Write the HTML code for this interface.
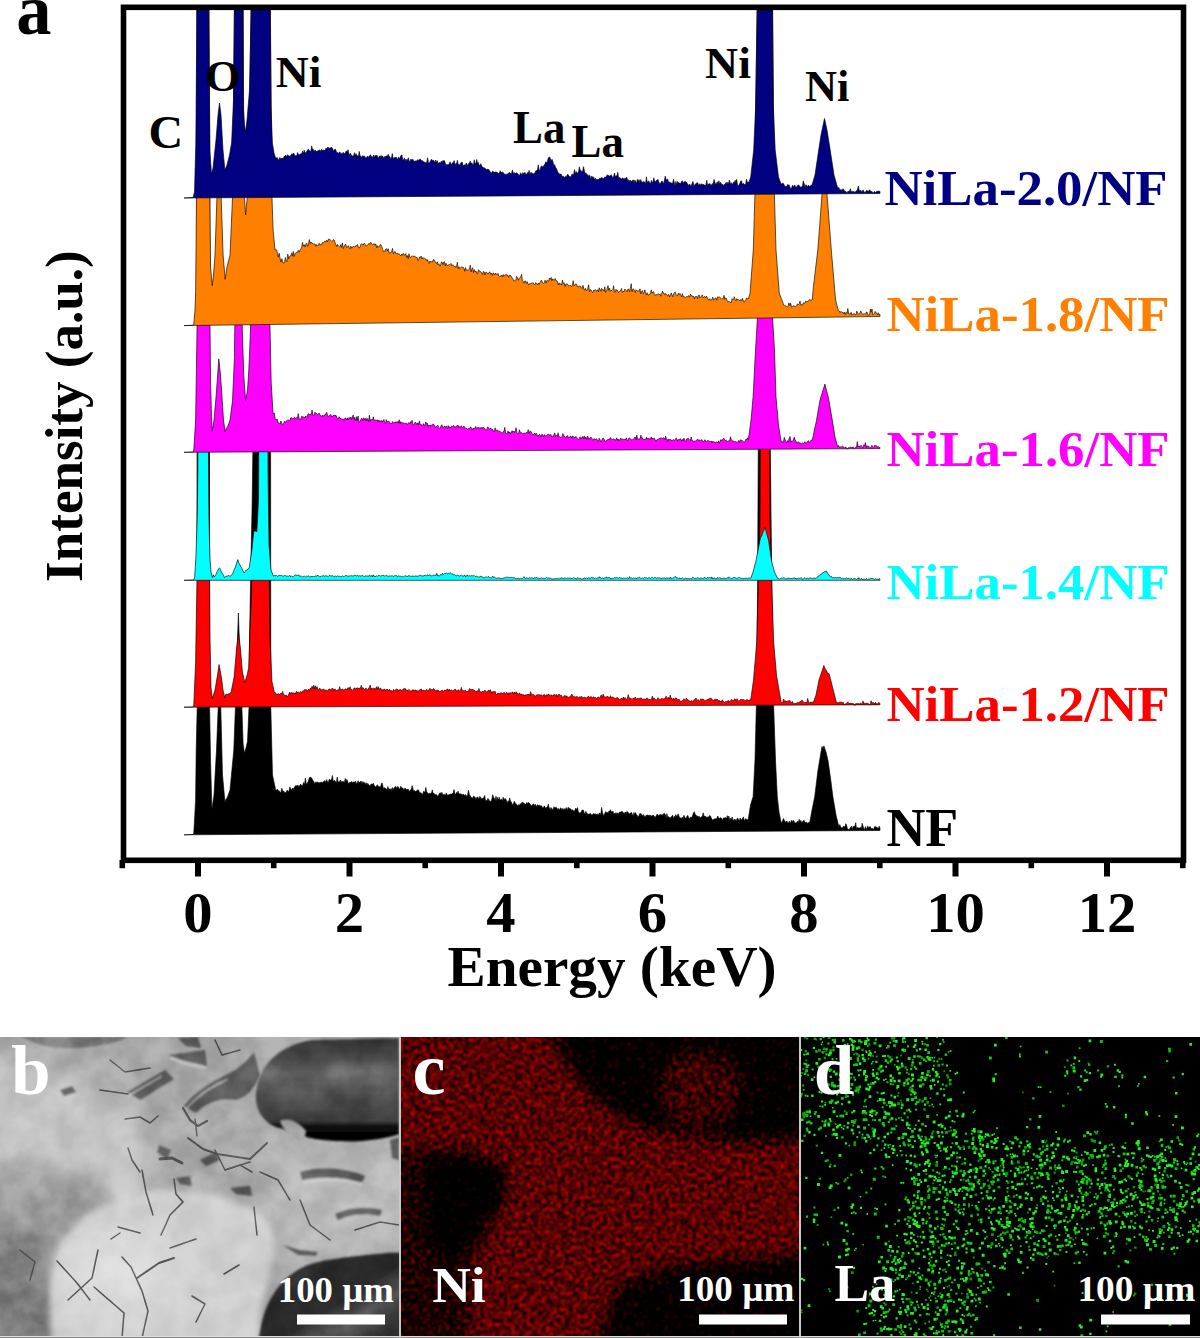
<!DOCTYPE html>
<html><head><meta charset="utf-8"><style>
html,body{margin:0;padding:0;background:#fff;}
svg{display:block;}
</style></head><body>
<svg width="1200" height="1338" viewBox="0 0 1200 1338">

<defs><clipPath id="plot"><rect x="126" y="10" width="1055" height="848"/></clipPath></defs>
<g clip-path="url(#plot)">
<path d="M184.0 834.8L193.0 834.5L193.8 833.0L195.6 800.0L196.2 750.0L197.2 707.5L197.3 440.0L209.4 440.0L209.6 707.5L210.6 762.5L211.9 809.4L214.0 795.0L216.5 750.0L218.2 707.5L219.4 690.0L220.8 707.5L222.5 775.0L225.0 802.5L225.8 799.4L226.7 798.3L227.5 797.0L230.0 790.0L233.8 750.0L235.4 707.5L236.8 660.0L238.4 613.0L240.0 660.0L241.9 707.5L243.1 743.8L244.4 753.0L246.0 748.0L247.5 741.2L249.0 707.5L249.5 640.0L250.6 580.0L252.2 500.0L253.0 440.0L270.6 440.0L270.8 707.5L272.5 775.0L275.6 789.4L276.5 790.3L277.4 789.0L278.2 791.0L279.1 790.7L280.0 792.5L280.9 792.3L281.8 788.2L282.7 791.6L283.6 791.1L284.5 792.2L285.4 792.8L286.2 791.9L287.1 790.2L288.0 791.0L288.9 791.7L289.8 786.9L290.7 788.7L291.6 789.8L292.5 788.0L293.4 788.9L294.2 787.7L295.1 786.2L295.9 785.5L296.8 786.1L297.6 785.1L298.5 786.1L299.3 786.6L300.2 784.6L301.0 784.4L301.9 786.2L302.8 785.1L303.6 782.4L304.5 784.9L305.4 778.0L306.3 784.2L307.1 783.5L308.0 782.0L308.8 779.5L309.6 777.4L310.4 777.3L311.2 777.5L312.2 779.1L313.1 780.7L314.0 782.0L314.9 784.0L315.7 781.8L316.6 782.9L317.4 781.8L318.3 782.8L319.1 783.3L320.0 782.0L320.8 782.5L321.7 782.2L322.5 782.4L323.3 782.0L324.2 781.0L325.0 780.6L325.8 782.9L326.7 779.6L327.5 782.1L328.3 782.7L329.2 779.2L330.0 780.0L330.8 780.0L331.6 779.4L332.4 775.5L333.2 781.9L334.0 780.4L334.8 780.5L335.6 782.0L336.4 783.0L337.2 777.1L338.0 781.7L338.8 782.1L339.6 781.7L340.4 780.0L341.2 783.2L342.0 780.9L342.8 782.1L343.6 781.6L344.4 782.5L345.2 778.6L346.0 780.9L346.8 779.5L347.6 781.1L348.4 783.9L349.2 782.8L350.0 782.5L350.8 782.5L351.6 781.4L352.4 782.9L353.2 781.9L354.0 781.9L354.8 782.1L355.6 781.3L356.5 784.3L357.3 782.5L358.1 780.7L358.9 783.3L359.7 782.0L360.5 781.6L361.3 781.3L362.1 783.9L362.9 781.5L363.7 783.1L364.5 782.4L365.3 784.7L366.1 782.7L366.9 785.1L367.7 783.3L368.5 784.4L369.4 785.3L370.2 786.1L371.0 784.1L371.8 784.2L372.6 784.1L373.4 783.3L374.2 785.8L375.0 786.2L375.8 787.3L376.6 785.7L377.4 784.7L378.2 786.2L379.0 787.0L379.8 786.4L380.6 787.1L381.5 783.2L382.3 783.3L383.1 787.2L383.9 789.1L384.7 787.5L385.5 788.2L386.3 789.3L387.1 789.6L387.9 786.6L388.7 789.4L389.5 789.1L390.3 789.4L391.1 788.4L391.9 790.8L392.7 787.6L393.5 790.1L394.4 787.5L395.2 786.7L396.0 786.6L396.8 788.7L397.6 786.5L398.4 786.9L399.2 789.1L400.0 788.8L400.8 786.2L401.6 788.0L402.4 788.0L403.2 788.5L404.0 790.1L404.8 788.2L405.6 788.5L406.5 789.4L407.3 789.4L408.1 789.0L408.9 790.8L409.7 791.5L410.5 789.8L411.3 790.3L412.1 785.6L412.9 788.6L413.7 791.5L414.5 790.5L415.3 791.4L416.1 791.0L416.9 790.9L417.7 789.7L418.5 790.0L419.4 792.6L420.2 793.1L421.0 792.6L421.8 794.3L422.6 794.8L423.4 791.4L424.2 791.6L425.0 792.5L425.8 787.5L426.6 791.8L427.4 792.7L428.2 794.0L429.0 793.2L429.8 793.6L430.6 793.4L431.5 793.0L432.3 789.9L433.1 793.6L433.9 793.1L434.7 794.7L435.5 794.6L436.3 794.7L437.1 795.3L437.9 796.5L438.7 794.9L439.5 793.3L440.3 792.7L441.1 794.0L441.9 792.3L442.7 794.8L443.5 794.8L444.4 794.0L445.2 795.9L446.0 793.4L446.8 793.6L447.6 795.4L448.4 794.9L449.2 794.4L450.0 794.5L450.8 794.0L451.6 794.1L452.4 793.6L453.2 793.3L454.0 789.6L454.8 793.6L455.6 794.4L456.5 792.4L457.3 793.6L458.1 791.1L458.9 794.1L459.7 793.9L460.5 793.7L461.3 793.9L462.1 795.5L462.9 794.1L463.7 794.6L464.5 795.5L465.3 794.4L466.1 795.7L466.9 796.4L467.7 794.5L468.5 790.2L469.4 794.9L470.2 796.0L471.0 796.7L471.8 797.9L472.6 798.2L473.4 796.3L474.2 796.7L475.0 797.0L475.8 799.8L476.6 797.6L477.4 797.1L478.2 797.4L479.0 799.3L479.8 796.5L480.6 797.3L481.5 799.0L482.3 798.5L483.1 797.9L483.9 797.8L484.7 795.5L485.5 801.1L486.3 800.2L487.1 800.8L487.9 798.4L488.7 799.3L489.5 801.3L490.3 801.3L491.1 801.4L491.9 798.9L492.7 794.7L493.5 797.3L494.4 798.2L495.2 800.7L496.0 796.3L496.8 801.3L497.6 797.4L498.4 800.4L499.2 797.2L500.0 800.0L500.8 800.0L501.6 798.9L502.4 801.5L503.2 797.2L504.0 799.4L504.8 798.9L505.6 798.7L506.5 800.7L507.3 803.2L508.1 800.8L508.9 801.8L509.7 797.9L510.5 801.7L511.3 801.8L512.1 804.5L512.9 804.4L513.7 802.8L514.5 801.2L515.3 803.9L516.1 803.6L516.9 804.8L517.7 806.2L518.5 804.5L519.4 805.9L520.2 803.6L521.0 804.8L521.8 802.4L522.6 802.5L523.4 802.8L524.2 803.2L525.0 804.5L525.8 804.4L526.6 802.6L527.4 804.3L528.2 802.1L529.0 803.5L529.8 803.5L530.6 805.1L531.5 806.1L532.3 805.1L533.1 804.1L533.9 803.9L534.7 806.5L535.5 804.3L536.3 806.4L537.1 805.4L537.9 804.7L538.7 805.8L539.5 805.0L540.3 805.9L541.1 805.7L541.9 806.3L542.7 807.9L543.5 807.4L544.4 805.8L545.2 807.5L546.0 808.6L546.8 807.0L547.6 806.5L548.4 804.1L549.2 809.6L550.0 807.5L550.8 810.6L551.6 807.7L552.4 809.7L553.2 809.4L554.0 806.7L554.8 807.9L555.6 807.4L556.5 807.6L557.3 809.6L558.1 808.3L558.9 809.5L559.7 809.7L560.5 807.7L561.3 808.5L562.1 810.1L562.9 808.4L563.7 809.7L564.5 809.0L565.3 808.4L566.1 809.5L566.9 807.5L567.7 810.7L568.5 807.3L569.4 808.6L570.2 808.7L571.0 809.2L571.8 810.6L572.6 809.7L573.4 810.7L574.2 811.4L575.0 810.0L575.8 808.1L576.7 810.0L577.5 807.6L578.3 811.6L579.2 812.9L580.0 812.9L580.8 812.8L581.7 810.5L582.5 810.1L583.3 810.0L584.2 812.9L585.0 814.3L585.8 811.4L586.7 813.2L587.5 813.8L588.3 814.2L589.2 814.3L590.0 813.6L590.8 813.7L591.7 815.3L592.5 814.7L593.3 813.6L594.2 814.1L595.0 813.9L595.8 814.2L596.7 814.6L597.5 814.2L598.3 814.8L599.2 813.2L600.0 813.2L600.8 814.7L601.6 807.4L602.4 812.0L603.2 815.4L604.1 814.7L604.9 813.2L605.7 811.6L606.5 812.8L607.3 812.3L608.1 813.4L608.9 811.1L609.7 811.2L610.5 809.7L611.4 812.1L612.2 811.8L613.0 811.1L613.8 813.7L614.6 813.5L615.4 813.2L616.2 812.7L617.0 814.4L617.8 812.8L618.6 814.2L619.5 812.1L620.3 812.3L621.1 811.8L621.9 811.4L622.7 811.8L623.5 813.3L624.3 813.7L625.1 812.1L625.9 812.9L626.8 811.7L627.6 811.8L628.4 812.7L629.2 814.1L630.0 813.6L630.8 812.7L631.6 812.6L632.4 815.0L633.2 815.6L634.0 812.5L634.8 814.4L635.6 812.6L636.4 814.8L637.2 815.3L638.0 816.7L638.8 816.3L639.6 813.7L640.4 813.6L641.2 813.7L642.0 814.9L642.8 816.2L643.6 814.6L644.4 816.6L645.2 816.9L646.0 815.3L646.8 815.3L647.6 814.9L648.4 815.9L649.2 814.8L650.0 816.0L650.8 815.2L651.6 816.6L652.4 815.4L653.2 815.1L654.0 816.0L654.8 817.3L655.6 816.9L656.5 815.2L657.3 814.0L658.1 815.1L658.9 816.3L659.7 814.5L660.5 814.4L661.3 815.2L662.1 814.3L662.9 815.7L663.7 813.6L664.5 813.5L665.3 814.5L666.1 818.1L666.9 813.7L667.7 817.8L668.5 816.5L669.4 817.3L670.2 818.6L671.0 816.8L671.8 816.7L672.6 815.0L673.4 819.0L674.2 816.2L675.0 817.4L675.8 814.6L676.6 816.3L677.4 816.2L678.2 813.8L679.0 816.2L679.8 817.7L680.6 818.0L681.5 818.4L682.3 817.1L683.1 818.5L683.9 815.3L684.7 816.8L685.5 819.3L686.3 817.4L687.1 816.1L687.9 815.5L688.7 817.9L689.5 818.4L690.3 817.5L691.1 816.9L691.9 817.7L692.7 815.3L693.5 813.0L694.4 811.7L695.2 814.8L696.0 814.9L696.8 816.4L697.6 816.1L698.4 816.7L699.2 816.2L700.0 818.4L700.8 817.1L701.6 816.8L702.4 816.5L703.2 812.8L704.0 816.3L704.8 816.3L705.6 816.3L706.4 817.2L707.2 817.4L708.0 816.6L708.8 817.3L709.6 815.5L710.4 815.9L711.2 817.8L712.1 819.5L712.9 820.1L713.7 819.5L714.5 818.8L715.3 818.7L716.1 818.9L716.9 818.5L717.7 816.0L718.5 817.7L719.3 818.9L720.1 817.5L720.9 818.1L721.7 818.5L722.5 820.4L723.3 817.9L724.1 818.2L724.9 817.7L725.7 817.7L726.5 818.7L727.3 815.7L728.1 818.6L728.9 816.0L729.7 820.7L730.5 818.1L731.3 820.5L732.1 817.0L732.9 819.7L733.8 820.4L734.6 819.0L735.4 819.8L736.2 821.0L737.0 818.6L737.8 818.1L738.6 820.2L739.4 820.5L740.2 818.0L741.0 819.4L741.8 820.0L742.6 818.3L743.4 816.9L744.2 820.7L745.0 819.6L745.8 818.6L746.6 819.4L747.5 819.7L748.3 819.0L750.5 805.0L753.1 796.7L755.0 760.0L756.3 707.5L757.5 600.0L758.3 440.0L770.2 440.0L772.0 600.0L773.7 707.5L775.5 760.0L777.3 796.7L779.0 812.0L781.0 822.0L781.8 822.9L782.7 820.3L783.5 818.5L784.3 820.3L785.1 821.4L786.0 822.6L786.8 821.0L787.6 822.4L788.4 823.0L789.3 821.2L790.1 823.5L790.9 821.7L791.7 820.3L792.6 821.4L793.4 820.4L794.2 821.6L795.0 823.2L795.9 822.7L796.7 822.4L797.5 821.3L798.3 822.8L799.2 819.2L800.0 822.0L800.8 820.4L801.7 822.8L802.5 821.7L803.3 820.7L804.2 820.4L805.0 823.1L805.8 822.3L806.7 822.2L807.5 823.4L808.3 822.4L809.2 823.1L810.0 821.0L812.0 810.0L814.7 796.7L818.0 770.0L821.0 752.0L822.0 746.5L822.9 748.5L823.9 745.9L826.0 752.0L828.0 760.4L830.5 778.0L832.9 796.7L836.0 815.0L838.9 826.9L839.8 824.6L840.6 826.8L841.5 828.0L842.3 827.7L843.2 826.5L844.0 826.3L844.9 827.3L845.7 823.7L846.6 825.1L847.4 829.0L848.3 829.1L849.1 830.4L850.0 828.0L850.8 827.4L851.6 826.0L852.4 829.7L853.2 826.4L854.1 826.2L854.9 826.5L855.7 822.7L856.5 828.9L857.3 827.5L858.1 827.7L858.9 828.2L859.7 827.9L860.5 827.2L861.4 828.8L862.2 823.3L863.0 826.2L863.8 828.7L864.6 829.6L865.4 826.6L866.2 829.2L867.0 828.2L867.8 825.9L868.6 828.2L869.5 826.9L870.3 826.6L871.1 829.1L871.9 828.3L872.7 828.6L873.5 830.1L874.3 827.3L875.1 826.2L875.9 827.3L876.8 827.3L877.6 827.8L878.4 828.7L879.2 826.2L880.0 828.1L880.0 830.5Z" fill="#000000" stroke="#000" stroke-width="0.8" stroke-opacity="0.8" stroke-linejoin="round"/>
<path d="M184.0 707.2L193.0 707.0L193.8 705.0L195.6 662.5L196.2 625.0L197.1 580.0L197.2 440.0L209.4 440.0L209.6 580.0L210.0 637.5L211.0 687.5L212.3 698.4L215.0 690.0L217.5 675.0L219.1 664.5L221.5 678.0L223.0 690.0L224.9 698.0L225.9 693.9L227.0 694.7L228.0 694.0L229.1 693.7L230.1 693.4L231.2 691.7L234.1 677.0L236.6 648.0L238.5 633.0L240.4 648.0L242.4 672.0L244.8 682.4L247.2 674.7L248.7 667.4L250.1 628.5L251.1 604.0L251.6 580.0L253.5 565.0L256.0 545.0L258.2 520.0L259.5 490.0L260.0 440.0L269.0 440.0L269.2 580.0L270.0 637.5L271.9 681.2L274.4 692.5L275.2 692.3L276.0 694.7L276.8 693.7L277.6 694.4L278.4 693.4L279.2 695.1L280.0 693.8L280.9 693.5L281.8 693.5L282.7 691.4L283.6 694.8L284.5 695.0L285.4 695.6L286.2 695.0L287.1 696.6L287.9 696.4L288.8 694.0L289.6 692.2L290.4 694.2L291.2 692.3L292.1 693.6L292.9 692.4L293.8 693.2L294.6 693.1L295.4 694.2L296.2 691.4L297.1 692.1L297.9 692.5L298.8 691.9L299.6 693.6L300.4 691.5L301.2 692.4L302.1 691.5L302.9 690.8L303.8 690.9L304.6 689.5L305.4 689.8L306.2 689.3L307.1 691.6L307.9 690.0L308.8 689.1L309.6 690.6L310.4 688.1L311.2 688.8L312.1 686.2L312.9 688.6L313.7 685.2L314.5 688.7L315.3 685.7L316.1 689.2L317.0 686.5L317.8 689.7L318.6 689.5L319.4 688.2L320.2 688.5L321.0 690.5L321.8 689.4L322.7 690.0L323.5 688.8L324.3 689.7L325.1 691.1L325.9 689.8L326.7 690.2L327.6 690.9L328.4 689.4L329.2 689.0L330.0 689.0L330.8 690.4L331.6 689.0L332.4 688.0L333.2 689.0L334.0 690.9L334.8 688.8L335.6 689.8L336.4 690.7L337.2 690.2L338.0 689.8L338.8 690.2L339.6 686.6L340.4 689.5L341.2 689.8L342.1 689.0L342.9 689.1L343.7 690.4L344.5 689.8L345.3 688.8L346.1 689.1L346.9 689.6L347.7 687.9L348.5 687.8L349.3 688.8L350.1 686.7L350.9 689.9L351.7 689.2L352.5 690.4L353.3 690.0L354.1 688.1L354.9 687.9L355.7 689.3L356.5 688.1L357.3 687.7L358.1 689.0L358.9 687.9L359.7 688.3L360.5 687.9L361.3 685.3L362.1 689.2L362.9 687.6L363.8 688.8L364.6 689.4L365.4 688.6L366.2 688.1L367.0 689.6L367.8 690.2L368.6 687.9L369.4 687.4L370.2 685.0L371.0 689.6L371.8 688.1L372.6 688.8L373.4 688.4L374.2 688.1L375.0 689.5L375.8 688.2L376.6 686.7L377.4 689.2L378.2 686.6L379.0 689.5L379.8 688.4L380.6 687.9L381.5 689.7L382.3 689.4L383.1 691.0L383.9 688.9L384.7 689.2L385.5 690.6L386.3 689.3L387.1 689.6L387.9 689.5L388.7 690.8L389.5 689.3L390.3 690.4L391.1 690.9L391.9 690.6L392.7 691.5L393.5 689.5L394.4 690.4L395.2 689.5L396.0 690.4L396.8 688.7L397.6 689.4L398.4 690.3L399.2 689.8L400.0 690.0L400.8 689.4L401.6 690.8L402.4 689.9L403.2 689.1L404.0 688.6L404.8 688.7L405.6 688.8L406.5 690.9L407.3 690.1L408.1 690.4L408.9 689.4L409.7 690.4L410.5 690.9L411.3 691.5L412.1 690.0L412.9 690.0L413.7 689.8L414.5 690.7L415.3 689.7L416.1 691.9L416.9 690.1L417.7 691.7L418.5 690.7L419.4 689.9L420.2 690.0L421.0 688.8L421.8 690.0L422.6 691.1L423.4 689.9L424.2 690.9L425.0 690.5L425.8 690.9L426.6 689.3L427.4 690.7L428.2 691.1L429.0 689.7L429.8 688.2L430.6 689.9L431.5 689.5L432.3 689.5L433.1 688.7L433.9 688.9L434.7 690.1L435.5 690.6L436.3 691.3L437.1 689.8L437.9 691.3L438.7 690.3L439.5 691.8L440.3 691.2L441.1 690.9L441.9 690.0L442.7 691.0L443.5 691.2L444.4 690.1L445.2 690.3L446.0 690.6L446.8 689.3L447.6 689.0L448.4 690.9L449.2 689.1L450.0 690.5L450.8 690.4L451.6 689.9L452.4 690.9L453.2 690.7L454.0 689.7L454.8 689.3L455.6 689.3L456.5 691.1L457.3 690.9L458.1 689.8L458.9 690.0L459.7 691.3L460.5 691.0L461.3 687.4L462.1 689.7L462.9 690.5L463.7 690.7L464.5 690.7L465.3 690.0L466.1 691.6L466.9 691.7L467.7 691.2L468.5 691.3L469.4 688.6L470.2 689.3L471.0 689.4L471.8 689.8L472.6 689.0L473.4 690.2L474.2 690.6L475.0 690.5L475.8 691.9L476.6 691.0L477.4 690.7L478.2 691.2L479.0 688.5L479.8 692.0L480.6 691.8L481.5 692.3L482.3 691.1L483.1 691.6L483.9 691.8L484.7 690.3L485.5 690.7L486.3 692.4L487.1 691.4L487.9 691.1L488.7 690.0L489.5 691.3L490.3 689.7L491.1 691.3L491.9 693.6L492.7 691.6L493.5 691.4L494.4 691.8L495.2 691.3L496.0 694.3L496.8 694.7L497.6 693.2L498.4 693.3L499.2 693.9L500.0 693.0L500.8 692.9L501.6 692.8L502.4 693.3L503.2 693.7L504.0 692.2L504.8 694.2L505.6 693.4L506.5 692.6L507.3 692.7L508.1 694.6L508.9 692.6L509.7 693.3L510.5 692.8L511.3 693.2L512.1 692.2L512.9 692.1L513.7 694.3L514.5 692.0L515.3 693.9L516.1 691.7L516.9 693.2L517.7 693.3L518.5 694.3L519.4 693.1L520.2 693.7L521.0 695.0L521.8 693.8L522.6 695.3L523.4 694.5L524.2 695.5L525.0 695.0L525.8 694.9L526.6 694.5L527.4 694.5L528.2 694.8L529.0 694.1L529.8 695.4L530.6 691.6L531.5 694.4L532.3 694.4L533.1 694.4L533.9 694.7L534.7 695.7L535.5 696.1L536.3 695.3L537.1 694.6L537.9 694.9L538.7 694.4L539.5 694.7L540.3 695.8L541.1 694.5L541.9 696.0L542.7 695.8L543.5 694.8L544.4 694.4L545.2 696.5L546.0 694.9L546.8 694.9L547.6 695.2L548.4 693.8L549.2 695.0L550.0 695.5L550.8 695.0L551.6 694.9L552.4 696.1L553.2 695.1L554.0 694.6L554.8 694.4L555.6 695.3L556.5 694.3L557.3 697.0L558.1 694.7L558.9 694.3L559.7 694.5L560.5 695.5L561.3 695.2L562.1 697.2L562.9 697.0L563.7 696.4L564.5 695.6L565.3 695.6L566.1 697.5L566.9 695.8L567.7 697.4L568.5 697.3L569.4 697.6L570.2 696.1L571.0 695.9L571.8 694.1L572.6 695.6L573.4 696.2L574.2 696.5L575.0 697.0L575.8 696.9L576.7 696.5L577.5 696.7L578.3 698.4L579.2 697.0L580.0 696.7L580.8 697.3L581.7 696.2L582.5 698.3L583.3 697.5L584.2 697.5L585.0 697.1L585.8 698.6L586.7 697.6L587.5 697.5L588.3 696.1L589.2 696.7L590.0 698.0L590.8 696.5L591.7 697.1L592.5 697.9L593.3 696.8L594.2 697.6L595.0 697.3L595.8 697.7L596.7 698.2L597.5 697.5L598.3 696.8L599.2 698.1L600.0 697.5L600.8 695.5L601.6 695.0L602.4 697.7L603.2 694.1L604.0 696.2L604.8 696.9L605.6 697.0L606.5 697.0L607.3 696.1L608.1 697.3L608.9 696.9L609.7 697.9L610.5 695.7L611.3 697.4L612.1 697.2L612.9 697.0L613.7 697.9L614.5 698.0L615.3 698.6L616.1 698.6L616.9 697.3L617.7 697.8L618.5 698.5L619.4 699.5L620.2 699.4L621.0 698.6L621.8 698.1L622.6 699.4L623.4 697.0L624.2 699.5L625.0 697.5L625.8 698.7L626.6 699.2L627.4 698.5L628.2 694.6L629.0 698.0L629.8 698.0L630.6 698.0L631.5 699.2L632.3 699.4L633.1 698.1L633.9 698.3L634.7 698.0L635.5 697.1L636.3 699.6L637.1 698.4L637.9 698.3L638.7 698.7L639.5 698.3L640.3 698.1L641.1 698.1L641.9 698.4L642.7 700.1L643.5 698.9L644.4 699.3L645.2 699.1L646.0 699.2L646.8 697.9L647.6 698.2L648.4 699.7L649.2 699.6L650.0 699.3L650.8 700.0L651.6 698.8L652.4 696.0L653.2 699.9L654.0 697.8L654.8 698.9L655.6 699.6L656.5 700.4L657.3 698.8L658.1 697.7L658.9 699.4L659.7 699.2L660.5 699.8L661.3 698.5L662.1 698.2L662.9 699.1L663.7 698.9L664.5 698.6L665.3 697.8L666.1 696.2L666.9 697.7L667.7 698.0L668.5 697.5L669.4 699.0L670.2 695.1L671.0 698.4L671.8 698.0L672.6 700.2L673.4 698.3L674.2 699.8L675.0 698.3L675.8 698.0L676.6 698.1L677.4 700.1L678.2 699.7L679.0 699.0L679.8 700.8L680.6 701.3L681.5 701.2L682.3 700.5L683.1 700.7L683.9 698.7L684.7 700.2L685.5 700.4L686.3 698.0L687.1 699.4L687.9 699.8L688.7 700.2L689.5 701.1L690.3 701.6L691.1 700.5L691.9 701.0L692.7 701.1L693.5 701.0L694.4 699.3L695.2 699.0L696.0 698.1L696.8 699.4L697.6 700.7L698.4 699.7L699.2 701.3L700.0 700.5L700.8 698.7L701.6 699.3L702.4 699.1L703.2 699.3L704.0 699.9L704.8 700.5L705.6 700.4L706.4 699.9L707.2 700.0L708.0 699.0L708.8 699.0L709.6 698.5L710.4 698.2L711.2 698.2L712.1 699.9L712.9 699.9L713.7 700.4L714.5 699.6L715.3 698.9L716.1 700.2L716.9 699.0L717.7 699.6L718.5 701.2L719.3 700.2L720.1 702.1L720.9 700.9L721.7 701.3L722.5 699.8L723.3 701.3L724.1 702.3L724.9 702.0L725.7 701.5L726.5 701.5L727.3 702.2L728.1 700.2L728.9 701.1L729.7 701.4L730.5 701.2L731.3 699.6L732.1 699.7L732.9 700.8L733.8 700.4L734.6 698.8L735.4 699.3L736.2 700.4L737.0 698.7L737.8 700.2L738.6 701.2L739.4 700.7L740.2 699.9L741.0 699.1L741.8 699.7L742.6 699.5L743.4 699.7L744.2 699.7L745.0 700.5L745.8 700.9L746.6 699.4L747.4 699.8L748.3 700.4L749.1 700.6L749.9 699.4L750.7 700.0L753.5 680.0L756.7 642.5L758.2 590.0L760.0 520.0L760.3 440.0L769.7 440.0L770.0 520.0L771.9 590.0L773.7 642.5L776.5 675.0L781.0 701.7L781.8 702.5L782.7 702.9L783.5 699.0L784.3 700.7L785.1 701.3L786.0 700.8L786.8 701.8L787.6 701.1L788.4 700.9L789.3 700.6L790.1 700.7L790.9 702.7L791.7 702.1L792.6 701.5L793.4 703.7L794.2 703.8L795.0 703.3L795.9 703.5L796.7 702.9L797.5 702.5L798.3 702.9L799.2 701.9L800.0 702.4L800.8 701.0L801.7 700.2L802.5 700.4L803.4 702.2L804.2 702.5L805.1 702.7L805.9 702.3L806.8 703.1L807.6 698.4L808.4 701.1L809.3 702.9L810.1 703.1L811.0 701.7L811.8 703.3L812.7 701.9L813.5 702.0L816.0 695.0L819.0 680.0L823.9 665.5L825.0 668.4L826.0 670.0L826.8 670.8L827.6 674.0L828.4 673.2L829.2 674.0L832.0 685.0L836.5 703.0L837.3 702.5L838.2 702.8L839.0 702.6L839.9 701.7L840.7 702.4L841.6 702.1L842.4 702.7L843.2 702.1L844.1 704.7L844.9 704.3L845.8 703.7L846.6 703.3L847.5 702.3L848.3 702.5L849.2 703.5L850.0 703.2L850.8 703.3L851.6 703.3L852.4 703.2L853.2 703.8L854.1 703.8L854.9 705.5L855.7 703.6L856.5 703.7L857.3 703.6L858.1 703.5L858.9 703.7L859.7 704.1L860.5 702.9L861.4 703.7L862.2 703.9L863.0 700.9L863.8 703.6L864.6 703.3L865.4 703.4L866.2 703.0L867.0 703.6L867.8 703.1L868.6 703.9L869.5 705.1L870.3 704.8L871.1 700.7L871.9 703.4L872.7 702.5L873.5 702.6L874.3 704.3L875.1 702.7L875.9 702.6L876.8 704.3L877.6 704.0L878.4 702.7L879.2 702.8L880.0 703.4L880.0 704.8Z" fill="#ff0000" stroke="#000" stroke-width="0.8" stroke-opacity="0.8" stroke-linejoin="round"/>
<path d="M184.0 580.3L193.5 580.0L194.6 578.0L195.9 557.0L197.2 519.0L197.8 470.0L198.0 318.0L208.2 318.0L208.5 470.0L209.0 519.0L209.9 557.0L211.0 572.0L212.4 577.4L213.3 574.8L214.1 576.9L215.0 576.0L215.8 574.8L216.7 572.2L217.5 571.0L218.6 568.7L219.6 567.9L221.5 572.0L222.5 573.7L223.5 575.3L224.5 577.4L225.4 576.7L226.2 576.5L227.1 575.9L228.0 576.0L228.8 575.3L229.6 576.3L230.4 575.9L231.2 575.3L232.0 574.9L233.0 572.8L234.0 570.0L235.0 568.0L237.8 559.6L238.9 563.0L240.0 565.0L240.8 567.0L241.7 567.9L242.5 570.0L243.4 571.6L244.2 573.0L245.1 571.5L246.1 570.0L247.0 570.0L248.1 568.8L249.2 567.9L251.8 550.7L253.7 531.7L254.8 531.1L255.8 531.2L256.9 531.7L258.5 500.0L259.4 318.0L267.7 318.0L268.0 470.0L269.0 544.4L270.9 569.8L273.4 576.1L274.2 575.5L275.0 575.8L275.9 575.5L276.7 575.5L277.5 576.3L278.4 576.0L279.2 575.1L280.0 575.8L280.8 575.2L281.6 575.5L282.4 575.9L283.2 576.0L284.0 576.0L284.8 575.3L285.6 575.6L286.4 576.2L287.2 576.0L288.0 576.2L288.8 576.2L289.6 575.4L290.4 576.6L291.2 575.7L292.0 576.6L292.8 576.7L293.6 576.5L294.4 575.8L295.2 574.8L296.0 575.5L296.8 575.3L297.6 575.7L298.4 574.7L299.2 575.9L300.0 576.0L300.8 576.1L301.6 576.4L302.4 576.9L303.2 576.6L304.0 576.2L304.8 576.2L305.6 576.9L306.5 576.1L307.3 576.4L308.1 575.7L308.9 576.4L309.7 576.8L310.5 577.0L311.3 576.1L312.1 576.9L312.9 576.0L313.7 576.5L314.5 576.6L315.3 576.0L316.1 576.1L316.9 576.1L317.7 575.0L318.5 576.1L319.4 576.7L320.2 576.4L321.0 576.6L321.8 575.7L322.6 576.1L323.4 575.6L324.2 576.2L325.0 575.7L325.8 575.9L326.6 575.9L327.4 576.2L328.2 576.5L329.0 575.5L329.8 575.2L330.6 576.2L331.5 575.8L332.3 575.8L333.1 575.8L333.9 576.7L334.7 576.7L335.5 575.7L336.3 576.7L337.1 576.2L337.9 575.8L338.7 576.3L339.5 576.0L340.3 576.8L341.1 576.7L341.9 576.4L342.7 575.8L343.5 576.5L344.4 576.4L345.2 575.7L346.0 575.2L346.8 575.9L347.6 576.0L348.4 576.1L349.2 576.0L350.0 576.0L350.8 575.7L351.6 575.7L352.4 576.0L353.2 575.8L354.0 575.7L354.8 575.2L355.6 575.5L356.5 575.8L357.3 575.4L358.1 575.7L358.9 576.3L359.7 575.4L360.5 576.0L361.3 575.8L362.1 575.9L362.9 575.4L363.7 576.4L364.5 576.4L365.3 575.8L366.1 576.1L366.9 576.0L367.7 576.0L368.5 576.4L369.4 575.0L370.2 575.6L371.0 576.6L371.8 575.2L372.6 576.8L373.4 574.8L374.2 576.6L375.0 576.5L375.8 576.5L376.6 575.6L377.4 576.4L378.2 575.6L379.0 575.4L379.8 575.7L380.6 575.9L381.5 575.7L382.3 575.5L383.1 575.5L383.9 575.3L384.7 576.2L385.5 575.7L386.3 575.4L387.1 576.1L387.9 575.9L388.7 576.3L389.5 575.9L390.3 576.2L391.1 575.6L391.9 576.1L392.7 575.8L393.5 576.3L394.4 575.8L395.2 575.6L396.0 575.6L396.8 575.8L397.6 576.5L398.4 575.8L399.2 576.2L400.0 576.0L400.8 576.4L401.6 576.7L402.4 576.7L403.2 576.8L404.0 576.6L404.8 575.6L405.6 575.9L406.4 576.3L407.2 576.2L408.0 576.7L408.8 575.3L409.6 576.1L410.4 576.2L411.2 576.4L412.0 576.1L412.8 576.1L413.6 576.1L414.4 576.4L415.2 575.9L416.0 576.1L416.8 576.1L417.6 576.2L418.4 576.1L419.2 575.5L420.0 575.0L420.8 575.6L421.6 575.8L422.4 575.9L423.2 575.8L424.0 576.1L424.8 575.1L425.6 575.3L426.4 575.9L427.2 575.1L428.0 574.9L428.8 575.8L429.6 574.7L430.4 575.0L431.2 576.0L432.0 575.7L432.8 575.6L433.6 575.0L434.4 575.2L435.2 575.1L436.0 575.5L436.8 573.2L437.6 575.9L438.4 575.5L439.2 576.0L440.0 575.5L440.8 574.2L441.7 575.2L442.5 573.4L443.3 574.4L444.2 573.7L445.0 573.0L445.8 573.5L446.7 573.1L447.5 573.8L448.3 573.2L449.2 573.5L450.0 572.5L450.8 573.2L451.7 574.2L452.5 573.8L453.3 574.9L454.2 574.5L455.0 575.0L455.8 575.8L456.6 575.8L457.4 574.9L458.2 575.3L459.0 575.8L459.8 576.1L460.6 575.4L461.4 575.2L462.2 575.8L463.0 576.0L463.8 576.2L464.6 574.9L465.4 576.6L466.2 576.6L467.1 574.9L467.9 576.0L468.7 576.0L469.5 575.7L470.3 576.1L471.1 575.5L471.9 575.8L472.7 575.8L473.5 575.7L474.3 575.6L475.1 576.5L475.9 576.4L476.7 576.2L477.5 576.6L478.3 577.0L479.1 576.9L479.9 577.2L480.7 575.9L481.5 576.8L482.3 576.7L483.1 577.8L483.9 577.7L484.7 577.7L485.5 577.0L486.3 576.9L487.1 577.5L487.9 576.6L488.8 576.6L489.6 577.8L490.4 577.3L491.2 578.0L492.0 577.6L492.8 576.1L493.6 577.6L494.4 576.9L495.2 577.9L496.0 578.4L496.8 578.2L497.6 578.1L498.4 578.0L499.2 578.0L500.0 578.0L500.8 578.8L501.6 578.5L502.4 578.5L503.2 578.3L504.0 577.5L504.8 577.9L505.6 577.4L506.4 577.2L507.2 576.9L508.0 577.7L508.8 577.0L509.6 577.8L510.4 577.3L511.2 577.3L512.0 577.6L512.8 577.6L513.6 577.8L514.4 577.7L515.2 578.3L516.0 578.8L516.8 578.5L517.6 578.6L518.4 578.1L519.2 579.1L520.0 578.7L520.8 577.9L521.6 578.8L522.4 578.5L523.2 577.7L524.0 576.6L524.8 578.3L525.6 578.5L526.4 577.8L527.2 578.0L528.0 578.2L528.8 578.5L529.6 577.4L530.4 578.0L531.2 577.9L532.0 577.8L532.8 578.0L533.6 578.6L534.4 577.5L535.2 578.4L536.0 577.2L536.8 577.7L537.6 578.0L538.4 578.3L539.2 578.5L540.0 578.4L540.8 578.2L541.6 577.9L542.4 578.5L543.2 578.3L544.0 577.9L544.8 578.5L545.6 578.3L546.4 577.5L547.2 577.9L548.0 578.1L548.8 577.9L549.6 578.1L550.4 578.2L551.2 578.7L552.0 578.7L552.8 579.1L553.6 578.8L554.4 578.8L555.2 578.6L556.0 579.0L556.8 578.2L557.6 578.7L558.4 578.2L559.2 578.8L560.0 579.0L560.8 577.8L561.6 578.0L562.4 577.8L563.2 578.8L564.0 578.1L564.8 577.9L565.6 578.1L566.4 578.2L567.2 578.2L568.0 577.8L568.8 578.4L569.6 578.0L570.4 577.9L571.2 578.8L572.0 578.2L572.8 578.3L573.6 577.6L574.4 578.3L575.2 578.3L576.0 578.9L576.8 578.9L577.6 577.6L578.4 578.4L579.2 578.2L580.0 578.6L580.8 578.5L581.6 579.0L582.4 578.9L583.2 578.9L584.0 577.9L584.8 578.3L585.6 578.5L586.4 577.7L587.2 578.6L588.0 578.0L588.8 577.8L589.6 578.1L590.4 578.2L591.2 577.5L592.0 577.3L592.8 577.9L593.6 577.7L594.4 578.6L595.2 577.9L596.0 578.7L596.8 578.2L597.6 578.0L598.4 578.1L599.2 576.7L600.0 578.0L600.8 577.7L601.6 578.6L602.4 578.0L603.2 578.3L604.0 578.3L604.8 577.8L605.6 577.9L606.4 576.8L607.2 578.0L608.0 577.8L608.8 577.3L609.6 577.7L610.4 578.6L611.2 578.7L612.0 578.5L612.8 578.4L613.6 578.3L614.4 577.3L615.2 577.9L616.0 577.6L616.8 577.4L617.6 577.9L618.4 578.4L619.2 577.4L620.0 577.8L620.8 578.0L621.6 578.0L622.4 578.4L623.2 578.0L624.0 578.5L624.8 578.0L625.6 578.2L626.4 578.4L627.2 577.7L628.0 578.1L628.8 578.7L629.6 576.6L630.4 578.1L631.2 577.8L632.0 578.3L632.8 578.4L633.6 577.9L634.4 578.3L635.2 578.1L636.0 578.4L636.8 578.7L637.6 577.7L638.4 577.9L639.2 577.2L640.0 577.4L640.8 578.3L641.6 578.2L642.4 577.9L643.2 578.6L644.0 577.8L644.8 577.4L645.6 577.8L646.4 577.6L647.2 578.4L648.0 578.3L648.8 577.6L649.6 577.6L650.4 578.5L651.2 578.0L652.0 577.1L652.8 577.7L653.6 578.3L654.4 577.5L655.2 577.5L656.0 577.8L656.8 578.3L657.6 577.8L658.4 577.9L659.2 578.0L660.0 577.8L660.8 578.3L661.6 578.6L662.4 578.0L663.2 578.2L664.0 577.8L664.8 578.2L665.6 578.5L666.4 578.0L667.2 578.3L668.0 577.8L668.8 578.2L669.6 578.5L670.4 577.0L671.2 578.7L672.0 577.9L672.8 578.4L673.6 578.1L674.4 577.2L675.2 576.4L676.0 577.8L676.8 577.7L677.6 577.9L678.4 578.6L679.2 577.8L680.0 578.9L680.8 578.4L681.6 578.3L682.4 577.8L683.2 578.5L684.0 579.0L684.8 578.7L685.6 578.2L686.4 578.5L687.2 578.5L688.0 579.1L688.8 578.4L689.6 578.8L690.4 578.4L691.2 578.9L692.0 578.5L692.8 577.2L693.6 577.8L694.4 578.6L695.2 578.3L696.0 578.2L696.8 578.2L697.6 577.7L698.4 578.1L699.2 578.5L700.0 578.3L700.8 578.1L701.6 578.0L702.4 578.4L703.2 578.6L704.0 577.4L704.8 577.5L705.6 578.0L706.5 578.6L707.3 577.5L708.1 577.6L708.9 578.0L709.7 577.5L710.5 577.9L711.3 576.9L712.1 579.0L712.9 577.6L713.7 578.6L714.5 577.7L715.3 578.9L716.1 578.4L716.9 578.8L717.7 577.4L718.5 578.4L719.4 577.7L720.2 578.3L721.0 577.8L721.8 578.9L722.6 578.5L723.4 578.1L724.2 578.4L725.0 577.9L725.8 578.8L726.6 578.0L727.4 577.7L728.2 578.4L729.0 576.8L729.8 577.7L730.6 578.5L731.4 578.5L732.3 578.3L733.1 577.9L733.9 577.5L734.7 577.5L735.5 577.7L736.3 578.3L737.1 578.4L737.9 578.2L738.7 577.2L739.5 577.5L740.3 578.0L741.1 578.4L741.9 578.2L742.7 578.6L743.5 578.6L744.3 578.5L745.2 578.0L746.0 578.8L746.8 578.1L747.6 578.7L748.4 578.0L749.2 578.0L750.0 578.2L750.8 578.3L753.0 572.0L755.8 561.7L760.0 540.0L760.8 537.2L761.7 536.0L762.5 533.5L763.3 531.6L764.2 529.3L765.0 527.5L768.5 540.0L771.7 561.7L774.5 572.0L775.5 574.3L776.5 576.0L777.5 578.3L778.3 578.5L779.1 578.9L779.9 579.0L780.7 578.8L781.5 577.9L782.3 578.2L783.1 577.5L783.9 577.9L784.7 578.3L785.5 578.9L786.3 578.5L787.1 578.9L787.9 578.1L788.8 578.1L789.6 578.4L790.4 578.4L791.2 578.6L792.0 578.2L792.8 578.3L793.6 578.3L794.4 577.7L795.2 578.9L796.0 578.0L796.8 579.2L797.6 578.5L798.4 578.2L799.2 578.1L800.0 578.5L800.8 577.9L801.7 578.1L802.5 578.9L803.3 578.9L804.2 578.1L805.0 577.7L805.8 578.5L806.7 578.5L807.5 578.3L808.3 578.8L809.2 578.0L810.0 578.3L810.8 577.9L811.7 578.2L812.5 578.5L813.3 578.1L814.2 578.2L815.0 578.0L815.8 578.5L816.7 577.5L817.5 577.1L818.3 575.9L819.2 575.8L820.0 575.0L820.8 574.3L821.7 574.2L822.5 572.8L823.3 572.6L824.1 572.4L825.0 571.0L825.8 571.7L826.6 571.1L827.4 572.9L828.2 574.0L829.0 575.0L829.9 576.1L830.8 576.8L831.6 576.6L832.5 578.0L833.3 577.5L834.2 577.5L835.0 578.0L835.8 577.3L836.7 577.9L837.5 577.6L838.3 578.2L839.2 576.9L840.0 577.9L840.8 577.7L841.7 578.4L842.5 578.3L843.3 578.5L844.2 579.1L845.0 578.2L845.8 578.6L846.7 577.9L847.5 578.4L848.3 578.3L849.2 578.4L850.0 579.0L850.8 578.8L851.6 578.5L852.4 579.4L853.2 578.9L854.1 578.6L854.9 578.3L855.7 579.0L856.5 579.5L857.3 578.6L858.1 579.2L858.9 577.7L859.7 579.5L860.5 579.0L861.4 578.4L862.2 579.5L863.0 579.4L863.8 579.1L864.6 579.2L865.4 579.5L866.2 578.8L867.0 578.6L867.8 579.7L868.6 579.0L869.5 579.0L870.3 578.5L871.1 578.7L871.9 578.4L872.7 578.6L873.5 578.9L874.3 579.3L875.1 579.4L875.9 578.5L876.8 579.6L877.6 579.1L878.4 579.7L879.2 578.4L880.0 579.2L880.0 580.3Z" fill="#00ffff" stroke="#000" stroke-width="0.8" stroke-opacity="0.8" stroke-linejoin="round"/>
<path d="M184.0 452.3L193.0 452.0L193.8 450.0L195.6 420.0L196.2 382.5L197.0 330.0L197.1 190.0L209.8 190.0L210.0 325.6L210.6 382.5L211.5 415.0L212.2 431.2L214.0 420.0L216.2 395.0L218.8 358.8L220.5 375.0L221.9 395.0L223.5 420.0L225.2 431.9L226.2 428.6L227.1 427.3L228.0 426.0L230.0 420.0L232.5 401.0L234.4 357.5L234.8 325.6L235.0 190.0L241.9 190.0L242.2 325.6L243.8 376.0L245.6 400.6L247.5 390.0L248.8 370.0L250.5 330.0L251.0 190.0L269.8 190.0L270.0 325.6L271.2 382.5L273.1 413.8L274.2 412.9L275.2 418.8L276.2 420.0L277.2 419.1L278.1 423.0L279.1 422.9L280.0 423.8L280.9 421.0L281.8 423.6L282.7 424.2L283.6 423.4L284.5 421.3L285.4 422.3L286.2 421.2L287.1 420.5L288.0 419.6L288.9 420.9L289.8 420.6L290.7 418.0L291.6 417.7L292.5 418.8L293.3 419.1L294.2 417.4L295.0 417.6L295.8 418.9L296.7 417.4L297.5 418.0L298.3 413.6L299.2 419.5L300.0 418.8L300.8 419.3L301.7 416.2L302.5 416.8L303.3 416.7L304.2 418.0L305.0 416.9L305.9 416.1L306.8 417.4L307.7 414.7L308.6 413.5L309.5 415.1L310.4 414.1L311.2 414.4L312.1 410.1L313.0 415.4L313.9 415.4L314.8 412.2L315.6 413.3L316.5 413.5L317.4 414.3L318.2 414.4L319.1 413.0L320.0 415.0L320.8 415.5L321.7 416.7L322.5 415.0L323.3 416.4L324.2 415.1L325.0 415.0L325.8 413.9L326.7 412.3L327.5 415.2L328.3 416.6L329.2 415.6L330.0 415.4L330.8 414.4L331.7 417.0L332.5 415.9L333.3 415.6L334.2 415.0L335.0 416.2L335.8 415.1L336.7 417.0L337.5 418.8L338.3 418.9L339.2 416.7L340.0 418.8L340.8 418.1L341.7 419.5L342.5 419.1L343.3 419.0L344.2 420.5L345.0 418.0L345.8 418.1L346.7 419.8L347.5 417.8L348.3 419.7L349.2 417.5L350.0 418.8L350.8 417.1L351.6 419.7L352.4 416.4L353.2 415.0L354.0 419.3L354.8 417.4L355.6 420.8L356.5 416.7L357.3 420.5L358.1 416.0L358.9 422.0L359.7 422.1L360.5 420.1L361.3 418.5L362.1 418.4L362.9 420.5L363.7 417.8L364.5 419.6L365.3 418.3L366.1 421.0L366.9 418.3L367.7 419.0L368.5 421.6L369.4 415.2L370.2 421.2L371.0 419.2L371.8 420.2L372.6 419.6L373.4 416.8L374.2 420.5L375.0 420.0L375.8 420.0L376.6 420.2L377.4 419.8L378.2 421.7L379.0 419.9L379.8 422.1L380.6 420.9L381.5 420.6L382.3 422.1L383.1 420.3L383.9 419.5L384.7 422.5L385.5 423.3L386.3 419.6L387.1 421.9L387.9 421.7L388.7 420.9L389.5 422.1L390.3 423.3L391.1 423.1L391.9 423.7L392.7 421.5L393.5 422.9L394.4 422.2L395.2 423.1L396.0 421.6L396.8 422.8L397.6 421.5L398.4 423.0L399.2 419.7L400.0 423.8L400.8 421.6L401.6 422.9L402.4 422.7L403.2 423.2L404.0 422.8L404.8 423.8L405.6 422.9L406.5 423.5L407.3 424.2L408.1 423.6L408.9 422.5L409.7 423.7L410.5 421.7L411.3 422.7L412.1 420.3L412.9 424.7L413.7 425.0L414.5 423.3L415.3 422.0L416.1 423.0L416.9 424.7L417.7 422.8L418.5 424.8L419.4 420.9L420.2 424.5L421.0 424.6L421.8 424.9L422.6 425.5L423.4 423.6L424.2 425.5L425.0 425.0L425.8 421.9L426.6 423.8L427.4 423.3L428.2 426.5L429.0 424.9L429.8 426.4L430.6 425.0L431.5 425.2L432.3 425.2L433.1 423.8L433.9 425.1L434.7 425.4L435.5 427.5L436.3 426.7L437.1 425.7L437.9 425.3L438.7 427.4L439.5 428.2L440.3 427.9L441.1 425.7L441.9 424.7L442.7 427.4L443.5 427.8L444.4 425.8L445.2 427.2L446.0 426.6L446.8 425.8L447.6 429.0L448.4 425.7L449.2 427.2L450.0 427.0L450.8 428.0L451.6 426.2L452.4 426.5L453.2 425.4L454.0 425.9L454.8 427.2L455.6 427.1L456.4 426.0L457.2 426.0L458.0 425.0L458.8 427.6L459.6 426.5L460.4 427.0L461.2 425.7L462.0 427.7L462.8 427.8L463.6 425.9L464.4 426.8L465.2 428.1L466.0 428.5L466.8 428.3L467.6 429.5L468.4 428.6L469.2 428.8L470.0 427.5L470.8 426.9L471.6 428.4L472.4 429.8L473.2 428.0L474.1 429.4L474.9 427.8L475.7 426.5L476.5 428.3L477.3 427.4L478.1 428.7L478.9 427.3L479.7 428.6L480.5 427.7L481.4 427.5L482.2 428.5L483.0 427.0L483.8 427.8L484.6 428.3L485.4 429.4L486.2 430.4L487.0 428.9L487.8 426.8L488.6 428.1L489.5 429.3L490.3 428.3L491.1 428.3L491.9 429.5L492.7 429.5L493.5 431.3L494.3 432.1L495.1 427.8L495.9 430.3L496.8 430.3L497.6 430.3L498.4 430.9L499.2 431.2L500.0 431.2L500.8 432.5L501.6 432.5L502.4 433.4L503.2 432.0L504.0 430.9L504.8 427.4L505.6 432.7L506.5 434.0L507.3 433.2L508.1 430.9L508.9 433.3L509.7 431.9L510.5 433.9L511.3 432.0L512.1 430.7L512.9 432.4L513.7 431.1L514.5 432.5L515.3 430.8L516.1 427.8L516.9 432.4L517.7 433.7L518.5 433.7L519.4 429.7L520.2 431.9L521.0 432.9L521.8 432.7L522.6 433.7L523.4 433.5L524.2 432.8L525.0 433.8L525.8 432.7L526.6 432.6L527.4 432.9L528.2 429.6L529.0 433.3L529.8 431.5L530.6 431.0L531.5 433.0L532.3 433.7L533.1 435.0L533.9 434.1L534.7 433.0L535.5 434.6L536.3 433.2L537.1 434.9L537.9 436.8L538.7 435.1L539.5 434.3L540.3 435.3L541.1 437.0L541.9 434.2L542.7 434.5L543.5 437.0L544.4 434.6L545.2 435.9L546.0 436.0L546.8 435.2L547.6 434.5L548.4 433.9L549.2 434.8L550.0 435.5L550.8 434.3L551.6 436.7L552.4 435.8L553.2 436.6L554.0 434.4L554.8 432.9L555.6 436.5L556.5 435.2L557.3 436.3L558.1 432.8L558.9 436.6L559.7 436.8L560.5 437.6L561.3 437.3L562.1 436.5L562.9 433.6L563.7 436.2L564.5 436.1L565.3 436.8L566.1 437.6L566.9 435.9L567.7 435.7L568.5 437.8L569.4 437.6L570.2 436.3L571.0 436.3L571.8 438.1L572.6 435.8L573.4 437.0L574.2 437.2L575.0 438.0L575.8 436.4L576.7 437.5L577.5 438.7L578.3 439.4L579.2 438.6L580.0 436.8L580.8 439.2L581.7 437.7L582.5 436.5L583.3 438.8L584.2 435.9L585.0 438.7L585.8 437.1L586.7 439.6L587.5 436.0L588.3 437.6L589.2 439.4L590.0 437.7L590.8 437.1L591.7 438.0L592.5 439.9L593.3 440.1L594.2 438.5L595.0 439.7L595.8 439.4L596.7 438.7L597.5 441.1L598.3 441.4L599.2 438.3L600.0 439.5L600.8 442.0L601.6 441.1L602.4 438.5L603.2 438.0L604.0 439.0L604.8 441.1L605.6 441.3L606.4 440.4L607.2 440.6L608.0 439.1L608.8 439.8L609.6 438.5L610.4 437.6L611.2 439.2L612.0 439.3L612.8 439.3L613.6 438.9L614.4 439.2L615.2 440.1L616.0 439.8L616.8 437.8L617.6 440.5L618.4 439.1L619.2 440.6L620.0 439.2L620.8 438.1L621.6 439.4L622.4 439.0L623.2 439.4L624.0 439.7L624.8 439.3L625.6 439.6L626.4 437.8L627.2 440.3L628.0 440.7L628.8 438.1L629.6 438.0L630.4 438.7L631.2 439.7L632.0 439.9L632.8 439.5L633.6 438.7L634.4 438.0L635.2 436.9L636.0 439.6L636.8 435.1L637.6 439.4L638.4 438.9L639.2 439.1L640.0 439.0L640.8 435.1L641.6 438.2L642.4 437.7L643.2 439.3L644.0 439.4L644.8 439.6L645.6 439.7L646.4 437.3L647.2 439.1L648.0 438.1L648.8 439.1L649.6 438.5L650.4 439.5L651.2 436.9L652.0 439.1L652.8 438.1L653.6 438.7L654.4 438.2L655.2 440.1L656.0 441.3L656.8 439.7L657.6 439.6L658.4 439.1L659.2 438.8L660.0 438.0L660.8 438.3L661.6 437.8L662.4 438.6L663.2 437.7L664.0 438.0L664.8 439.5L665.6 436.1L666.4 439.1L667.2 439.2L668.0 441.5L668.8 438.9L669.6 440.1L670.4 439.2L671.2 440.6L672.0 440.2L672.8 440.3L673.6 439.4L674.4 440.5L675.2 439.9L676.0 437.9L676.8 439.2L677.6 441.2L678.4 439.2L679.2 439.9L680.0 438.7L680.8 439.1L681.6 441.3L682.4 439.3L683.2 441.0L684.0 438.1L684.8 440.9L685.6 441.7L686.4 439.1L687.2 438.8L688.0 437.9L688.8 438.9L689.6 440.2L690.4 440.8L691.2 436.9L692.0 440.4L692.8 440.7L693.6 441.2L694.4 441.1L695.2 441.4L696.0 440.3L696.8 439.9L697.6 439.2L698.4 440.0L699.2 440.1L700.0 440.2L700.8 441.1L701.6 439.4L702.4 440.7L703.2 441.3L704.0 441.6L704.8 439.7L705.6 441.1L706.4 441.7L707.2 441.3L708.0 440.2L708.8 441.4L709.6 441.1L710.4 441.9L711.2 440.9L712.1 443.0L712.9 441.1L713.7 442.1L714.5 442.1L715.3 442.8L716.1 441.9L716.9 442.2L717.7 442.7L718.5 440.8L719.3 443.2L720.1 441.3L720.9 439.6L721.7 440.8L722.5 439.3L723.3 438.5L724.1 438.6L724.9 440.4L725.7 440.6L726.5 440.4L727.3 441.6L728.1 441.3L728.9 440.6L729.7 440.8L730.5 436.7L731.3 440.1L732.1 440.7L732.9 440.8L733.8 441.4L734.6 441.5L735.4 441.4L736.2 441.9L737.0 442.4L737.8 441.6L738.6 440.6L739.4 442.8L740.2 439.8L741.0 440.5L741.8 440.1L742.6 441.2L743.4 441.7L744.2 442.1L745.0 441.4L745.8 439.2L746.6 439.6L747.5 437.8L748.3 440.0L751.0 420.0L753.1 396.7L755.5 350.0L757.3 320.0L757.5 190.0L772.5 190.0L772.7 320.0L774.5 350.0L776.0 396.7L778.5 425.0L781.0 441.4L781.8 441.0L782.7 442.5L783.5 441.5L784.3 437.4L785.1 439.9L786.0 441.5L786.8 442.7L787.6 440.6L788.4 441.9L789.3 437.7L790.1 436.5L790.9 442.2L791.7 440.9L792.6 441.2L793.4 440.1L794.2 437.1L795.0 439.6L795.9 441.1L796.7 443.0L797.5 442.8L798.3 441.7L799.2 443.4L800.0 442.6L800.8 443.9L801.7 443.7L802.5 442.9L803.3 443.6L804.2 442.8L805.0 441.6L805.8 443.5L806.7 442.9L807.5 441.5L808.3 440.6L809.2 442.6L810.0 442.0L811.1 440.1L812.3 440.0L814.0 432.0L816.4 420.8L820.0 400.0L824.9 384.1L828.5 398.0L832.4 420.8L835.0 437.0L837.7 447.0L838.5 445.4L839.3 447.2L840.2 446.7L841.0 447.3L841.8 446.6L842.6 446.1L843.4 446.8L844.3 447.6L845.1 448.0L845.9 446.8L846.7 448.9L847.5 449.0L848.4 447.6L849.2 448.0L850.0 447.2L850.8 447.0L851.6 447.4L852.4 447.6L853.2 446.8L854.1 448.4L854.9 448.1L855.7 447.2L856.5 447.5L857.3 441.6L858.1 447.0L858.9 446.0L859.7 446.1L860.5 445.8L861.4 445.6L862.2 446.9L863.0 447.8L863.8 444.7L864.6 445.8L865.4 442.5L866.2 447.7L867.0 445.5L867.8 446.8L868.6 446.1L869.5 447.6L870.3 448.4L871.1 446.7L871.9 445.3L872.7 447.4L873.5 448.2L874.3 445.3L875.1 446.1L875.9 445.3L876.8 446.0L877.6 447.1L878.4 446.5L879.2 447.9L880.0 447.4L880.0 448.6Z" fill="#ff00ff" stroke="#000" stroke-width="0.8" stroke-opacity="0.8" stroke-linejoin="round"/>
<path d="M184.0 325.6L193.0 325.2L193.8 323.5L195.0 310.0L195.6 292.5L196.2 230.0L196.8 150.0L197.0 10.0L209.0 10.0L209.4 120.0L209.8 198.0L210.6 267.5L212.2 285.6L213.5 275.0L215.0 255.0L216.9 198.0L217.8 175.0L219.2 165.0L220.5 175.0L221.2 198.0L223.1 255.0L225.2 279.4L226.9 267.5L230.0 255.0L232.5 198.0L233.6 100.0L234.3 10.0L243.2 10.0L243.6 107.0L244.5 198.0L245.6 215.0L247.2 198.0L249.8 89.0L251.0 10.0L270.4 10.0L271.2 107.0L272.0 198.0L273.1 230.0L275.0 250.0L275.8 249.8L276.7 249.9L277.5 253.8L278.3 257.1L279.2 253.2L280.0 258.0L280.9 262.1L281.9 258.7L282.8 262.6L283.8 263.1L284.6 261.7L285.4 257.5L286.2 261.3L287.0 261.5L287.8 254.1L288.6 259.0L289.4 256.5L290.2 255.9L291.0 255.8L291.8 252.8L292.6 256.3L293.4 251.4L294.2 256.4L295.0 254.0L295.8 252.8L296.7 252.3L297.5 252.3L298.3 250.4L299.2 252.2L300.0 249.9L300.8 249.1L301.7 247.0L302.5 242.4L303.3 246.1L304.2 244.7L305.0 247.0L305.9 244.1L306.7 243.0L307.6 246.3L308.4 245.1L309.3 239.6L310.1 243.5L311.0 242.0L311.8 243.4L312.6 243.2L313.5 244.2L314.3 244.0L315.1 244.2L315.9 246.2L316.7 244.5L317.5 246.1L318.4 245.2L319.2 243.3L320.0 245.0L320.8 244.4L321.7 244.7L322.5 242.2L323.4 242.9L324.2 241.7L325.1 241.1L325.9 242.0L326.8 240.1L327.6 241.9L328.5 239.1L329.3 239.3L330.2 239.8L331.0 240.5L331.8 241.3L332.6 240.9L333.5 239.5L334.3 240.1L335.1 242.6L335.9 244.7L336.7 246.6L337.5 244.4L338.4 246.0L339.2 246.7L340.0 247.0L340.8 244.4L341.7 247.5L342.5 242.9L343.3 248.6L344.2 246.7L345.0 244.5L345.8 244.3L346.7 247.8L347.5 247.2L348.3 245.6L349.2 247.6L350.0 248.8L350.8 246.2L351.7 248.2L352.5 246.8L353.3 246.4L354.2 246.9L355.0 247.0L355.8 245.5L356.7 245.9L357.5 244.5L358.3 247.3L359.2 248.1L360.0 246.9L360.8 244.5L361.7 243.6L362.5 244.7L363.3 245.1L364.2 243.0L365.0 244.5L365.8 245.0L366.7 246.2L367.5 245.4L368.3 244.0L369.2 243.3L370.0 244.2L370.8 242.3L371.7 243.9L372.5 245.0L373.3 244.4L374.2 243.6L375.0 245.3L375.8 243.9L376.7 247.8L377.5 245.7L378.3 247.1L379.2 246.9L380.0 244.8L380.8 244.6L381.7 246.3L382.5 248.6L383.3 251.7L384.2 250.9L385.0 251.6L385.8 248.9L386.7 248.8L387.5 251.0L388.3 248.7L389.2 253.1L390.0 252.8L390.8 252.8L391.7 251.3L392.5 248.4L393.3 253.7L394.2 252.1L395.0 251.4L395.8 253.2L396.7 254.1L397.5 252.9L398.3 254.1L399.2 254.0L400.0 254.8L400.8 255.9L401.7 254.1L402.5 255.4L403.3 253.2L404.2 255.2L405.0 255.0L405.8 253.5L406.6 257.3L407.4 255.5L408.2 258.6L409.0 253.7L409.8 257.1L410.6 257.2L411.5 256.7L412.3 255.7L413.1 256.5L413.9 256.0L414.7 256.0L415.5 257.1L416.3 257.5L417.1 257.3L417.9 260.5L418.7 260.3L419.5 257.0L420.3 257.4L421.1 256.1L421.9 259.0L422.7 257.6L423.5 258.1L424.4 258.2L425.2 258.9L426.0 258.9L426.8 260.8L427.6 259.6L428.4 262.4L429.2 263.5L430.0 261.0L430.8 262.3L431.6 261.6L432.4 262.1L433.2 259.8L434.0 259.5L434.8 260.9L435.6 262.5L436.5 263.5L437.3 261.7L438.1 264.7L438.9 263.7L439.7 265.9L440.5 266.0L441.3 261.9L442.1 262.2L442.9 264.7L443.7 262.0L444.5 261.7L445.3 266.0L446.1 263.2L446.9 265.0L447.7 265.9L448.5 264.8L449.4 264.6L450.2 264.3L451.0 263.4L451.8 265.8L452.6 264.8L453.4 265.3L454.2 266.5L455.0 266.0L455.8 267.6L456.6 266.2L457.4 262.2L458.2 268.8L459.0 266.8L459.8 268.4L460.6 267.6L461.5 266.8L462.3 267.2L463.1 267.1L463.9 268.2L464.7 271.3L465.5 267.6L466.3 270.4L467.1 269.6L467.9 270.5L468.7 269.7L469.5 268.4L470.3 265.1L471.1 271.8L471.9 269.0L472.7 267.7L473.5 272.5L474.4 269.5L475.2 271.9L476.0 271.0L476.8 273.6L477.6 273.4L478.4 269.7L479.2 271.1L480.0 271.0L480.8 271.7L481.7 273.0L482.5 274.5L483.3 271.6L484.2 271.8L485.0 275.0L485.8 272.3L486.7 272.3L487.5 273.7L488.3 273.8L489.1 272.3L489.9 271.9L490.7 274.2L491.5 273.2L492.3 275.5L493.1 273.0L494.0 273.3L494.8 274.9L495.6 273.0L496.4 274.4L497.2 274.6L498.0 273.4L498.8 276.0L499.6 276.5L500.4 275.8L501.2 276.3L502.0 274.8L502.8 276.8L503.6 274.6L504.4 275.3L505.2 275.7L506.1 274.2L506.9 275.4L507.7 275.1L508.5 277.4L509.3 275.2L510.1 275.3L510.9 275.7L511.7 277.3L512.5 278.2L513.3 280.3L514.2 280.3L515.0 281.3L515.8 280.3L516.6 276.3L517.5 277.8L518.3 280.3L519.1 278.3L519.9 277.7L520.8 277.0L521.6 274.3L522.4 280.8L523.2 281.3L524.0 283.2L524.9 280.9L525.7 281.1L526.5 283.4L527.3 281.7L528.2 284.2L529.0 285.1L529.8 283.4L530.6 284.0L531.5 282.9L532.3 282.9L533.2 282.8L534.0 284.2L534.9 284.7L535.8 282.6L536.6 283.7L537.5 284.9L538.3 283.1L539.1 284.5L540.0 282.4L540.9 280.6L541.7 280.5L542.6 282.9L543.4 283.4L544.3 282.7L545.1 280.2L546.0 283.2L546.9 280.5L547.7 280.7L548.6 281.3L549.4 278.1L550.3 279.3L551.1 277.4L551.9 280.9L552.7 278.8L553.5 279.9L554.3 280.3L555.1 278.5L556.0 280.9L556.8 280.7L557.6 282.0L558.4 284.9L559.2 282.9L560.0 284.6L560.8 283.6L561.7 285.1L562.5 280.0L563.3 283.5L564.2 282.8L565.0 286.7L565.8 284.1L566.7 283.8L567.5 284.0L568.3 285.6L569.2 286.2L570.0 285.2L570.8 285.6L571.6 286.7L572.4 285.0L573.2 280.7L574.1 285.9L574.9 284.5L575.7 284.0L576.5 284.1L577.3 286.5L578.1 286.1L578.9 286.7L579.7 286.0L580.5 286.2L581.4 288.2L582.2 288.3L583.0 285.3L583.8 289.0L584.6 290.4L585.4 288.3L586.2 290.3L587.0 290.5L587.8 288.6L588.6 284.8L589.5 291.7L590.3 289.4L591.1 290.1L591.9 291.6L592.7 292.7L593.5 290.4L594.3 290.8L595.1 289.6L595.9 290.7L596.8 291.0L597.6 289.8L598.4 292.0L599.2 287.8L600.0 289.5L600.8 291.4L601.6 288.3L602.4 289.7L603.2 289.7L604.0 291.2L604.8 286.8L605.6 292.4L606.4 291.4L607.2 288.5L608.0 285.6L608.8 290.4L609.6 288.2L610.4 291.4L611.2 290.5L612.0 290.4L612.8 289.4L613.6 285.7L614.4 292.2L615.2 292.1L616.0 289.3L616.8 290.9L617.6 290.3L618.4 292.6L619.2 291.7L620.0 290.9L620.8 290.1L621.6 288.4L622.4 292.5L623.2 291.4L624.0 291.7L624.8 289.1L625.6 289.9L626.4 290.5L627.2 291.9L628.0 289.0L628.8 289.1L629.6 291.7L630.4 288.2L631.2 283.7L632.0 291.7L632.8 289.3L633.6 288.9L634.4 290.8L635.2 292.5L636.0 289.7L636.8 290.8L637.6 291.1L638.4 290.9L639.2 291.4L640.0 288.8L640.8 293.9L641.6 291.8L642.4 290.5L643.2 293.3L644.0 293.2L644.8 289.8L645.6 293.2L646.4 295.1L647.2 292.7L648.0 295.1L648.8 295.1L649.6 294.0L650.4 293.8L651.2 289.9L652.0 293.2L652.8 292.1L653.6 291.7L654.4 294.5L655.2 295.6L656.0 294.4L656.8 294.9L657.6 294.8L658.4 293.7L659.2 294.5L660.0 293.7L660.8 296.2L661.6 294.4L662.4 291.0L663.2 292.9L664.0 293.1L664.8 294.8L665.6 293.5L666.4 294.2L667.2 295.8L668.0 296.0L668.8 294.4L669.6 297.0L670.4 295.3L671.2 292.9L672.0 294.7L672.8 296.8L673.6 294.3L674.4 292.7L675.2 292.2L676.0 294.4L676.8 295.8L677.6 295.6L678.4 293.1L679.2 294.8L680.0 293.5L680.8 295.4L681.6 296.9L682.4 293.6L683.2 297.0L684.0 296.5L684.8 296.9L685.6 297.4L686.4 296.7L687.2 296.8L688.0 295.9L688.8 295.8L689.6 297.2L690.4 294.0L691.2 295.4L692.0 295.5L692.8 297.0L693.6 296.2L694.4 298.9L695.2 296.5L696.0 297.0L696.8 296.3L697.6 298.7L698.4 295.4L699.2 295.0L700.0 298.0L700.8 297.5L701.6 295.7L702.4 294.8L703.2 297.9L704.0 297.0L704.8 296.4L705.6 297.8L706.4 296.1L707.2 297.8L708.0 299.1L708.8 300.3L709.6 298.7L710.4 299.8L711.2 300.3L712.0 299.0L712.8 297.1L713.6 300.3L714.4 299.2L715.2 298.1L716.0 297.9L716.8 300.2L717.6 296.8L718.4 297.1L719.2 296.9L720.0 297.5L720.8 298.2L721.6 298.9L722.4 298.7L723.2 298.6L724.0 295.3L724.8 299.4L725.6 297.8L726.4 298.6L727.2 300.9L728.0 302.0L728.8 301.5L729.6 301.7L730.4 302.2L731.2 303.0L732.0 298.6L732.8 299.5L733.6 299.3L734.4 296.8L735.2 300.1L736.0 301.0L736.8 298.6L737.6 299.8L738.4 299.4L739.2 300.3L740.0 300.8L740.8 299.4L741.7 300.6L742.5 298.3L743.4 301.4L744.2 302.4L745.0 300.8L745.9 299.7L746.7 297.8L747.6 299.0L748.4 298.8L750.0 293.3L753.3 250.0L754.9 194.8L755.7 105.0L757.0 10.0L772.7 10.0L773.5 105.0L774.4 194.8L776.0 250.0L779.3 293.3L783.0 303.0L783.8 305.2L784.6 305.4L785.5 305.7L786.3 306.3L787.2 307.2L788.0 306.4L788.9 302.8L789.8 305.5L790.6 303.2L791.5 307.2L792.4 306.7L793.3 305.6L794.1 306.2L795.0 306.3L795.8 306.4L796.7 305.9L797.5 303.8L798.3 304.9L799.2 303.7L800.0 301.0L800.8 305.4L801.7 304.6L802.5 305.1L803.3 302.7L804.2 303.1L805.0 303.0L805.8 300.9L806.6 301.9L807.4 301.7L808.2 300.8L809.1 300.7L809.9 299.4L810.7 300.6L811.5 300.1L812.3 299.8L813.4 286.7L817.8 250.0L820.5 215.0L822.0 194.0L824.5 186.0L827.0 194.0L831.3 250.0L835.6 300.0L838.3 310.7L839.2 311.0L840.1 312.5L841.0 311.3L842.0 312.7L842.9 312.2L843.8 314.0L844.6 312.1L845.4 314.6L846.2 312.4L847.0 313.4L847.8 308.5L848.7 313.8L849.5 313.8L850.3 314.3L851.1 312.3L851.9 315.1L852.7 314.2L853.5 313.9L854.3 313.4L855.1 314.9L856.0 314.9L856.8 311.1L857.6 313.0L858.4 314.1L859.2 314.3L860.0 312.8L860.8 310.9L861.6 313.4L862.4 313.9L863.2 313.9L864.0 314.3L864.8 313.5L865.6 314.3L866.4 312.0L867.2 312.3L868.0 315.5L868.8 315.1L869.6 315.0L870.4 309.0L871.2 312.2L872.0 309.0L872.8 314.9L873.6 314.3L874.4 313.2L875.2 311.4L876.0 313.2L876.8 313.0L877.6 314.9L878.4 312.7L879.2 315.0L880.0 314.4L880.0 316.5Z" fill="#ff8000" stroke="#000" stroke-width="0.8" stroke-opacity="0.8" stroke-linejoin="round"/>
<path d="M184.0 198.0L193.0 197.6L194.5 192.0L195.8 143.0L196.5 60.0L196.8 10.0L208.8 10.0L209.5 100.0L210.0 152.0L211.5 174.0L213.0 168.0L216.0 140.0L218.0 115.0L219.5 103.0L221.0 115.0L223.0 150.0L224.9 170.0L225.9 167.6L227.0 165.0L229.5 155.0L231.6 143.0L233.5 100.0L234.5 10.0L243.0 10.0L243.3 107.0L244.5 125.0L245.5 132.0L247.0 120.0L249.6 89.0L251.2 10.0L270.2 10.0L271.0 107.0L272.4 143.0L274.0 153.0L275.6 158.0L276.5 158.1L277.3 157.5L278.1 159.8L279.0 160.0L279.8 157.5L280.7 158.4L281.5 158.6L282.4 158.1L283.2 159.0L284.1 156.3L284.9 156.3L285.8 155.1L286.6 157.2L287.5 154.7L288.3 155.8L289.2 155.8L290.0 157.0L290.8 155.3L291.7 153.9L292.5 154.4L293.3 153.0L294.2 153.9L295.0 156.3L295.8 155.6L296.7 155.9L297.5 152.5L298.3 154.2L299.2 155.3L300.0 154.0L300.8 153.9L301.7 153.7L302.5 151.2L303.3 153.8L304.2 150.2L305.0 152.4L305.8 153.0L306.7 151.4L307.5 150.0L308.3 149.2L309.2 150.7L310.0 151.0L310.8 151.7L311.7 145.9L312.5 149.6L313.3 149.2L314.2 151.9L315.0 149.9L315.8 150.9L316.7 151.6L317.5 151.0L318.3 151.1L319.2 150.1L320.0 150.0L320.8 151.7L321.7 149.2L322.5 150.6L323.4 149.9L324.2 150.7L325.1 150.1L325.9 148.3L326.8 148.9L327.6 147.3L328.5 147.6L329.3 148.2L330.2 148.0L331.0 147.5L331.8 147.5L332.6 148.5L333.5 151.1L334.3 150.3L335.1 148.9L335.9 150.3L336.7 152.7L337.5 152.5L338.4 153.4L339.2 152.2L340.0 152.0L340.8 154.4L341.6 153.2L342.4 153.8L343.2 152.3L344.0 153.8L344.8 153.8L345.6 152.0L346.4 150.9L347.2 152.6L348.0 149.7L348.8 153.3L349.6 155.1L350.4 153.3L351.2 154.9L352.0 156.0L352.8 156.0L353.6 156.1L354.4 152.7L355.2 155.9L356.0 153.6L356.8 155.4L357.6 155.7L358.4 157.1L359.2 151.4L360.0 156.0L360.8 156.1L361.6 158.2L362.4 155.7L363.2 156.4L364.0 155.8L364.8 156.3L365.6 158.3L366.5 158.0L367.3 156.0L368.1 157.4L368.9 156.8L369.7 155.6L370.5 154.7L371.3 157.0L372.1 156.4L372.9 157.7L373.7 155.0L374.5 157.7L375.3 155.3L376.1 156.2L376.9 155.1L377.7 157.0L378.5 157.8L379.4 155.9L380.2 157.3L381.0 155.4L381.8 157.2L382.6 155.8L383.4 157.7L384.2 158.3L385.0 156.0L385.8 157.1L386.6 155.8L387.4 156.3L388.2 154.2L389.0 156.2L389.8 156.8L390.6 158.5L391.5 158.0L392.3 153.6L393.1 159.1L393.9 157.5L394.7 158.0L395.5 157.2L396.3 157.2L397.1 159.0L397.9 159.1L398.7 156.9L399.5 159.3L400.3 157.1L401.1 155.3L401.9 155.0L402.7 159.6L403.5 160.2L404.4 157.8L405.2 161.5L406.0 159.0L406.8 160.7L407.6 159.6L408.4 157.7L409.2 161.9L410.0 161.0L410.8 159.1L411.6 160.1L412.4 159.6L413.2 159.5L414.0 161.6L414.8 161.5L415.6 160.7L416.4 160.9L417.2 160.4L418.0 159.6L418.8 160.5L419.6 159.2L420.4 159.1L421.2 161.0L422.0 160.2L422.8 161.3L423.6 161.7L424.4 162.2L425.2 162.3L426.0 163.0L426.8 162.4L427.6 157.7L428.4 162.7L429.2 163.0L430.0 162.2L430.8 160.4L431.6 159.2L432.4 161.1L433.2 160.0L434.0 160.9L434.8 162.8L435.6 160.0L436.4 163.1L437.2 160.6L438.0 163.4L438.8 163.1L439.6 162.6L440.4 163.3L441.2 161.2L442.0 162.5L442.8 160.7L443.6 160.8L444.4 160.6L445.2 162.9L446.0 165.4L446.9 164.2L447.7 165.0L448.5 164.4L449.3 163.6L450.1 161.8L450.9 164.6L451.7 164.1L452.5 162.8L453.3 163.1L454.1 160.6L454.9 164.3L455.7 163.9L456.6 163.6L457.4 160.3L458.2 165.0L459.0 164.0L459.8 166.0L460.6 163.0L461.4 162.5L462.2 162.0L463.0 165.8L463.8 165.2L464.6 164.7L465.4 165.4L466.3 163.0L467.1 164.4L467.9 165.8L468.7 163.2L469.5 163.2L470.3 161.0L471.1 164.1L471.9 162.8L472.7 165.1L473.5 164.6L474.3 159.8L475.1 164.5L476.0 162.7L476.8 159.5L477.6 164.0L478.4 162.5L479.2 165.8L480.0 165.0L480.8 163.7L481.6 166.1L482.4 167.0L483.2 167.3L484.0 168.2L484.8 168.1L485.6 168.7L486.4 169.5L487.2 169.1L488.0 169.8L488.8 169.4L489.6 171.1L490.4 172.0L491.2 174.0L492.0 172.0L492.8 171.3L493.6 171.9L494.5 172.5L495.3 172.0L496.1 171.9L496.9 172.6L497.7 172.6L498.5 174.1L499.4 173.1L500.2 170.7L501.0 172.2L501.8 172.7L502.6 172.0L503.5 172.8L504.3 174.3L505.1 174.1L505.9 174.7L506.7 174.0L507.5 174.1L508.4 173.2L509.2 172.4L510.0 173.0L510.8 173.6L511.6 173.7L512.4 169.9L513.2 173.2L514.0 173.0L514.8 172.7L515.6 173.6L516.4 172.7L517.2 173.2L518.0 174.0L518.8 175.2L519.6 175.6L520.4 172.9L521.2 173.5L522.0 175.5L522.8 172.5L523.6 173.8L524.4 172.8L525.2 172.6L526.0 175.0L526.8 173.9L527.6 172.4L528.4 172.9L529.2 170.4L530.0 175.0L530.8 172.4L531.7 172.8L532.5 173.4L533.3 174.0L534.2 173.3L535.0 173.0L535.8 170.8L536.7 170.6L537.5 169.6L538.3 164.8L539.2 171.1L540.0 170.0L540.8 167.1L541.7 165.9L542.5 166.7L543.3 166.6L544.2 164.9L545.0 164.0L545.8 161.7L546.7 163.0L547.5 161.2L548.3 157.9L549.2 157.0L550.0 157.5L551.0 161.4L552.0 159.3L553.0 162.0L553.8 165.9L554.6 164.5L555.4 167.0L556.2 168.2L557.0 170.0L557.9 172.4L558.7 172.9L559.6 174.3L560.4 174.1L561.3 174.2L562.1 176.4L563.0 176.5L563.8 176.4L564.6 177.6L565.5 176.3L566.3 177.6L567.1 174.9L567.9 174.3L568.7 175.6L569.5 176.6L570.4 176.8L571.2 176.5L572.0 174.0L572.8 174.4L573.6 174.9L574.5 169.6L575.3 174.2L576.1 171.5L576.9 172.7L577.7 173.3L578.5 172.0L579.4 166.9L580.2 170.3L581.0 170.8L581.8 171.5L582.6 171.7L583.5 166.7L584.3 170.4L585.1 174.1L585.9 172.8L586.7 174.7L587.5 174.6L588.4 177.0L589.2 174.8L590.0 176.0L590.9 179.3L591.8 176.0L592.6 177.5L593.5 177.0L594.4 180.0L595.2 177.9L596.1 180.2L597.0 179.0L597.8 179.9L598.7 179.4L599.5 178.3L600.4 178.3L601.2 177.9L602.1 177.5L602.9 178.6L603.8 178.7L604.6 177.0L605.5 177.1L606.3 177.0L607.2 174.7L608.0 176.0L608.8 175.3L609.6 176.3L610.4 175.5L611.3 174.7L612.1 176.4L612.9 177.4L613.7 176.5L614.5 173.0L615.3 176.5L616.1 176.0L617.0 175.8L617.8 172.3L618.6 178.4L619.4 177.5L620.2 178.1L621.0 178.5L621.9 179.3L622.7 177.8L623.5 178.9L624.3 178.4L625.1 179.0L625.9 178.1L626.7 177.0L627.6 180.6L628.4 179.7L629.2 182.0L630.0 180.0L630.8 181.8L631.6 181.0L632.5 180.6L633.3 179.8L634.1 182.7L634.9 180.1L635.8 182.1L636.6 182.7L637.4 179.4L638.2 182.1L639.0 179.6L639.9 182.7L640.7 179.5L641.5 181.8L642.3 182.1L643.1 182.2L644.0 181.3L644.8 182.5L645.6 184.3L646.4 176.8L647.2 182.5L648.1 181.2L648.9 181.2L649.7 183.6L650.5 183.3L651.4 180.4L652.2 182.5L653.0 182.0L653.8 177.8L654.6 181.3L655.5 181.8L656.3 180.5L657.1 180.5L657.9 179.3L658.7 182.0L659.5 183.2L660.4 184.1L661.2 182.1L662.0 180.9L662.8 182.4L663.6 183.5L664.5 179.7L665.3 176.0L666.1 180.1L666.9 179.6L667.7 179.0L668.5 182.3L669.4 182.1L670.2 182.7L671.0 182.5L671.8 183.3L672.6 183.6L673.5 179.2L674.3 182.8L675.1 185.9L675.9 181.4L676.7 185.1L677.5 181.5L678.4 182.8L679.2 183.1L680.0 183.0L680.8 183.7L681.6 181.2L682.4 180.9L683.2 183.5L684.1 181.6L684.9 182.1L685.7 181.4L686.5 182.2L687.3 183.5L688.1 184.8L688.9 185.5L689.7 184.1L690.5 185.4L691.4 185.9L692.2 183.0L693.0 181.4L693.8 185.9L694.6 185.3L695.4 183.9L696.2 183.8L697.0 182.5L697.8 183.0L698.6 186.1L699.5 183.7L700.3 185.7L701.1 183.8L701.9 184.4L702.7 184.3L703.5 184.6L704.3 184.8L705.1 185.6L705.9 184.7L706.8 180.3L707.6 185.6L708.4 184.1L709.2 183.9L710.0 183.6L710.8 185.7L711.6 184.7L712.4 183.5L713.2 184.9L714.0 179.4L714.9 182.3L715.7 185.1L716.5 183.3L717.3 181.8L718.1 184.5L718.9 180.8L719.7 184.4L720.5 182.2L721.3 184.0L722.1 184.4L723.0 184.4L723.8 185.4L724.6 184.2L725.4 183.8L726.2 182.3L727.0 184.3L727.8 182.3L728.6 183.6L729.4 180.0L730.2 184.3L731.0 182.5L731.9 184.0L732.7 184.4L733.5 181.9L734.3 183.6L735.1 180.2L735.9 182.8L736.7 179.3L737.5 185.7L738.3 185.7L739.1 184.6L740.0 183.2L740.8 180.8L741.6 181.0L742.4 185.0L743.2 183.3L744.0 184.0L744.8 184.8L745.7 183.9L746.5 179.1L747.3 182.4L748.2 182.3L749.0 182.0L750.7 177.0L753.7 150.0L755.7 105.0L757.3 10.0L772.4 10.0L773.2 105.0L775.2 150.0L778.5 177.0L781.0 184.0L781.8 183.9L782.6 183.1L783.4 183.4L784.2 185.1L785.0 186.7L785.8 185.9L786.7 187.1L787.5 184.4L788.3 185.0L789.2 184.9L790.0 187.5L790.8 188.8L791.7 187.5L792.5 185.2L793.3 187.6L794.2 185.4L795.0 185.3L795.8 188.0L796.7 186.8L797.5 185.4L798.3 184.8L799.2 185.8L800.0 186.5L800.8 187.2L801.7 186.9L802.5 185.9L803.3 180.9L804.2 183.9L805.0 187.4L805.8 184.7L806.7 185.4L807.5 187.2L808.3 185.2L809.2 186.3L810.0 186.0L812.0 185.0L815.0 175.0L818.7 150.0L821.0 135.0L824.5 118.5L827.0 130.0L830.2 150.0L834.0 175.0L837.7 188.0L838.9 187.6L840.0 190.5L840.8 189.4L841.6 190.0L842.4 189.4L843.2 189.0L844.0 189.7L844.8 191.6L845.6 191.2L846.4 192.1L847.2 192.9L848.0 191.2L848.8 191.6L849.6 191.0L850.4 188.7L851.2 192.9L852.0 190.9L852.8 192.3L853.6 191.3L854.4 192.1L855.2 192.3L856.0 190.9L856.8 191.0L857.6 189.0L858.4 186.0L859.2 190.4L860.0 191.0L860.8 190.2L861.6 192.3L862.4 190.7L863.2 189.9L864.0 191.9L864.8 192.6L865.6 191.7L866.4 190.6L867.2 190.7L868.0 191.3L868.8 190.9L869.6 189.8L870.4 190.9L871.2 191.6L872.0 191.5L872.8 192.5L873.6 193.1L874.4 191.3L875.2 192.8L876.0 192.2L876.8 191.1L877.6 191.5L878.4 191.1L879.2 191.2L880.0 191.5L880.0 193.5Z" fill="#000080" stroke="#000" stroke-width="0.8" stroke-opacity="0.8" stroke-linejoin="round"/>
</g>
<rect x="123.5" y="7.3" width="1060" height="853" fill="none" stroke="#000" stroke-width="5.6"/>
<rect x="119.5" y="860" width="5.6" height="8.2" fill="#000"/>
<rect x="195.0" y="860" width="6" height="16.5" fill="#000"/>
<rect x="270.9" y="860" width="5.6" height="8.2" fill="#000"/>
<rect x="346.5" y="860" width="6" height="16.5" fill="#000"/>
<rect x="422.4" y="860" width="5.6" height="8.2" fill="#000"/>
<rect x="498.0" y="860" width="6" height="16.5" fill="#000"/>
<rect x="574.0" y="860" width="5.6" height="8.2" fill="#000"/>
<rect x="649.5" y="860" width="6" height="16.5" fill="#000"/>
<rect x="725.5" y="860" width="5.6" height="8.2" fill="#000"/>
<rect x="801.0" y="860" width="6" height="16.5" fill="#000"/>
<rect x="877.0" y="860" width="5.6" height="8.2" fill="#000"/>
<rect x="952.5" y="860" width="6" height="16.5" fill="#000"/>
<rect x="1028.5" y="860" width="5.6" height="8.2" fill="#000"/>
<rect x="1104.0" y="860" width="6" height="16.5" fill="#000"/>
<rect x="1180.0" y="860" width="5.6" height="8.2" fill="#000"/>
<text transform="translate(198.00,932) scale(1.02,1)" text-anchor="middle" font-size="57.5" font-family="Liberation Serif" font-weight="bold">0</text>
<text transform="translate(349.50,932) scale(1.02,1)" text-anchor="middle" font-size="57.5" font-family="Liberation Serif" font-weight="bold">2</text>
<text transform="translate(501.00,932) scale(1.02,1)" text-anchor="middle" font-size="57.5" font-family="Liberation Serif" font-weight="bold">4</text>
<text transform="translate(652.50,932) scale(1.02,1)" text-anchor="middle" font-size="57.5" font-family="Liberation Serif" font-weight="bold">6</text>
<text transform="translate(804.00,932) scale(1.02,1)" text-anchor="middle" font-size="57.5" font-family="Liberation Serif" font-weight="bold">8</text>
<text transform="translate(955.50,932) scale(1.02,1)" text-anchor="middle" font-size="57.5" font-family="Liberation Serif" font-weight="bold">10</text>
<text transform="translate(1107.00,932) scale(1.02,1)" text-anchor="middle" font-size="57.5" font-family="Liberation Serif" font-weight="bold">12</text>
<text transform="translate(447.56,985.80) scale(1.0100,1)" font-size="56.67" fill="#000" font-family="Liberation Serif" font-weight="bold">Energy (keV)</text>
<text transform="translate(82.44,581.89) rotate(-90) scale(1.0074,1)" font-size="52.67" fill="#000" font-family="Liberation Serif" font-weight="bold">Intensity (a.u.)</text>
<text transform="translate(884.44,205.23) scale(1.0348,1)" font-size="51.06" fill="#000080" font-family="Liberation Serif" font-weight="bold">NiLa-2.0/NF</text>
<text transform="translate(886.44,331.48) scale(1.0348,1)" font-size="51.06" fill="#ff8000" font-family="Liberation Serif" font-weight="bold">NiLa-1.8/NF</text>
<text transform="translate(886.44,466.48) scale(1.0348,1)" font-size="51.06" fill="#ff00ff" font-family="Liberation Serif" font-weight="bold">NiLa-1.6/NF</text>
<text transform="translate(886.44,598.99) scale(1.0345,1)" font-size="51.07" fill="#00ffff" font-family="Liberation Serif" font-weight="bold">NiLa-1.4/NF</text>
<text transform="translate(886.44,721.49) scale(1.0345,1)" font-size="51.07" fill="#ff0000" font-family="Liberation Serif" font-weight="bold">NiLa-1.2/NF</text>
<text transform="translate(886.42,845.50) scale(0.9876,1)" font-size="54.62" fill="#000" font-family="Liberation Serif" font-weight="bold">NF</text>
<text transform="translate(148.40,148.13) scale(1.0319,1)" font-size="46.52" fill="#000" font-family="Liberation Serif" font-weight="bold">C</text>
<text transform="translate(205.11,90.80) scale(1.0179,1)" font-size="45.07" fill="#000" font-family="Liberation Serif" font-weight="bold">O</text>
<text transform="translate(275.84,87.25) scale(1.0406,1)" font-size="43.84" fill="#000" font-family="Liberation Serif" font-weight="bold">Ni</text>
<text transform="translate(513.00,142.54) scale(0.9805,1)" font-size="45.76" fill="#000" font-family="Liberation Serif" font-weight="bold">La</text>
<text transform="translate(571.60,156.64) scale(0.9805,1)" font-size="45.76" fill="#000" font-family="Liberation Serif" font-weight="bold">La</text>
<text transform="translate(705.08,78.00) scale(1.0424,1)" font-size="43.91" fill="#000" font-family="Liberation Serif" font-weight="bold">Ni</text>
<text transform="translate(805.11,101.00) scale(1.0095,1)" font-size="43.91" fill="#000" font-family="Liberation Serif" font-weight="bold">Ni</text>
<text transform="translate(16.19,34.28) scale(0.9744,1)" font-size="72.29" fill="#000" font-family="Liberation Serif" font-weight="bold">a</text>

<defs>
  <clipPath id="cb"><rect x="0" y="1037" width="399" height="299"/></clipPath>
  <clipPath id="cc"><rect x="401" y="1037" width="398" height="299"/></clipPath>
  <clipPath id="cd"><rect x="801" y="1037" width="399" height="299"/></clipPath>
  <filter id="bl3" x="-20%" y="-20%" width="140%" height="140%"><feGaussianBlur stdDeviation="3"/></filter>
  <filter id="bl6" x="-20%" y="-20%" width="140%" height="140%"><feGaussianBlur stdDeviation="6"/></filter>
  <filter id="bl12" x="-30%" y="-30%" width="160%" height="160%"><feGaussianBlur stdDeviation="12"/></filter>
  <filter id="bl06" x="-5%" y="-5%" width="110%" height="110%"><feGaussianBlur stdDeviation="0.75"/></filter>
  <filter id="bl1" x="-20%" y="-20%" width="140%" height="140%"><feGaussianBlur stdDeviation="1"/></filter>
  <linearGradient id="hole" x1="0" y1="0" x2="0" y2="1">
    <stop offset="0" stop-color="#353535"/>
    <stop offset="0.2" stop-color="#4a4a4a"/>
    <stop offset="0.33" stop-color="#6c6c6c"/>
    <stop offset="0.5" stop-color="#555"/>
    <stop offset="0.8" stop-color="#3c3c3c"/>
    <stop offset="0.86" stop-color="#0a0a0a"/>
    <stop offset="1" stop-color="#000"/>
  </linearGradient>
  <linearGradient id="br" x1="0" y1="0" x2="1" y2="1">
    <stop offset="0" stop-color="#303030"/>
    <stop offset="0.55" stop-color="#2a2a2a"/>
    <stop offset="0.7" stop-color="#5a5a5a"/>
    <stop offset="0.85" stop-color="#303030"/>
    <stop offset="1" stop-color="#202020"/>
  </linearGradient>
  <filter id="semtex" x="0" y="0" width="1" height="1" color-interpolation-filters="sRGB">
    <feTurbulence type="fractalNoise" baseFrequency="0.035" numOctaves="4" seed="2"/>
    <feColorMatrix type="matrix" values="2.2 0 0 0 -0.6  2.2 0 0 0 -0.6  2.2 0 0 0 -0.6  0 0 0 0 1"/>
  </filter>
  <filter id="bl8" x="-20%" y="-20%" width="140%" height="140%"><feGaussianBlur stdDeviation="8"/></filter>
  <filter id="redspeck" x="0" y="0" width="1" height="1" color-interpolation-filters="sRGB">
    <feTurbulence type="fractalNoise" baseFrequency="0.26" numOctaves="2" seed="5" result="n"/>
    <feColorMatrix in="n" type="matrix" values="1 0 0 0 0  0 0 0 0 0  0 0 0 0 0  0 0 0 0 1" result="nR"/>
    <feColorMatrix in="SourceGraphic" type="matrix" values="1 0 0 0 0  0 0 0 0 0  0 0 0 0 0  0 0 0 0 1" result="dR"/>
    <feComposite in="nR" in2="dR" operator="arithmetic" k2="2.0" k3="0.8" k4="-1.4" result="s"/>
    <feColorMatrix in="s" type="matrix" values="0.85 0 0 0 0  0.02 0 0 0 0  0.02 0 0 0 0  0 0 0 0 1"/>
    <feGaussianBlur stdDeviation="0.8"/>
  </filter>
  <filter id="dots" x="0" y="0" width="1" height="1" color-interpolation-filters="sRGB">
    <feTurbulence type="fractalNoise" baseFrequency="0.28" numOctaves="1" seed="11" result="n"/>
    <feColorMatrix in="n" type="matrix" values="0 0 0 0 0  0 0 0 0 0  0 0 0 0 0  1 0 0 0 0" result="na"/>
    <feComposite in="na" in2="SourceAlpha" operator="arithmetic" k2="1" k3="0.14" result="sum"/>
    <feComponentTransfer in="sum" result="th"><feFuncA type="linear" slope="14" intercept="-11.2"/></feComponentTransfer>
    <feFlood flood-color="#18e018"/>
    <feComposite in2="th" operator="in"/>
  </filter>
</defs>

<!-- ===== panel b (SEM) ===== -->
<g clip-path="url(#cb)">
  <rect x="0" y="1037" width="399" height="299" fill="#a9a9a9"/>
  <g filter="url(#bl12)">
    <path d="M-20,1050 C30,1060 90,1080 130,1110 C150,1130 150,1160 135,1180 C100,1172 50,1170 -20,1168 Z" fill="#c4c4c4"/>
    <path d="M-20,1165 C40,1168 90,1172 112,1185 C95,1205 80,1235 70,1275 L-20,1275 Z" fill="#9c9c9c"/>
    <path d="M260,1150 C310,1140 360,1145 420,1145 L420,1250 C360,1255 320,1260 290,1265 Z" fill="#b9b9b9"/>
    <path d="M140,1200 C180,1195 230,1200 262,1215 L270,1270 C230,1265 180,1262 140,1265 Z" fill="#c2c2c2"/>
  </g>
  <path d="M-10,1228 C20,1232 40,1236 56,1248 C52,1275 52,1305 58,1345 L-10,1345 Z" fill="#7c7c7c" filter="url(#bl6)"/>
  <path d="M52,1345 C49,1315 49,1285 55,1258 C62,1236 80,1218 102,1206 C125,1194 155,1188 190,1192 C225,1196 255,1206 270,1226 C278,1248 270,1272 264,1295 C260,1312 258,1330 258,1345 Z" fill="#cfcfcf" filter="url(#bl3)"/>
  <ellipse cx="115" cy="1275" rx="60" ry="45" fill="#dcdcdc" filter="url(#bl12)"/>
  <ellipse cx="125" cy="1183" rx="18" ry="22" fill="#cdcdcd" filter="url(#bl6)"/>
  <!-- top dark band -->
  <path d="M22,1037 L128,1037 C112,1045 85,1049 60,1048 C45,1047 32,1043 22,1037 Z" fill="#7a7a7a" filter="url(#bl1)"/>
  <!-- flake gaps (dark) -->
  <g fill="#5c5c5c" filter="url(#bl1)">
    <path d="M168,1055 L205,1050 L207,1066 L186,1061 Z"/>
    <path d="M127,1092 L160,1073 L165,1070 L174,1079 L150,1094 L140,1100 Z"/>
    <path d="M184,1106 C194,1093 210,1082 228,1074 C240,1068 248,1060 254,1052 L260,1075 C255,1088 246,1098 236,1100 C221,1097 206,1102 196,1113 Z"/>
    <path d="M178,1038 L198,1037 L201,1048 L186,1046 Z"/>
    <path d="M60,1090 L72,1086 L76,1092 L64,1096 Z"/>
    <path d="M159,1145 L171,1150 L167,1160 L157,1152 Z"/>
    <path d="M176,1178 L190,1176 L192,1186 L180,1184 Z"/>
    <path d="M230,1188 L250,1186 L252,1196 L236,1194 Z"/>
    <path d="M200,1160 L216,1152 L220,1160 L206,1166 Z"/>
    <path d="M300,1172 C320,1166 345,1168 365,1176 L362,1182 C342,1176 320,1176 302,1180 Z"/>
    <path d="M335,1214 C350,1207 365,1206 382,1210 L380,1216 C365,1213 350,1214 338,1220 Z"/>
    <path d="M390,1140 L399,1138 L399,1160 L392,1158 Z"/>
    <path d="M283,1245 L300,1250 L318,1252 L316,1256 L298,1255 Z"/>
  </g>
  <g fill="none" stroke="#dedede" stroke-width="1.6" opacity="0.7" filter="url(#bl1)">
    <path d="M128,1096 L162,1076"/>
    <path d="M186,1109 C196,1097 210,1087 228,1079"/>
    <path d="M170,1058 L186,1064 L206,1068"/>
    <path d="M303,1183 C320,1179 342,1179 362,1185"/>
    <path d="M282,1120 C290,1118 298,1122 304,1130"/>
  </g>
  <!-- hole upper right -->
  <path d="M256,1100 C255,1070 275,1046 312,1040 L399,1038 L399,1134 C380,1141 350,1143 322,1140 C302,1138 290,1130 276,1127 C264,1122 257,1112 256,1100 Z" fill="url(#hole)" filter="url(#bl1)"/>
  <path d="M280,1121 C288,1117 298,1121 306,1131 L304,1141 C292,1139 284,1132 280,1121 Z" fill="#a4a4a4" filter="url(#bl1)"/>
  <!-- dark bottom right -->
  <path d="M258,1345 C262,1302 280,1278 305,1266 C330,1257 370,1254 405,1252 L405,1345 Z" fill="url(#br)" filter="url(#bl1)"/>
  <!-- cracks -->
  <g fill="none" stroke="#444" stroke-width="1.5" stroke-linecap="round" stroke-linejoin="round" opacity="0.85" filter="url(#bl06)">
    <path d="M142,1170 L146,1192 L153,1215"/>
    <path d="M174,1179 L176,1194 L183,1202 L170,1215 L161,1235"/>
    <path d="M98,1250 L92,1278 L68,1300"/>
    <path d="M122,1257 L131,1267 L142,1291 L148,1311 L142,1338"/>
    <path d="M57,1261 L77,1283 L90,1300"/>
    <path d="M137,1278 L159,1263 L174,1258" stroke-width="2"/>
    <path d="M170,1248 L196,1239"/>
    <path d="M111,1239 L120,1233"/>
    <path d="M118,1227 L140,1233"/>
    <path d="M94,1287 L124,1313 L122,1338"/>
    <path d="M254,1207 L257,1235"/>
    <path d="M224,1274 L239,1265"/>
    <path d="M192,1296 L205,1304 L196,1322"/>
    <path d="M215,1150 L225,1170 L250,1162"/>
    <path d="M260,1172 L278,1180 L290,1200"/>
    <path d="M300,1200 L310,1225 L330,1240"/>
    <path d="M355,1230 L380,1222 L399,1225"/>
    <path d="M140,1172 L132,1160 L128,1148"/>
    <path d="M100,1090 L128,1094"/>
    <path d="M125,1119 L140,1117 L150,1123 L158,1116"/>
    <path d="M183,1108 L190,1120 L198,1126 L207,1121" stroke-width="2.2"/>
    <path d="M195,1119 L197,1136"/>
    <path d="M188,1138 L203,1149 L217,1154 L250,1159 L267,1143" stroke-width="2"/>
    <path d="M160,1159 L172,1158 L182,1163" stroke-width="3"/>
    <path d="M225,1170 L240,1165 L252,1172"/>
    <path d="M110,1060 L125,1072 L150,1068"/>
    <path d="M215,1040 L222,1055 L240,1050"/>
    <path d="M20,1250 L35,1262 L30,1280"/>
  </g>
  <rect x="0" y="1037" width="399" height="299" filter="url(#semtex)" style="mix-blend-mode:overlay" opacity="0.14"/>
  <rect x="297" y="1314.5" width="88" height="10" fill="#fff"/>
</g>

<!-- ===== panel c (Ni map) ===== -->
<g clip-path="url(#cc)">
  <rect x="401" y="1037" width="398" height="299" fill="#000"/>
  <g filter="url(#redspeck)">
    <g filter="url(#bl8)">
      <rect x="380" y="1020" width="440" height="340" fill="#404040"/>
      <path d="M380,1150 L472,1150 L472,1360 L380,1360 Z" fill="#fff" fill-opacity="0.45"/>
      <path d="M380,1020 L545,1020 C552,1045 570,1075 600,1105 L640,1128 L700,1138 L750,1143 L820,1140 L820,1250 L760,1258 L700,1262 C660,1266 630,1276 615,1290 L590,1360 L470,1360 L472,1300 L474,1253 L490,1225 L508,1195 L505,1165 L470,1152 L380,1150 Z" fill="#fff"/>
      <ellipse cx="700" cy="1090" rx="40" ry="38" fill="#fff" fill-opacity="0.75"/>
      <path d="M428,1150 L470,1150 L503,1170 L508,1186 L480,1230 L462,1260 L440,1262 L426,1232 L421,1182 Z" fill="#000" fill-opacity="0.75"/>
      <path d="M700,1122 C730,1128 760,1142 799,1138 L799,1120 C770,1126 730,1118 700,1122 Z" fill="#000"/>
      <path d="M660,1336 C700,1300 760,1285 820,1280 L820,1360 L650,1360 Z" fill="#000" fill-opacity="0.3"/>
    </g>
  </g>
  <rect x="699" y="1314.5" width="88" height="10" fill="#fff"/>
</g>

<!-- ===== panel d (La map) ===== -->
<g clip-path="url(#cd)">
  <rect x="801" y="1037" width="399" height="299" fill="#000"/>
  <g filter="url(#bl06)">
<path d="M806.1 1037.4h2.2v2.2h-2.2zM804.1 1036.8h2.0v2.0h-2.0zM813.7 1037.5h2.4v2.4h-2.4zM815.2 1038.7h1.8v1.8h-1.8zM827.7 1036.4h2.7v2.7h-2.7zM890.9 1037.0h2.5v2.5h-2.5zM893.2 1036.9h2.2v2.2h-2.2zM868.2 1043.2h2.3v2.3h-2.3zM866.9 1045.1h2.0v2.0h-2.0zM924.1 1043.1h2.1v2.1h-2.1zM822.8 1047.5h2.5v2.5h-2.5zM832.4 1046.2h2.3v2.3h-2.3zM818.0 1048.9h2.9v2.9h-2.9zM825.5 1049.9h1.9v1.9h-1.9zM823.5 1050.7h1.7v1.7h-1.7zM861.3 1048.5h2.4v2.4h-2.4zM853.2 1053.4h1.9v1.9h-1.9zM855.1 1052.4h1.7v1.7h-1.7zM856.1 1053.0h2.6v2.6h-2.6zM857.8 1054.7h2.3v2.3h-2.3zM823.7 1056.8h2.4v2.4h-2.4zM875.9 1055.5h1.9v1.9h-1.9zM888.4 1056.0h2.8v2.8h-2.8zM886.9 1054.7h2.5v2.5h-2.5zM900.1 1054.4h1.8v1.8h-1.8zM920.8 1056.6h2.7v2.7h-2.7zM805.4 1059.4h1.9v1.9h-1.9zM1066.4 1059.2h2.3v2.3h-2.3zM932.9 1060.1h2.1v2.1h-2.1zM1087.5 1062.4h1.6v1.6h-1.6zM817.3 1065.4h2.7v2.7h-2.7zM818.2 1067.6h2.4v2.4h-2.4zM894.1 1064.1h1.7v1.7h-1.7zM910.7 1063.7h2.8v2.8h-2.8zM911.7 1061.8h2.5v2.5h-2.5zM937.4 1063.8h2.9v2.9h-2.9zM1106.7 1064.9h2.5v2.5h-2.5zM847.3 1067.2h1.8v1.8h-1.8zM877.4 1067.6h2.9v2.9h-2.9zM904.4 1066.2h2.5v2.5h-2.5zM1064.0 1066.2h1.8v1.8h-1.8zM801.1 1071.9h1.8v1.8h-1.8zM926.8 1069.9h3.0v3.0h-3.0zM932.5 1069.2h2.1v2.1h-2.1zM943.3 1070.5h1.7v1.7h-1.7zM946.2 1074.2h2.4v2.4h-2.4zM947.0 1076.4h2.2v2.2h-2.2zM924.9 1076.5h2.7v2.7h-2.7zM922.9 1076.4h2.5v2.5h-2.5zM934.7 1074.9h2.3v2.3h-2.3zM936.0 1073.2h2.1v2.1h-2.1zM909.9 1079.7h2.2v2.2h-2.2zM870.0 1082.6h2.3v2.3h-2.3zM921.8 1083.1h2.7v2.7h-2.7zM948.7 1082.5h2.9v2.9h-2.9zM801.8 1084.2h2.3v2.3h-2.3zM855.5 1086.5h2.9v2.9h-2.9zM857.5 1087.9h2.6v2.6h-2.6zM945.3 1084.6h2.3v2.3h-2.3zM820.6 1087.6h3.0v3.0h-3.0zM896.0 1087.1h2.1v2.1h-2.1zM908.5 1088.5h2.2v2.2h-2.2zM910.7 1087.7h2.0v2.0h-2.0zM831.8 1092.9h1.9v1.9h-1.9zM832.8 1091.0h1.7v1.7h-1.7zM857.5 1091.5h2.0v2.0h-2.0zM1022.1 1091.6h1.6v1.6h-1.6zM1067.0 1092.7h1.9v1.9h-1.9zM844.6 1095.7h2.4v2.4h-2.4zM845.2 1093.7h2.2v2.2h-2.2zM896.7 1094.7h2.1v2.1h-2.1zM865.1 1099.2h1.6v1.6h-1.6zM900.1 1099.6h1.7v1.7h-1.7zM900.6 1101.8h1.5v1.5h-1.5zM921.3 1099.7h2.8v2.8h-2.8zM926.3 1101.1h2.6v2.6h-2.6zM897.0 1102.3h2.8v2.8h-2.8zM1062.1 1104.5h2.5v2.5h-2.5zM843.8 1110.2h1.9v1.9h-1.9zM845.8 1111.4h1.7v1.7h-1.7zM905.8 1109.3h2.3v2.3h-2.3zM923.2 1108.3h2.5v2.5h-2.5zM802.0 1112.5h2.9v2.9h-2.9zM804.2 1113.5h2.6v2.6h-2.6zM861.5 1111.6h2.7v2.7h-2.7zM870.5 1111.1h2.8v2.8h-2.8zM802.6 1115.5h2.4v2.4h-2.4zM906.5 1116.2h2.3v2.3h-2.3zM854.4 1119.1h2.3v2.3h-2.3zM889.0 1118.5h2.3v2.3h-2.3zM898.0 1117.1h2.0v2.0h-2.0zM900.3 1116.7h1.8v1.8h-1.8zM823.6 1121.1h2.8v2.8h-2.8zM843.3 1125.0h2.1v2.1h-2.1zM871.4 1127.5h2.2v2.2h-2.2zM950.3 1129.6h2.0v2.0h-2.0zM948.3 1130.5h1.8v1.8h-1.8zM977.2 1130.3h2.6v2.6h-2.6zM803.5 1134.4h2.6v2.6h-2.6zM825.2 1135.1h1.8v1.8h-1.8zM831.4 1133.8h1.9v1.9h-1.9zM931.1 1132.4h2.3v2.3h-2.3zM932.2 1130.5h2.1v2.1h-2.1zM977.6 1134.5h2.6v2.6h-2.6zM1095.3 1132.1h2.5v2.5h-2.5zM1093.8 1130.8h2.3v2.3h-2.3zM861.3 1136.5h2.3v2.3h-2.3zM869.7 1138.1h1.6v1.6h-1.6zM972.3 1137.6h2.0v2.0h-2.0zM988.4 1135.1h2.1v2.1h-2.1zM1176.4 1136.2h2.7v2.7h-2.7zM881.7 1140.0h2.2v2.2h-2.2zM981.5 1138.0h2.8v2.8h-2.8zM1090.6 1138.5h2.5v2.5h-2.5zM1093.2 1139.9h2.9v2.9h-2.9zM1091.2 1139.5h2.6v2.6h-2.6zM1178.0 1139.2h2.4v2.4h-2.4zM853.4 1141.2h2.8v2.8h-2.8zM853.4 1143.6h2.5v2.5h-2.5zM907.4 1143.5h2.1v2.1h-2.1zM1044.8 1141.6h1.7v1.7h-1.7zM1045.9 1139.7h1.5v1.5h-1.5zM1124.5 1142.0h1.9v1.9h-1.9zM815.7 1144.6h2.2v2.2h-2.2zM962.5 1145.7h2.2v2.2h-2.2zM967.7 1146.1h2.7v2.7h-2.7zM1024.1 1146.1h2.7v2.7h-2.7zM1041.9 1145.4h2.1v2.1h-2.1zM955.9 1151.6h2.3v2.3h-2.3zM1075.7 1151.6h2.0v2.0h-2.0zM900.7 1154.1h2.2v2.2h-2.2zM1022.5 1153.1h2.6v2.6h-2.6zM1075.5 1155.8h1.9v1.9h-1.9zM1106.4 1154.4h2.9v2.9h-2.9zM956.2 1156.2h2.5v2.5h-2.5zM979.1 1158.3h2.1v2.1h-2.1zM977.5 1159.8h1.9v1.9h-1.9zM1081.7 1158.6h2.6v2.6h-2.6zM1081.0 1160.8h2.3v2.3h-2.3zM1088.0 1157.1h2.4v2.4h-2.4zM1091.1 1155.9h2.8v2.8h-2.8zM1155.6 1158.2h2.0v2.0h-2.0zM1159.2 1158.2h2.9v2.9h-2.9zM1016.8 1160.6h2.9v2.9h-2.9zM1048.8 1159.9h2.3v2.3h-2.3zM1140.7 1160.1h2.3v2.3h-2.3zM1194.7 1160.8h1.7v1.7h-1.7zM829.7 1163.4h1.9v1.9h-1.9zM935.2 1163.9h2.8v2.8h-2.8zM950.8 1164.8h2.1v2.1h-2.1zM953.1 1165.3h1.9v1.9h-1.9zM961.3 1162.7h2.0v2.0h-2.0zM999.6 1164.9h1.9v1.9h-1.9zM1053.9 1164.3h2.2v2.2h-2.2zM1054.0 1166.6h2.0v2.0h-2.0zM1070.3 1162.6h2.5v2.5h-2.5zM1071.3 1160.7h2.3v2.3h-2.3zM1092.0 1163.9h2.2v2.2h-2.2zM993.7 1167.2h2.5v2.5h-2.5zM1014.7 1166.7h2.4v2.4h-2.4zM1018.5 1165.8h2.3v2.3h-2.3zM1020.7 1166.7h2.1v2.1h-2.1zM1022.9 1166.3h1.9v1.9h-1.9zM1040.8 1164.9h2.7v2.7h-2.7zM1039.9 1167.0h2.4v2.4h-2.4zM1075.9 1165.8h2.6v2.6h-2.6zM1152.1 1167.4h2.5v2.5h-2.5zM931.9 1169.2h2.2v2.2h-2.2zM942.8 1168.5h1.6v1.6h-1.6zM948.4 1168.1h1.9v1.9h-1.9zM959.4 1169.6h2.8v2.8h-2.8zM962.8 1169.9h2.5v2.5h-2.5zM972.4 1168.5h2.2v2.2h-2.2zM1080.6 1170.1h2.8v2.8h-2.8zM849.9 1173.6h2.5v2.5h-2.5zM925.5 1173.3h1.8v1.8h-1.8zM991.5 1171.1h2.2v2.2h-2.2zM1053.6 1171.6h2.1v2.1h-2.1zM1136.8 1171.6h2.4v2.4h-2.4zM1135.8 1173.6h2.2v2.2h-2.2zM938.3 1176.7h1.6v1.6h-1.6zM1004.7 1174.1h2.8v2.8h-2.8zM1005.6 1172.2h2.6v2.6h-2.6zM1030.4 1175.6h2.5v2.5h-2.5zM1031.5 1177.7h2.3v2.3h-2.3zM1112.1 1174.9h3.0v3.0h-3.0zM1127.4 1175.1h2.7v2.7h-2.7zM1129.3 1176.5h2.4v2.4h-2.4zM1166.1 1174.3h2.1v2.1h-2.1zM1167.4 1176.2h1.8v1.8h-1.8zM818.7 1177.4h2.4v2.4h-2.4zM915.0 1178.1h2.9v2.9h-2.9zM913.2 1179.4h2.6v2.6h-2.6zM962.7 1178.5h1.9v1.9h-1.9zM987.1 1179.4h2.0v2.0h-2.0zM1020.9 1178.2h1.7v1.7h-1.7zM1088.8 1178.7h3.0v3.0h-3.0zM1163.1 1179.8h2.3v2.3h-2.3zM932.2 1182.5h1.7v1.7h-1.7zM990.4 1180.7h2.9v2.9h-2.9zM991.2 1183.0h2.6v2.6h-2.6zM1007.0 1181.2h2.5v2.5h-2.5zM1031.8 1182.1h1.8v1.8h-1.8zM1055.4 1181.9h2.5v2.5h-2.5zM1075.6 1180.2h2.6v2.6h-2.6zM927.0 1185.0h2.6v2.6h-2.6zM938.8 1183.9h1.9v1.9h-1.9zM942.1 1186.0h1.7v1.7h-1.7zM941.7 1188.2h1.6v1.6h-1.6zM1026.2 1183.5h1.7v1.7h-1.7zM1154.2 1183.6h2.5v2.5h-2.5zM1161.2 1184.8h2.9v2.9h-2.9zM935.1 1187.2h2.5v2.5h-2.5zM968.6 1187.5h2.3v2.3h-2.3zM970.7 1186.6h2.1v2.1h-2.1zM988.2 1186.3h2.6v2.6h-2.6zM987.5 1184.4h2.4v2.4h-2.4zM997.5 1185.7h2.8v2.8h-2.8zM1033.0 1187.1h2.1v2.1h-2.1zM1088.8 1186.3h2.3v2.3h-2.3zM1132.9 1186.0h2.2v2.2h-2.2zM1150.2 1186.7h2.9v2.9h-2.9zM945.8 1191.6h2.2v2.2h-2.2zM1006.5 1190.8h2.0v2.0h-2.0zM1089.5 1191.4h1.8v1.8h-1.8zM1104.3 1189.2h2.3v2.3h-2.3zM1104.4 1187.1h2.1v2.1h-2.1zM1134.1 1191.2h2.3v2.3h-2.3zM1142.4 1190.6h1.8v1.8h-1.8zM1144.7 1190.6h1.6v1.6h-1.6zM1156.9 1190.3h2.2v2.2h-2.2zM939.5 1192.3h1.7v1.7h-1.7zM937.8 1191.1h1.5v1.5h-1.5zM974.6 1193.4h2.4v2.4h-2.4zM1080.3 1192.0h2.2v2.2h-2.2zM1094.9 1192.7h2.0v2.0h-2.0zM1107.4 1194.8h2.0v2.0h-2.0zM1109.1 1193.5h2.1v2.1h-2.1zM1159.3 1193.7h1.7v1.7h-1.7zM927.2 1196.1h2.9v2.9h-2.9zM927.6 1194.0h2.6v2.6h-2.6zM1012.8 1195.2h2.5v2.5h-2.5zM1018.8 1195.7h1.8v1.8h-1.8zM1157.9 1196.8h2.7v2.7h-2.7zM1160.2 1196.7h2.5v2.5h-2.5zM923.6 1198.8h2.7v2.7h-2.7zM992.5 1199.0h1.7v1.7h-1.7zM1040.1 1199.6h2.5v2.5h-2.5zM1040.0 1197.5h2.2v2.2h-2.2zM1047.0 1200.3h1.9v1.9h-1.9zM1106.9 1199.1h2.7v2.7h-2.7zM1172.8 1199.8h2.6v2.6h-2.6zM967.9 1203.3h2.1v2.1h-2.1zM968.0 1205.6h1.8v1.8h-1.8zM1005.2 1200.9h2.3v2.3h-2.3zM1010.6 1201.8h2.0v2.0h-2.0zM1146.6 1202.1h2.9v2.9h-2.9zM1151.2 1201.0h2.9v2.9h-2.9zM1197.8 1201.3h1.7v1.7h-1.7zM1036.4 1204.2h1.8v1.8h-1.8zM833.3 1208.8h2.3v2.3h-2.3zM958.2 1208.8h1.8v1.8h-1.8zM960.4 1208.4h1.6v1.6h-1.6zM977.0 1208.3h2.5v2.5h-2.5zM999.3 1208.2h1.9v1.9h-1.9zM999.4 1210.5h1.7v1.7h-1.7zM1138.8 1208.8h1.8v1.8h-1.8zM1172.4 1207.8h2.8v2.8h-2.8zM1172.4 1210.1h2.5v2.5h-2.5zM914.2 1211.8h1.7v1.7h-1.7zM989.5 1211.1h2.7v2.7h-2.7zM1007.8 1211.5h2.6v2.6h-2.6zM1027.0 1211.7h1.8v1.8h-1.8zM1122.1 1211.2h2.9v2.9h-2.9zM1133.6 1210.6h2.2v2.2h-2.2zM1148.3 1210.4h2.1v2.1h-2.1zM928.0 1213.3h2.1v2.1h-2.1zM926.5 1212.0h1.9v1.9h-1.9zM1105.3 1214.9h2.3v2.3h-2.3zM830.5 1216.3h1.8v1.8h-1.8zM909.1 1216.5h2.6v2.6h-2.6zM907.1 1216.1h2.4v2.4h-2.4zM977.7 1219.0h1.9v1.9h-1.9zM1099.1 1216.9h2.1v2.1h-2.1zM907.5 1219.8h2.4v2.4h-2.4zM1068.9 1219.4h2.3v2.3h-2.3zM1130.1 1220.0h2.5v2.5h-2.5zM816.6 1223.9h2.0v2.0h-2.0zM1017.6 1225.0h2.1v2.1h-2.1zM1019.3 1223.7h1.8v1.8h-1.8zM1019.7 1225.6h2.1v2.1h-2.1zM1031.8 1225.3h3.0v3.0h-3.0zM1104.0 1225.8h1.7v1.7h-1.7zM1103.3 1223.8h1.6v1.6h-1.6zM1162.4 1225.0h3.0v3.0h-3.0zM1174.8 1225.5h2.4v2.4h-2.4zM928.6 1229.5h2.1v2.1h-2.1zM1006.2 1230.6h2.5v2.5h-2.5zM1042.9 1229.8h2.5v2.5h-2.5zM942.6 1233.1h2.0v2.0h-2.0zM991.0 1233.2h2.8v2.8h-2.8zM1003.8 1232.0h2.7v2.7h-2.7zM1001.9 1231.5h2.4v2.4h-2.4zM1026.1 1231.1h3.0v3.0h-3.0zM1035.7 1231.2h2.9v2.9h-2.9zM1064.9 1232.4h1.7v1.7h-1.7zM1106.4 1232.8h2.8v2.8h-2.8zM1104.7 1231.8h2.5v2.5h-2.5zM1192.1 1233.1h2.1v2.1h-2.1zM985.9 1235.8h1.9v1.9h-1.9zM1070.8 1237.1h1.7v1.7h-1.7zM1072.3 1238.9h1.5v1.5h-1.5zM1074.9 1236.8h1.6v1.6h-1.6zM1113.8 1235.6h1.8v1.8h-1.8zM1115.2 1233.9h1.6v1.6h-1.6zM888.3 1240.4h1.8v1.8h-1.8zM931.9 1242.1h2.8v2.8h-2.8zM953.4 1241.7h2.7v2.7h-2.7zM990.7 1242.3h2.9v2.9h-2.9zM1125.6 1242.7h1.8v1.8h-1.8zM990.1 1244.7h2.0v2.0h-2.0zM1085.9 1243.4h2.4v2.4h-2.4zM937.9 1246.4h2.4v2.4h-2.4zM1134.3 1246.5h2.3v2.3h-2.3zM1111.9 1251.8h2.3v2.3h-2.3zM1113.0 1250.0h2.1v2.1h-2.1zM1129.3 1249.5h2.1v2.1h-2.1zM914.5 1251.9h2.8v2.8h-2.8zM916.9 1252.4h2.5v2.5h-2.5zM954.1 1253.7h2.5v2.5h-2.5zM954.2 1251.6h2.2v2.2h-2.2zM1055.2 1253.0h2.1v2.1h-2.1zM1057.4 1253.7h1.9v1.9h-1.9zM900.9 1255.0h2.7v2.7h-2.7zM940.1 1256.5h2.4v2.4h-2.4zM972.7 1256.6h2.0v2.0h-2.0zM1047.5 1255.4h1.7v1.7h-1.7zM1046.3 1257.2h1.5v1.5h-1.5zM928.6 1258.3h1.7v1.7h-1.7zM929.8 1260.3h1.5v1.5h-1.5zM901.5 1266.4h2.7v2.7h-2.7zM890.3 1266.9h2.5v2.5h-2.5zM944.0 1268.6h2.0v2.0h-2.0zM942.0 1269.1h1.8v1.8h-1.8zM980.9 1267.5h1.9v1.9h-1.9zM851.0 1271.2h2.7v2.7h-2.7zM895.0 1271.6h2.1v2.1h-2.1zM968.0 1274.0h2.2v2.2h-2.2zM969.9 1272.8h2.0v2.0h-2.0zM969.4 1277.6h2.8v2.8h-2.8zM929.4 1280.4h2.3v2.3h-2.3zM965.0 1280.5h2.3v2.3h-2.3zM989.5 1280.7h2.6v2.6h-2.6zM911.8 1282.4h1.9v1.9h-1.9zM948.4 1284.8h1.6v1.6h-1.6zM946.6 1286.0h1.5v1.5h-1.5zM1053.7 1284.7h1.7v1.7h-1.7zM876.3 1287.5h2.4v2.4h-2.4zM876.9 1289.7h2.1v2.1h-2.1zM828.8 1290.2h2.0v2.0h-2.0zM828.0 1288.3h1.8v1.8h-1.8zM926.0 1288.7h1.8v1.8h-1.8zM927.2 1290.7h1.6v1.6h-1.6zM933.4 1290.9h2.2v2.2h-2.2zM989.1 1289.6h2.0v2.0h-2.0zM902.6 1293.4h2.7v2.7h-2.7zM910.7 1291.5h1.8v1.8h-1.8zM939.1 1292.4h1.9v1.9h-1.9zM940.9 1293.9h1.7v1.7h-1.7zM966.2 1293.1h2.3v2.3h-2.3zM1134.0 1292.5h2.3v2.3h-2.3zM1132.8 1294.4h2.1v2.1h-2.1zM947.7 1293.8h2.4v2.4h-2.4zM948.5 1296.0h2.1v2.1h-2.1zM966.2 1295.8h3.0v3.0h-3.0zM885.0 1298.0h1.9v1.9h-1.9zM908.2 1298.1h2.2v2.2h-2.2zM925.0 1299.1h1.9v1.9h-1.9zM934.6 1297.3h1.8v1.8h-1.8zM1036.2 1299.1h2.8v2.8h-2.8zM909.6 1300.8h2.7v2.7h-2.7zM884.5 1303.6h2.2v2.2h-2.2zM883.3 1302.0h2.0v2.0h-2.0zM963.3 1303.9h2.2v2.2h-2.2zM800.7 1309.5h1.8v1.8h-1.8zM801.2 1311.7h1.6v1.6h-1.6zM856.3 1309.7h2.8v2.8h-2.8zM872.5 1313.7h2.9v2.9h-2.9zM927.7 1313.2h2.4v2.4h-2.4zM944.6 1313.3h2.3v2.3h-2.3zM945.7 1311.4h2.0v2.0h-2.0zM924.2 1322.6h2.0v2.0h-2.0zM941.7 1323.0h1.6v1.6h-1.6zM939.7 1322.3h1.5v1.5h-1.5zM928.6 1327.1h2.2v2.2h-2.2zM949.5 1329.9h1.8v1.8h-1.8zM947.4 1330.2h1.6v1.6h-1.6zM900.2 1332.8h2.3v2.3h-2.3zM898.9 1331.2h2.0v2.0h-2.0zM947.8 1330.5h2.2v2.2h-2.2z" fill="#0a9a0a"/>
<path d="M819.5 1037.8h2.4v2.4h-2.4zM833.8 1038.8h2.2v2.2h-2.2zM831.7 1039.1h2.0v2.0h-2.0zM874.7 1038.9h1.8v1.8h-1.8zM875.0 1038.5h2.0v2.0h-2.0zM936.1 1036.1h2.0v2.0h-2.0zM934.4 1034.8h1.8v1.8h-1.8zM1005.0 1036.2h2.7v2.7h-2.7zM1003.5 1034.8h2.4v2.4h-2.4zM841.9 1039.1h2.6v2.6h-2.6zM852.0 1040.0h2.9v2.9h-2.9zM857.9 1039.3h2.9v2.9h-2.9zM859.9 1040.7h2.6v2.6h-2.6zM864.9 1041.0h1.8v1.8h-1.8zM866.8 1039.8h1.6v1.6h-1.6zM892.6 1039.6h2.3v2.3h-2.3zM1099.9 1040.0h2.9v2.9h-2.9zM827.4 1042.4h2.1v2.1h-2.1zM873.5 1041.7h2.9v2.9h-2.9zM893.1 1044.3h2.7v2.7h-2.7zM926.2 1043.9h2.7v2.7h-2.7zM825.3 1047.7h2.4v2.4h-2.4zM839.7 1046.8h3.0v3.0h-3.0zM857.5 1046.3h2.8v2.8h-2.8zM885.9 1047.1h1.7v1.7h-1.7zM887.0 1045.1h2.7v2.7h-2.7zM906.9 1045.3h2.2v2.2h-2.2zM1078.7 1047.3h1.8v1.8h-1.8zM804.7 1050.2h2.1v2.1h-2.1zM815.2 1050.3h2.5v2.5h-2.5zM829.6 1049.2h2.2v2.2h-2.2zM829.4 1051.5h2.0v2.0h-2.0zM832.4 1048.9h2.3v2.3h-2.3zM840.4 1050.2h2.7v2.7h-2.7zM903.1 1049.1h3.0v3.0h-3.0zM915.8 1049.3h2.2v2.2h-2.2zM949.7 1050.1h1.8v1.8h-1.8zM947.8 1051.1h1.6v1.6h-1.6zM1168.1 1047.8h2.7v2.7h-2.7zM1168.4 1050.2h2.4v2.4h-2.4zM821.5 1051.2h2.4v2.4h-2.4zM825.3 1053.3h2.1v2.1h-2.1zM874.2 1051.2h1.8v1.8h-1.8zM927.3 1051.2h2.7v2.7h-2.7zM944.7 1053.5h2.4v2.4h-2.4zM1045.2 1050.7h2.9v2.9h-2.9zM840.6 1055.2h2.1v2.1h-2.1zM869.9 1054.9h1.8v1.8h-1.8zM872.2 1055.2h1.6v1.6h-1.6zM916.8 1055.2h2.3v2.3h-2.3zM919.1 1055.4h2.1v2.1h-2.1zM988.9 1056.5h2.9v2.9h-2.9zM818.2 1058.0h2.5v2.5h-2.5zM846.7 1056.6h2.9v2.9h-2.9zM847.3 1058.9h2.6v2.6h-2.6zM856.9 1059.4h2.4v2.4h-2.4zM856.7 1057.3h2.2v2.2h-2.2zM863.2 1059.1h2.9v2.9h-2.9zM867.6 1057.8h1.7v1.7h-1.7zM884.6 1059.2h2.7v2.7h-2.7zM907.8 1057.0h2.9v2.9h-2.9zM912.1 1058.9h1.6v1.6h-1.6zM923.0 1058.5h2.4v2.4h-2.4zM929.1 1058.7h2.4v2.4h-2.4zM928.9 1056.7h2.2v2.2h-2.2zM940.6 1058.0h1.7v1.7h-1.7zM938.5 1058.2h1.6v1.6h-1.6zM886.7 1061.4h2.4v2.4h-2.4zM918.9 1062.0h2.7v2.7h-2.7zM1072.7 1063.0h2.0v2.0h-2.0zM1166.1 1060.1h2.1v2.1h-2.1zM805.6 1065.1h2.9v2.9h-2.9zM855.2 1063.3h2.8v2.8h-2.8zM853.1 1063.8h2.5v2.5h-2.5zM900.8 1064.6h2.9v2.9h-2.9zM941.5 1063.4h2.1v2.1h-2.1zM1088.0 1063.5h2.3v2.3h-2.3zM802.2 1068.2h1.6v1.6h-1.6zM811.5 1068.4h2.1v2.1h-2.1zM823.0 1067.5h2.8v2.8h-2.8zM828.0 1068.3h2.4v2.4h-2.4zM830.1 1068.7h2.0v2.0h-2.0zM879.2 1065.6h3.0v3.0h-3.0zM910.0 1068.0h2.2v2.2h-2.2zM1072.4 1066.2h2.8v2.8h-2.8zM805.1 1069.3h2.9v2.9h-2.9zM879.9 1070.4h2.4v2.4h-2.4zM906.2 1071.8h1.8v1.8h-1.8zM908.0 1073.3h1.6v1.6h-1.6zM1097.0 1069.4h2.2v2.2h-2.2zM803.8 1072.5h2.6v2.6h-2.6zM807.2 1074.2h1.9v1.9h-1.9zM818.3 1073.7h2.3v2.3h-2.3zM863.1 1073.8h1.7v1.7h-1.7zM865.0 1075.1h1.5v1.5h-1.5zM875.7 1072.2h2.9v2.9h-2.9zM853.3 1076.6h1.9v1.9h-1.9zM891.7 1076.9h2.3v2.3h-2.3zM938.3 1076.1h1.8v1.8h-1.8zM838.5 1078.4h2.6v2.6h-2.6zM905.4 1079.0h2.8v2.8h-2.8zM907.3 1077.8h2.5v2.5h-2.5zM919.3 1078.9h2.7v2.7h-2.7zM917.2 1078.8h2.4v2.4h-2.4zM929.7 1079.7h1.7v1.7h-1.7zM948.9 1079.0h2.6v2.6h-2.6zM822.9 1082.5h1.7v1.7h-1.7zM826.7 1083.3h2.9v2.9h-2.9zM841.8 1081.2h1.9v1.9h-1.9zM850.5 1083.0h2.8v2.8h-2.8zM886.4 1081.2h2.1v2.1h-2.1zM889.8 1083.0h1.9v1.9h-1.9zM892.1 1083.5h1.7v1.7h-1.7zM941.7 1083.4h2.2v2.2h-2.2zM1138.0 1083.0h1.8v1.8h-1.8zM1137.1 1085.0h1.7v1.7h-1.7zM830.7 1083.8h2.8v2.8h-2.8zM831.1 1081.8h2.5v2.5h-2.5zM836.5 1085.1h2.2v2.2h-2.2zM839.4 1086.5h1.8v1.8h-1.8zM838.3 1084.7h1.6v1.6h-1.6zM858.4 1085.5h2.7v2.7h-2.7zM903.0 1084.2h2.4v2.4h-2.4zM909.6 1086.5h1.8v1.8h-1.8zM1077.3 1086.0h2.3v2.3h-2.3zM802.8 1089.0h1.7v1.7h-1.7zM832.7 1089.7h1.6v1.6h-1.6zM854.4 1089.4h2.8v2.8h-2.8zM856.7 1088.9h2.5v2.5h-2.5zM911.2 1089.4h2.5v2.5h-2.5zM939.7 1087.8h2.4v2.4h-2.4zM943.1 1088.4h1.8v1.8h-1.8zM836.0 1091.3h2.4v2.4h-2.4zM876.5 1091.5h2.0v2.0h-2.0zM897.8 1092.2h1.6v1.6h-1.6zM910.2 1090.2h1.9v1.9h-1.9zM911.7 1088.6h1.7v1.7h-1.7zM914.0 1091.7h2.6v2.6h-2.6zM1049.6 1091.2h1.9v1.9h-1.9zM799.8 1092.7h2.9v2.9h-2.9zM799.3 1095.0h2.6v2.6h-2.6zM910.1 1093.5h2.0v2.0h-2.0zM840.9 1096.9h2.8v2.8h-2.8zM911.0 1098.0h3.0v3.0h-3.0zM914.3 1096.2h2.7v2.7h-2.7zM918.6 1098.8h2.0v2.0h-2.0zM917.8 1100.9h1.8v1.8h-1.8zM923.9 1097.1h2.8v2.8h-2.8zM929.6 1097.4h1.7v1.7h-1.7zM1032.2 1097.2h2.3v2.3h-2.3zM824.6 1101.9h1.7v1.7h-1.7zM828.6 1100.8h2.1v2.1h-2.1zM830.6 1099.6h2.9v2.9h-2.9zM829.4 1101.5h2.6v2.6h-2.6zM863.7 1100.6h1.8v1.8h-1.8zM864.5 1098.7h1.7v1.7h-1.7zM876.8 1100.2h1.8v1.8h-1.8zM915.8 1101.0h2.6v2.6h-2.6zM914.7 1102.9h2.3v2.3h-2.3zM841.0 1103.1h2.1v2.1h-2.1zM883.1 1101.8h2.4v2.4h-2.4zM885.8 1104.4h1.7v1.7h-1.7zM892.2 1104.0h2.2v2.2h-2.2zM900.8 1103.6h3.0v3.0h-3.0zM928.6 1104.9h1.7v1.7h-1.7zM819.2 1105.5h1.6v1.6h-1.6zM881.7 1106.3h1.9v1.9h-1.9zM932.6 1105.9h1.7v1.7h-1.7zM805.8 1110.6h2.4v2.4h-2.4zM863.2 1110.0h2.9v2.9h-2.9zM864.6 1112.0h2.6v2.6h-2.6zM873.9 1109.9h1.8v1.8h-1.8zM883.7 1110.7h2.5v2.5h-2.5zM949.0 1110.9h1.9v1.9h-1.9zM955.2 1109.8h2.6v2.6h-2.6zM803.8 1111.8h1.6v1.6h-1.6zM808.2 1110.8h2.8v2.8h-2.8zM809.4 1111.8h1.7v1.7h-1.7zM809.0 1109.8h1.5v1.5h-1.5zM814.5 1110.9h2.3v2.3h-2.3zM813.7 1113.0h2.1v2.1h-2.1zM845.4 1112.8h2.3v2.3h-2.3zM884.7 1113.3h2.0v2.0h-2.0zM936.3 1113.9h1.8v1.8h-1.8zM805.5 1114.2h2.8v2.8h-2.8zM841.4 1114.6h2.8v2.8h-2.8zM839.4 1114.7h2.5v2.5h-2.5zM883.7 1116.1h2.8v2.8h-2.8zM926.2 1114.9h3.0v3.0h-3.0zM1158.4 1115.1h1.9v1.9h-1.9zM824.6 1119.6h2.1v2.1h-2.1zM862.6 1118.3h2.8v2.8h-2.8zM864.9 1118.3h2.6v2.6h-2.6zM878.2 1118.8h2.8v2.8h-2.8zM895.1 1118.4h2.0v2.0h-2.0zM900.9 1119.0h1.9v1.9h-1.9zM1029.1 1118.2h2.3v2.3h-2.3zM809.8 1121.9h2.7v2.7h-2.7zM808.2 1120.6h2.4v2.4h-2.4zM827.3 1122.2h2.5v2.5h-2.5zM851.0 1120.0h2.9v2.9h-2.9zM853.1 1121.1h2.6v2.6h-2.6zM881.7 1122.0h2.9v2.9h-2.9zM882.6 1124.2h2.6v2.6h-2.6zM887.8 1120.9h2.1v2.1h-2.1zM953.8 1121.0h1.7v1.7h-1.7zM852.2 1124.5h1.9v1.9h-1.9zM867.8 1123.9h1.9v1.9h-1.9zM895.4 1125.2h1.8v1.8h-1.8zM908.3 1124.0h2.2v2.2h-2.2zM906.2 1124.3h2.0v2.0h-2.0zM915.0 1124.3h1.7v1.7h-1.7zM921.1 1122.9h2.7v2.7h-2.7zM805.8 1127.4h2.4v2.4h-2.4zM806.3 1129.7h2.1v2.1h-2.1zM817.8 1127.7h2.7v2.7h-2.7zM819.6 1126.5h2.5v2.5h-2.5zM863.1 1126.6h2.9v2.9h-2.9zM890.7 1127.4h2.9v2.9h-2.9zM893.0 1127.6h2.6v2.6h-2.6zM949.7 1126.5h1.7v1.7h-1.7zM996.0 1127.2h2.0v2.0h-2.0zM911.1 1130.0h2.8v2.8h-2.8zM945.2 1131.2h2.6v2.6h-2.6zM954.4 1130.6h2.8v2.8h-2.8zM953.1 1129.1h2.5v2.5h-2.5zM866.3 1133.8h2.5v2.5h-2.5zM964.9 1132.5h2.2v2.2h-2.2zM970.8 1132.8h2.0v2.0h-2.0zM1083.1 1134.5h2.8v2.8h-2.8zM841.2 1136.3h2.3v2.3h-2.3zM856.3 1136.0h2.0v2.0h-2.0zM867.4 1135.5h2.6v2.6h-2.6zM901.4 1136.2h2.9v2.9h-2.9zM909.8 1135.8h2.5v2.5h-2.5zM911.7 1135.3h2.7v2.7h-2.7zM937.8 1135.0h2.6v2.6h-2.6zM1014.1 1136.2h2.9v2.9h-2.9zM922.5 1139.9h2.4v2.4h-2.4zM925.0 1138.2h2.3v2.3h-2.3zM924.5 1136.2h2.0v2.0h-2.0zM964.1 1140.0h2.2v2.2h-2.2zM966.4 1140.3h2.0v2.0h-2.0zM972.1 1138.6h2.2v2.2h-2.2zM972.3 1136.5h2.0v2.0h-2.0zM979.1 1138.0h2.5v2.5h-2.5zM978.9 1140.3h2.3v2.3h-2.3zM1009.1 1140.4h1.9v1.9h-1.9zM1016.2 1137.9h2.5v2.5h-2.5zM1026.1 1140.2h2.3v2.3h-2.3zM1062.9 1140.3h2.2v2.2h-2.2zM1064.1 1138.5h2.0v2.0h-2.0zM1158.7 1140.4h1.9v1.9h-1.9zM889.4 1144.0h1.6v1.6h-1.6zM887.3 1144.6h1.5v1.5h-1.5zM903.2 1143.6h2.6v2.6h-2.6zM902.6 1141.6h2.3v2.3h-2.3zM951.5 1142.2h1.7v1.7h-1.7zM986.5 1142.7h2.3v2.3h-2.3zM1019.5 1141.3h2.7v2.7h-2.7zM1028.9 1142.8h2.1v2.1h-2.1zM1111.0 1143.5h1.9v1.9h-1.9zM1108.9 1144.2h1.7v1.7h-1.7zM1160.7 1143.7h2.6v2.6h-2.6zM848.4 1144.7h1.7v1.7h-1.7zM887.4 1144.3h1.8v1.8h-1.8zM887.6 1146.6h1.7v1.7h-1.7zM907.8 1144.7h1.9v1.9h-1.9zM909.9 1143.9h1.7v1.7h-1.7zM919.9 1145.0h2.9v2.9h-2.9zM923.6 1144.4h2.8v2.8h-2.8zM946.5 1146.2h1.7v1.7h-1.7zM949.8 1146.0h2.2v2.2h-2.2zM972.9 1145.5h2.7v2.7h-2.7zM971.7 1147.4h2.4v2.4h-2.4zM1018.2 1145.2h2.4v2.4h-2.4zM1028.4 1145.7h2.9v2.9h-2.9zM1045.8 1144.6h2.6v2.6h-2.6zM1074.1 1147.0h1.8v1.8h-1.8zM1103.9 1145.3h2.9v2.9h-2.9zM1103.2 1147.4h2.6v2.6h-2.6zM1136.9 1144.1h2.3v2.3h-2.3zM1160.8 1144.9h2.4v2.4h-2.4zM1165.5 1146.3h1.9v1.9h-1.9zM1167.5 1145.3h1.7v1.7h-1.7zM1168.1 1146.5h2.8v2.8h-2.8zM880.6 1149.3h1.8v1.8h-1.8zM943.0 1147.6h3.0v3.0h-3.0zM958.7 1147.1h2.6v2.6h-2.6zM957.5 1145.5h2.3v2.3h-2.3zM974.8 1147.6h2.8v2.8h-2.8zM1038.4 1147.8h2.5v2.5h-2.5zM1045.8 1148.0h2.6v2.6h-2.6zM1054.6 1147.9h2.4v2.4h-2.4zM1192.6 1148.0h2.4v2.4h-2.4zM1039.8 1152.1h2.8v2.8h-2.8zM1041.5 1150.7h2.5v2.5h-2.5zM1083.9 1150.7h2.3v2.3h-2.3zM1122.7 1152.4h2.9v2.9h-2.9zM905.2 1154.6h1.9v1.9h-1.9zM1006.2 1154.4h2.1v2.1h-2.1zM1035.3 1154.7h2.7v2.7h-2.7zM1037.4 1155.7h2.5v2.5h-2.5zM1045.9 1155.0h2.3v2.3h-2.3zM1089.5 1154.0h2.8v2.8h-2.8zM1091.8 1154.6h2.1v2.1h-2.1zM1118.4 1155.2h2.0v2.0h-2.0zM1154.0 1155.8h1.9v1.9h-1.9zM935.1 1156.4h1.6v1.6h-1.6zM934.6 1154.4h1.5v1.5h-1.5zM964.0 1158.1h2.1v2.1h-2.1zM1010.6 1156.0h2.5v2.5h-2.5zM1038.3 1155.9h2.4v2.4h-2.4zM1036.3 1155.3h2.2v2.2h-2.2zM1072.8 1156.4h2.3v2.3h-2.3zM1124.5 1158.4h1.7v1.7h-1.7zM1161.0 1155.9h2.3v2.3h-2.3zM1164.6 1157.3h1.7v1.7h-1.7zM1173.1 1158.1h2.7v2.7h-2.7zM826.5 1159.2h2.2v2.2h-2.2zM824.6 1160.3h2.0v2.0h-2.0zM935.6 1161.1h2.4v2.4h-2.4zM985.0 1160.9h2.2v2.2h-2.2zM986.5 1159.3h2.0v2.0h-2.0zM992.4 1160.5h2.0v2.0h-2.0zM994.6 1160.0h1.8v1.8h-1.8zM1039.1 1158.9h2.8v2.8h-2.8zM1061.3 1159.3h2.0v2.0h-2.0zM1078.0 1161.1h2.6v2.6h-2.6zM1104.4 1159.5h1.9v1.9h-1.9zM1153.2 1159.1h2.6v2.6h-2.6zM1158.4 1161.0h2.1v2.1h-2.1zM1186.6 1162.2h1.7v1.7h-1.7zM833.6 1164.7h2.3v2.3h-2.3zM963.5 1162.0h2.6v2.6h-2.6zM1001.4 1162.2h2.6v2.6h-2.6zM1010.6 1161.7h2.8v2.8h-2.8zM1024.9 1162.0h3.0v3.0h-3.0zM1057.9 1164.4h2.2v2.2h-2.2zM1081.0 1163.3h2.2v2.2h-2.2zM1104.1 1162.3h2.8v2.8h-2.8zM1102.7 1164.1h2.5v2.5h-2.5zM1156.3 1162.6h3.0v3.0h-3.0zM882.1 1167.4h2.4v2.4h-2.4zM880.6 1166.0h2.1v2.1h-2.1zM914.9 1164.6h2.9v2.9h-2.9zM913.5 1163.3h2.6v2.6h-2.6zM979.5 1166.2h2.7v2.7h-2.7zM988.2 1167.1h1.7v1.7h-1.7zM989.7 1168.8h1.5v1.5h-1.5zM1049.1 1166.6h2.8v2.8h-2.8zM1101.8 1166.4h1.7v1.7h-1.7zM1104.5 1167.3h2.7v2.7h-2.7zM1121.9 1167.5h1.9v1.9h-1.9zM1135.3 1165.7h2.8v2.8h-2.8zM1142.5 1165.1h2.5v2.5h-2.5zM1144.5 1166.3h2.3v2.3h-2.3zM1164.1 1167.1h2.4v2.4h-2.4zM1174.6 1167.2h2.8v2.8h-2.8zM1195.3 1166.2h2.5v2.5h-2.5zM996.6 1169.6h2.4v2.4h-2.4zM1009.9 1169.8h2.0v2.0h-2.0zM1054.8 1168.8h1.6v1.6h-1.6zM1056.1 1167.0h1.4v1.4h-1.4zM1061.2 1169.8h1.7v1.7h-1.7zM1078.7 1170.5h2.3v2.3h-2.3zM1119.5 1169.5h2.6v2.6h-2.6zM1163.4 1170.2h2.2v2.2h-2.2zM1192.5 1170.1h1.7v1.7h-1.7zM1190.5 1171.0h1.5v1.5h-1.5zM938.3 1172.3h2.1v2.1h-2.1zM951.8 1171.5h2.4v2.4h-2.4zM953.8 1172.6h2.2v2.2h-2.2zM996.2 1173.9h1.9v1.9h-1.9zM998.5 1174.4h1.7v1.7h-1.7zM1022.9 1171.5h1.7v1.7h-1.7zM1033.6 1172.0h2.6v2.6h-2.6zM1037.9 1171.7h2.9v2.9h-2.9zM1045.8 1172.1h2.8v2.8h-2.8zM1047.2 1174.1h2.5v2.5h-2.5zM1101.0 1171.6h2.6v2.6h-2.6zM1190.5 1171.4h2.7v2.7h-2.7zM846.9 1177.1h1.6v1.6h-1.6zM884.3 1176.2h1.9v1.9h-1.9zM882.3 1175.6h1.7v1.7h-1.7zM968.8 1175.7h2.2v2.2h-2.2zM982.4 1174.6h2.5v2.5h-2.5zM1036.4 1176.5h2.3v2.3h-2.3zM1046.7 1176.0h1.9v1.9h-1.9zM1135.9 1175.0h2.1v2.1h-2.1zM844.5 1178.4h2.1v2.1h-2.1zM843.5 1180.4h1.9v1.9h-1.9zM872.8 1177.8h2.9v2.9h-2.9zM959.9 1179.0h2.0v2.0h-2.0zM965.2 1179.7h2.0v2.0h-2.0zM967.2 1178.7h1.8v1.8h-1.8zM977.7 1179.0h2.6v2.6h-2.6zM976.7 1181.1h2.3v2.3h-2.3zM996.9 1178.6h2.6v2.6h-2.6zM1081.2 1178.8h2.6v2.6h-2.6zM1081.9 1177.9h2.9v2.9h-2.9zM1087.5 1177.8h2.5v2.5h-2.5zM1104.4 1177.0h2.0v2.0h-2.0zM1114.1 1177.4h2.1v2.1h-2.1zM1161.7 1177.1h1.9v1.9h-1.9zM1192.6 1178.1h2.2v2.2h-2.2zM837.2 1182.8h2.0v2.0h-2.0zM835.4 1182.0h1.8v1.8h-1.8zM949.2 1181.0h1.9v1.9h-1.9zM950.0 1179.1h1.7v1.7h-1.7zM967.5 1180.2h2.1v2.1h-2.1zM992.4 1180.5h2.4v2.4h-2.4zM990.3 1181.0h2.1v2.1h-2.1zM1018.1 1182.8h1.8v1.8h-1.8zM1016.4 1184.1h1.6v1.6h-1.6zM1061.6 1180.5h2.0v2.0h-2.0zM1062.9 1178.8h1.8v1.8h-1.8zM1081.9 1181.5h2.4v2.4h-2.4zM1081.1 1179.6h2.2v2.2h-2.2zM1085.8 1180.0h2.6v2.6h-2.6zM1085.5 1182.3h2.4v2.4h-2.4zM1103.7 1182.4h2.0v2.0h-2.0zM1105.6 1183.9h1.8v1.8h-1.8zM1155.1 1179.8h2.8v2.8h-2.8zM1160.3 1180.3h2.5v2.5h-2.5zM1159.2 1178.6h2.2v2.2h-2.2zM913.3 1182.8h2.5v2.5h-2.5zM913.2 1180.7h2.2v2.2h-2.2zM969.4 1182.6h3.0v3.0h-3.0zM982.7 1185.7h1.8v1.8h-1.8zM982.7 1182.8h3.0v3.0h-3.0zM1040.9 1185.8h2.3v2.3h-2.3zM1096.4 1182.9h2.7v2.7h-2.7zM1138.3 1185.1h2.9v2.9h-2.9zM1139.1 1183.2h2.6v2.6h-2.6zM1140.6 1184.5h2.8v2.8h-2.8zM1185.3 1183.9h2.2v2.2h-2.2zM1187.5 1184.6h2.0v2.0h-2.0zM870.2 1187.4h2.0v2.0h-2.0zM928.1 1188.3h2.6v2.6h-2.6zM926.9 1190.2h2.4v2.4h-2.4zM932.6 1187.0h3.0v3.0h-3.0zM979.9 1186.7h2.6v2.6h-2.6zM1006.4 1186.9h2.3v2.3h-2.3zM1036.0 1185.9h2.3v2.3h-2.3zM1059.4 1188.4h1.8v1.8h-1.8zM1057.9 1187.0h1.7v1.7h-1.7zM1127.4 1187.9h1.8v1.8h-1.8zM1156.9 1186.9h2.2v2.2h-2.2zM1163.7 1185.9h2.7v2.7h-2.7zM1161.7 1186.4h2.4v2.4h-2.4zM865.3 1191.4h2.2v2.2h-2.2zM917.3 1190.0h2.5v2.5h-2.5zM932.4 1190.8h2.7v2.7h-2.7zM948.9 1190.2h2.8v2.8h-2.8zM961.5 1190.4h1.7v1.7h-1.7zM966.9 1188.7h2.8v2.8h-2.8zM965.6 1187.2h2.6v2.6h-2.6zM985.8 1190.3h2.6v2.6h-2.6zM1058.6 1191.2h2.1v2.1h-2.1zM1065.9 1190.6h1.7v1.7h-1.7zM1100.1 1191.8h2.2v2.2h-2.2zM1124.7 1189.8h2.8v2.8h-2.8zM1147.3 1189.3h2.8v2.8h-2.8zM1185.5 1190.3h2.5v2.5h-2.5zM946.2 1193.2h2.5v2.5h-2.5zM1015.7 1194.1h2.0v2.0h-2.0zM1064.7 1194.0h1.9v1.9h-1.9zM1083.4 1193.4h2.0v2.0h-2.0zM1085.3 1194.8h1.8v1.8h-1.8zM1086.1 1192.9h2.6v2.6h-2.6zM1181.7 1193.9h2.4v2.4h-2.4zM905.2 1196.6h1.9v1.9h-1.9zM904.2 1198.6h1.7v1.7h-1.7zM944.3 1196.4h1.8v1.8h-1.8zM946.2 1197.8h1.6v1.6h-1.6zM981.7 1197.4h2.2v2.2h-2.2zM1077.3 1196.1h1.7v1.7h-1.7zM1096.0 1197.0h2.4v2.4h-2.4zM1096.6 1195.0h2.2v2.2h-2.2zM1169.8 1194.8h2.8v2.8h-2.8zM1173.0 1194.8h2.7v2.7h-2.7zM1182.0 1194.7h2.6v2.6h-2.6zM1008.7 1200.0h2.3v2.3h-2.3zM1060.7 1198.8h2.6v2.6h-2.6zM1113.4 1198.3h2.2v2.2h-2.2zM1124.3 1200.1h2.3v2.3h-2.3zM1123.3 1198.2h2.0v2.0h-2.0zM1152.3 1199.6h2.4v2.4h-2.4zM1193.1 1200.3h2.1v2.1h-2.1zM911.9 1201.5h2.6v2.6h-2.6zM920.3 1201.0h2.4v2.4h-2.4zM920.6 1203.4h2.1v2.1h-2.1zM962.9 1203.3h2.7v2.7h-2.7zM1068.0 1202.8h2.8v2.8h-2.8zM1068.4 1205.1h2.5v2.5h-2.5zM1093.9 1202.8h2.5v2.5h-2.5zM1111.9 1201.6h2.5v2.5h-2.5zM1119.0 1202.6h2.0v2.0h-2.0zM1159.4 1203.6h2.6v2.6h-2.6zM1159.9 1201.5h2.3v2.3h-2.3zM1176.1 1203.6h2.7v2.7h-2.7zM813.4 1206.5h2.0v2.0h-2.0zM912.2 1204.8h2.6v2.6h-2.6zM916.1 1206.5h2.6v2.6h-2.6zM927.7 1205.9h2.8v2.8h-2.8zM942.2 1206.0h2.9v2.9h-2.9zM957.9 1204.1h1.9v1.9h-1.9zM957.4 1206.4h1.7v1.7h-1.7zM971.4 1204.5h1.6v1.6h-1.6zM988.3 1205.0h1.8v1.8h-1.8zM1008.8 1205.6h3.0v3.0h-3.0zM1047.0 1204.4h2.9v2.9h-2.9zM1082.3 1204.1h2.1v2.1h-2.1zM1178.0 1205.1h1.8v1.8h-1.8zM1177.9 1207.4h1.7v1.7h-1.7zM1180.5 1205.9h2.0v2.0h-2.0zM908.9 1208.6h2.1v2.1h-2.1zM910.7 1207.4h1.9v1.9h-1.9zM916.1 1207.2h2.3v2.3h-2.3zM918.4 1207.1h2.1v2.1h-2.1zM975.5 1206.8h2.7v2.7h-2.7zM974.8 1204.9h2.4v2.4h-2.4zM985.1 1208.1h2.2v2.2h-2.2zM1047.7 1210.0h1.9v1.9h-1.9zM1046.8 1212.0h1.7v1.7h-1.7zM1067.2 1207.0h2.9v2.9h-2.9zM1079.8 1209.8h2.2v2.2h-2.2zM1081.8 1208.8h1.9v1.9h-1.9zM1083.8 1209.5h2.2v2.2h-2.2zM1098.9 1207.3h2.6v2.6h-2.6zM1109.1 1207.7h2.8v2.8h-2.8zM1156.4 1208.1h2.6v2.6h-2.6zM1158.1 1208.7h2.3v2.3h-2.3zM1164.5 1208.4h2.3v2.3h-2.3zM1181.5 1209.4h2.5v2.5h-2.5zM873.8 1212.5h2.9v2.9h-2.9zM934.8 1210.6h2.9v2.9h-2.9zM1009.6 1210.1h2.9v2.9h-2.9zM1046.0 1210.8h2.9v2.9h-2.9zM1046.7 1208.8h2.6v2.6h-2.6zM1087.5 1211.1h2.7v2.7h-2.7zM1097.7 1209.9h2.9v2.9h-2.9zM1100.3 1212.2h2.4v2.4h-2.4zM1140.3 1210.6h2.5v2.5h-2.5zM1143.6 1212.1h1.7v1.7h-1.7zM1171.9 1210.4h1.6v1.6h-1.6zM1172.3 1210.3h2.7v2.7h-2.7zM1171.1 1208.7h2.5v2.5h-2.5zM1183.5 1211.2h2.3v2.3h-2.3zM805.9 1215.4h2.3v2.3h-2.3zM815.4 1213.6h2.6v2.6h-2.6zM813.4 1213.5h2.3v2.3h-2.3zM946.0 1213.1h2.9v2.9h-2.9zM970.3 1214.6h2.6v2.6h-2.6zM976.8 1213.6h2.1v2.1h-2.1zM1101.4 1214.7h2.2v2.2h-2.2zM1118.6 1215.5h1.8v1.8h-1.8zM1136.3 1214.1h1.7v1.7h-1.7zM1134.4 1215.3h1.6v1.6h-1.6zM903.9 1218.2h2.4v2.4h-2.4zM928.6 1217.0h1.8v1.8h-1.8zM935.7 1217.3h2.7v2.7h-2.7zM943.8 1218.5h2.2v2.2h-2.2zM941.8 1217.9h2.0v2.0h-2.0zM987.8 1216.5h2.4v2.4h-2.4zM1005.8 1216.8h2.7v2.7h-2.7zM1018.0 1218.3h2.6v2.6h-2.6zM1020.7 1217.5h2.1v2.1h-2.1zM1048.0 1216.4h2.4v2.4h-2.4zM1050.7 1218.4h2.9v2.9h-2.9zM1065.3 1216.3h2.0v2.0h-2.0zM1081.2 1216.1h2.6v2.6h-2.6zM1161.4 1215.8h2.6v2.6h-2.6zM1195.4 1218.6h1.9v1.9h-1.9zM897.2 1219.4h2.6v2.6h-2.6zM925.7 1220.6h2.1v2.1h-2.1zM954.8 1219.7h2.9v2.9h-2.9zM1021.4 1219.9h2.4v2.4h-2.4zM1023.0 1220.4h2.8v2.8h-2.8zM1066.6 1221.0h2.2v2.2h-2.2zM1099.9 1221.5h2.7v2.7h-2.7zM1134.4 1221.9h2.0v2.0h-2.0zM1150.9 1219.0h2.4v2.4h-2.4zM1156.9 1220.4h1.7v1.7h-1.7zM1176.8 1220.6h1.6v1.6h-1.6zM1198.3 1221.2h2.1v2.1h-2.1zM1199.1 1223.4h1.9v1.9h-1.9zM922.1 1222.3h2.1v2.1h-2.1zM943.0 1224.5h2.0v2.0h-2.0zM941.2 1223.5h1.8v1.8h-1.8zM968.2 1223.0h2.6v2.6h-2.6zM998.1 1222.6h2.4v2.4h-2.4zM1000.7 1224.0h2.9v2.9h-2.9zM1054.1 1224.2h2.7v2.7h-2.7zM1106.3 1222.5h2.2v2.2h-2.2zM1191.9 1224.3h2.6v2.6h-2.6zM916.6 1225.7h2.0v2.0h-2.0zM937.0 1225.4h1.8v1.8h-1.8zM939.9 1227.0h2.5v2.5h-2.5zM940.9 1227.4h2.8v2.8h-2.8zM1081.0 1227.5h1.9v1.9h-1.9zM1193.5 1227.6h2.5v2.5h-2.5zM846.4 1229.9h2.4v2.4h-2.4zM921.7 1230.8h2.4v2.4h-2.4zM930.6 1230.7h2.6v2.6h-2.6zM1028.2 1230.1h1.8v1.8h-1.8zM1034.0 1230.4h2.5v2.5h-2.5zM1040.9 1229.2h2.7v2.7h-2.7zM1073.3 1228.9h2.4v2.4h-2.4zM1074.4 1231.1h2.2v2.2h-2.2zM1148.2 1229.3h1.8v1.8h-1.8zM1158.6 1228.3h2.4v2.4h-2.4zM1160.8 1229.3h2.2v2.2h-2.2zM852.3 1233.1h1.9v1.9h-1.9zM939.5 1234.0h1.7v1.7h-1.7zM941.8 1234.1h1.5v1.5h-1.5zM1000.0 1233.5h2.0v2.0h-2.0zM1028.5 1230.9h2.8v2.8h-2.8zM1039.3 1231.8h2.1v2.1h-2.1zM1049.5 1233.5h2.7v2.7h-2.7zM1048.0 1235.0h2.4v2.4h-2.4zM1074.7 1233.1h1.6v1.6h-1.6zM1076.4 1231.6h1.8v1.8h-1.8zM1086.9 1233.3h2.1v2.1h-2.1zM1114.9 1232.0h2.1v2.1h-2.1zM1162.9 1231.7h1.8v1.8h-1.8zM876.8 1235.8h2.9v2.9h-2.9zM917.0 1235.7h1.6v1.6h-1.6zM943.3 1236.0h2.6v2.6h-2.6zM944.9 1237.8h2.3v2.3h-2.3zM953.1 1236.4h2.8v2.8h-2.8zM999.1 1234.7h1.8v1.8h-1.8zM997.1 1235.4h1.6v1.6h-1.6zM1009.5 1235.9h2.8v2.8h-2.8zM1009.1 1233.9h2.5v2.5h-2.5zM1024.5 1236.3h2.1v2.1h-2.1zM1026.1 1234.4h1.8v1.8h-1.8zM1032.6 1235.5h1.8v1.8h-1.8zM1103.0 1235.0h2.7v2.7h-2.7zM1141.9 1235.6h2.6v2.6h-2.6zM1145.5 1236.1h1.8v1.8h-1.8zM1156.5 1236.5h1.9v1.9h-1.9zM1157.2 1234.5h1.7v1.7h-1.7zM1168.2 1235.6h2.3v2.3h-2.3zM995.0 1239.0h1.9v1.9h-1.9zM1000.2 1236.9h2.8v2.8h-2.8zM1011.8 1238.9h1.9v1.9h-1.9zM1068.8 1237.3h1.9v1.9h-1.9zM1096.5 1237.6h1.7v1.7h-1.7zM1126.1 1237.7h2.5v2.5h-2.5zM1128.4 1238.1h2.3v2.3h-2.3zM1144.0 1238.5h3.0v3.0h-3.0zM845.5 1242.6h2.6v2.6h-2.6zM905.3 1241.5h2.8v2.8h-2.8zM908.5 1242.3h2.2v2.2h-2.2zM907.7 1240.4h2.0v2.0h-2.0zM936.5 1240.2h2.5v2.5h-2.5zM945.2 1242.5h2.3v2.3h-2.3zM969.4 1241.8h3.0v3.0h-3.0zM967.3 1241.9h2.7v2.7h-2.7zM1033.2 1242.3h2.6v2.6h-2.6zM1162.2 1242.9h2.1v2.1h-2.1zM822.5 1243.7h1.7v1.7h-1.7zM862.3 1243.9h1.6v1.6h-1.6zM897.7 1246.0h1.8v1.8h-1.8zM916.0 1245.0h2.4v2.4h-2.4zM932.6 1245.6h1.6v1.6h-1.6zM943.2 1244.6h2.5v2.5h-2.5zM950.8 1243.2h1.8v1.8h-1.8zM1019.8 1245.2h1.9v1.9h-1.9zM1028.1 1245.7h1.8v1.8h-1.8zM1042.6 1245.2h2.9v2.9h-2.9zM1059.1 1245.0h2.8v2.8h-2.8zM1061.3 1244.6h2.5v2.5h-2.5zM1070.3 1245.0h2.4v2.4h-2.4zM1154.2 1244.0h2.9v2.9h-2.9zM1010.4 1247.5h2.7v2.7h-2.7zM1149.1 1247.9h2.8v2.8h-2.8zM887.4 1249.1h2.6v2.6h-2.6zM1005.6 1249.2h2.6v2.6h-2.6zM1008.1 1251.6h2.4v2.4h-2.4zM1028.5 1248.9h2.2v2.2h-2.2zM1059.1 1249.0h2.3v2.3h-2.3zM889.7 1254.8h1.8v1.8h-1.8zM901.5 1251.9h2.9v2.9h-2.9zM946.6 1254.3h1.8v1.8h-1.8zM948.8 1254.7h1.6v1.6h-1.6zM1036.6 1251.8h2.7v2.7h-2.7zM1039.2 1252.6h2.5v2.5h-2.5zM1041.4 1253.6h2.3v2.3h-2.3zM1074.8 1251.8h2.6v2.6h-2.6zM1076.8 1250.8h2.3v2.3h-2.3zM1173.5 1252.8h1.9v1.9h-1.9zM893.9 1256.1h2.6v2.6h-2.6zM886.1 1260.3h2.9v2.9h-2.9zM892.8 1258.6h2.4v2.4h-2.4zM892.9 1259.6h2.4v2.4h-2.4zM891.2 1261.0h2.2v2.2h-2.2zM911.2 1259.6h3.0v3.0h-3.0zM1031.7 1258.2h2.9v2.9h-2.9zM903.9 1262.7h2.2v2.2h-2.2zM932.6 1263.7h2.3v2.3h-2.3zM975.5 1262.6h2.8v2.8h-2.8zM977.8 1262.4h2.5v2.5h-2.5zM987.3 1260.9h2.5v2.5h-2.5zM1073.4 1262.3h1.8v1.8h-1.8zM929.2 1264.2h2.3v2.3h-2.3zM933.8 1265.0h1.9v1.9h-1.9zM931.7 1265.2h1.8v1.8h-1.8zM1001.2 1265.5h2.7v2.7h-2.7zM1117.6 1265.3h2.1v2.1h-2.1zM894.6 1268.6h2.5v2.5h-2.5zM899.5 1267.3h2.8v2.8h-2.8zM931.3 1267.4h1.8v1.8h-1.8zM984.2 1269.7h1.8v1.8h-1.8zM916.9 1271.8h2.5v2.5h-2.5zM931.1 1270.7h2.8v2.8h-2.8zM945.2 1270.9h1.9v1.9h-1.9zM959.7 1271.5h3.0v3.0h-3.0zM967.9 1270.1h2.3v2.3h-2.3zM967.7 1272.4h2.1v2.1h-2.1zM972.3 1271.2h2.4v2.4h-2.4zM1021.9 1271.8h2.2v2.2h-2.2zM898.2 1273.4h2.7v2.7h-2.7zM908.0 1274.4h2.7v2.7h-2.7zM914.9 1273.9h1.9v1.9h-1.9zM921.3 1274.5h2.1v2.1h-2.1zM980.4 1273.9h2.8v2.8h-2.8zM894.3 1279.0h1.8v1.8h-1.8zM892.9 1280.7h1.6v1.6h-1.6zM896.4 1276.9h2.9v2.9h-2.9zM905.0 1278.4h1.9v1.9h-1.9zM906.7 1276.9h1.7v1.7h-1.7zM919.8 1277.6h2.6v2.6h-2.6zM924.7 1278.4h3.0v3.0h-3.0zM946.7 1278.0h2.0v2.0h-2.0zM948.3 1276.5h2.9v2.9h-2.9zM953.6 1278.8h2.2v2.2h-2.2zM959.9 1278.1h1.8v1.8h-1.8zM977.7 1278.5h3.0v3.0h-3.0zM874.6 1281.3h1.8v1.8h-1.8zM875.7 1283.3h1.6v1.6h-1.6zM890.7 1280.1h1.7v1.7h-1.7zM938.1 1280.6h2.9v2.9h-2.9zM944.1 1279.1h2.7v2.7h-2.7zM951.1 1281.4h2.1v2.1h-2.1zM979.8 1279.4h2.4v2.4h-2.4zM978.4 1278.0h2.2v2.2h-2.2zM933.2 1282.7h3.0v3.0h-3.0zM957.2 1284.0h2.9v2.9h-2.9zM980.1 1285.0h2.0v2.0h-2.0zM983.0 1282.5h2.1v2.1h-2.1zM1151.1 1283.8h2.1v2.1h-2.1zM919.5 1286.1h1.7v1.7h-1.7zM919.3 1288.4h1.5v1.5h-1.5zM992.4 1286.5h2.0v2.0h-2.0zM899.0 1288.7h1.7v1.7h-1.7zM950.1 1288.7h2.2v2.2h-2.2zM967.4 1288.6h2.4v2.4h-2.4zM890.3 1292.7h2.1v2.1h-2.1zM915.6 1291.8h2.1v2.1h-2.1zM955.5 1292.5h2.1v2.1h-2.1zM961.0 1292.7h1.6v1.6h-1.6zM983.9 1290.6h3.0v3.0h-3.0zM981.8 1291.1h2.7v2.7h-2.7zM884.2 1295.5h2.1v2.1h-2.1zM928.4 1296.9h1.7v1.7h-1.7zM929.9 1295.3h1.5v1.5h-1.5zM937.5 1295.2h1.8v1.8h-1.8zM869.4 1299.4h3.0v3.0h-3.0zM905.5 1298.0h2.3v2.3h-2.3zM944.4 1299.8h1.9v1.9h-1.9zM949.6 1299.4h2.6v2.6h-2.6zM975.0 1299.4h1.9v1.9h-1.9zM973.7 1297.7h1.7v1.7h-1.7zM1121.5 1298.7h2.5v2.5h-2.5zM902.0 1300.9h2.3v2.3h-2.3zM935.3 1300.0h2.6v2.6h-2.6zM952.8 1300.8h2.1v2.1h-2.1zM961.4 1301.7h2.9v2.9h-2.9zM963.3 1300.5h2.6v2.6h-2.6zM979.1 1301.7h1.9v1.9h-1.9zM867.6 1304.3h2.9v2.9h-2.9zM892.3 1303.2h2.7v2.7h-2.7zM910.4 1304.0h2.0v2.0h-2.0zM926.5 1303.5h2.6v2.6h-2.6zM943.9 1303.6h3.0v3.0h-3.0zM907.0 1307.9h2.7v2.7h-2.7zM913.4 1306.6h2.7v2.7h-2.7zM914.2 1308.9h2.5v2.5h-2.5zM917.9 1306.3h1.7v1.7h-1.7zM917.2 1304.3h1.5v1.5h-1.5zM936.5 1306.6h2.2v2.2h-2.2zM945.1 1306.5h2.7v2.7h-2.7zM959.4 1307.0h1.9v1.9h-1.9zM882.7 1311.3h2.6v2.6h-2.6zM885.0 1311.1h2.3v2.3h-2.3zM887.3 1310.4h2.0v2.0h-2.0zM885.4 1311.4h1.8v1.8h-1.8zM934.7 1311.3h1.9v1.9h-1.9zM899.2 1312.4h2.5v2.5h-2.5zM906.6 1314.3h1.9v1.9h-1.9zM919.0 1313.9h2.4v2.4h-2.4zM925.7 1313.0h2.2v2.2h-2.2zM966.6 1314.1h2.2v2.2h-2.2zM968.0 1313.0h2.3v2.3h-2.3zM969.6 1314.7h2.1v2.1h-2.1zM972.0 1313.7h2.5v2.5h-2.5zM936.2 1317.7h1.8v1.8h-1.8zM975.3 1317.0h2.9v2.9h-2.9zM913.7 1319.4h2.4v2.4h-2.4zM915.2 1321.3h2.1v2.1h-2.1zM928.4 1320.8h1.6v1.6h-1.6zM947.1 1319.6h2.8v2.8h-2.8zM908.5 1323.5h2.0v2.0h-2.0zM945.2 1321.2h3.0v3.0h-3.0zM896.8 1325.0h2.7v2.7h-2.7zM899.5 1326.4h2.4v2.4h-2.4zM900.0 1324.3h2.2v2.2h-2.2zM940.9 1325.5h2.5v2.5h-2.5zM940.0 1323.6h2.3v2.3h-2.3zM970.1 1325.8h2.0v2.0h-2.0zM880.3 1329.1h2.6v2.6h-2.6zM879.6 1327.2h2.3v2.3h-2.3zM894.3 1328.2h2.6v2.6h-2.6zM918.1 1328.4h1.8v1.8h-1.8zM943.7 1327.3h1.9v1.9h-1.9zM944.3 1325.2h1.7v1.7h-1.7zM863.2 1331.4h2.7v2.7h-2.7zM876.5 1332.5h2.1v2.1h-2.1zM902.3 1331.1h2.0v2.0h-2.0zM900.9 1329.5h1.8v1.8h-1.8zM935.6 1331.9h2.6v2.6h-2.6zM937.6 1330.8h2.3v2.3h-2.3zM941.2 1329.8h2.7v2.7h-2.7zM954.0 1330.8h2.4v2.4h-2.4zM858.0 1333.4h2.7v2.7h-2.7zM903.5 1333.8h2.6v2.6h-2.6zM922.7 1333.2h2.4v2.4h-2.4zM924.4 1334.8h2.2v2.2h-2.2zM961.6 1334.3h2.1v2.1h-2.1zM1080.5 1334.3h2.8v2.8h-2.8z" fill="#10c810"/>
<path d="M822.7 1036.2h1.9v1.9h-1.9zM849.1 1037.7h2.6v2.6h-2.6zM866.6 1037.3h1.8v1.8h-1.8zM901.9 1037.9h1.9v1.9h-1.9zM902.0 1040.2h1.7v1.7h-1.7zM902.6 1036.7h2.8v2.8h-2.8zM925.5 1036.9h2.4v2.4h-2.4zM942.2 1039.1h1.7v1.7h-1.7zM942.9 1041.2h1.6v1.6h-1.6zM833.4 1041.0h2.5v2.5h-2.5zM850.8 1039.2h2.3v2.3h-2.3zM854.4 1040.6h1.7v1.7h-1.7zM867.3 1038.9h2.3v2.3h-2.3zM889.4 1041.7h1.7v1.7h-1.7zM895.0 1040.0h2.7v2.7h-2.7zM904.4 1041.1h1.7v1.7h-1.7zM902.3 1041.6h1.5v1.5h-1.5zM914.1 1039.1h2.9v2.9h-2.9zM921.4 1040.7h1.8v1.8h-1.8zM921.6 1043.0h1.7v1.7h-1.7zM1088.6 1039.5h2.7v2.7h-2.7zM820.8 1043.6h1.6v1.6h-1.6zM821.7 1041.6h1.5v1.5h-1.5zM843.7 1043.7h2.3v2.3h-2.3zM842.1 1045.1h2.0v2.0h-2.0zM846.6 1043.2h1.9v1.9h-1.9zM864.0 1042.0h3.0v3.0h-3.0zM864.4 1040.0h2.7v2.7h-2.7zM878.7 1044.5h2.8v2.8h-2.8zM939.1 1043.0h2.3v2.3h-2.3zM994.0 1043.8h2.8v2.8h-2.8zM1189.3 1043.0h2.8v2.8h-2.8zM812.8 1046.8h2.2v2.2h-2.2zM842.9 1046.3h1.7v1.7h-1.7zM847.0 1046.7h2.0v2.0h-2.0zM851.8 1045.3h2.7v2.7h-2.7zM850.6 1043.7h2.4v2.4h-2.4zM855.9 1047.2h2.5v2.5h-2.5zM912.9 1045.5h2.4v2.4h-2.4zM914.2 1043.8h2.2v2.2h-2.2zM1019.8 1045.7h1.6v1.6h-1.6zM800.4 1049.0h1.9v1.9h-1.9zM842.7 1048.6h2.1v2.1h-2.1zM851.6 1048.0h2.8v2.8h-2.8zM865.3 1050.4h1.8v1.8h-1.8zM868.6 1049.9h1.7v1.7h-1.7zM901.4 1048.6h2.6v2.6h-2.6zM919.0 1048.0h2.3v2.3h-2.3zM924.4 1048.4h2.5v2.5h-2.5zM937.3 1049.0h2.1v2.1h-2.1zM803.1 1053.7h1.8v1.8h-1.8zM805.4 1053.4h1.7v1.7h-1.7zM806.7 1052.5h2.3v2.3h-2.3zM827.7 1053.4h2.9v2.9h-2.9zM829.2 1051.8h2.6v2.6h-2.6zM865.8 1051.6h1.6v1.6h-1.6zM867.8 1053.4h2.6v2.6h-2.6zM869.2 1051.7h2.3v2.3h-2.3zM870.2 1053.0h1.8v1.8h-1.8zM847.5 1057.0h1.9v1.9h-1.9zM861.5 1054.0h2.4v2.4h-2.4zM883.7 1055.1h1.9v1.9h-1.9zM884.0 1054.9h2.1v2.1h-2.1zM881.9 1055.2h1.8v1.8h-1.8zM895.8 1056.6h2.0v2.0h-2.0zM913.2 1055.2h2.5v2.5h-2.5zM926.4 1056.1h2.4v2.4h-2.4zM927.5 1058.2h2.2v2.2h-2.2zM931.4 1056.9h1.6v1.6h-1.6zM933.7 1056.8h1.5v1.5h-1.5zM1019.0 1055.6h1.9v1.9h-1.9zM1018.9 1053.5h1.7v1.7h-1.7zM1073.6 1056.6h2.6v2.6h-2.6zM831.5 1058.2h2.0v2.0h-2.0zM835.7 1057.9h1.7v1.7h-1.7zM848.8 1057.1h3.0v3.0h-3.0zM861.9 1057.2h2.6v2.6h-2.6zM890.5 1058.5h2.3v2.3h-2.3zM889.6 1060.5h2.0v2.0h-2.0zM907.7 1057.6h2.0v2.0h-2.0zM803.5 1062.7h2.0v2.0h-2.0zM815.4 1061.9h2.8v2.8h-2.8zM823.4 1062.4h2.4v2.4h-2.4zM826.2 1062.9h1.8v1.8h-1.8zM842.3 1060.9h2.2v2.2h-2.2zM840.5 1060.1h2.0v2.0h-2.0zM845.4 1061.0h2.6v2.6h-2.6zM858.7 1062.3h2.6v2.6h-2.6zM870.9 1062.8h1.6v1.6h-1.6zM872.1 1061.1h1.5v1.5h-1.5zM875.3 1060.7h2.2v2.2h-2.2zM896.7 1060.2h2.1v2.1h-2.1zM900.9 1062.6h2.1v2.1h-2.1zM911.6 1061.3h1.9v1.9h-1.9zM925.3 1060.4h1.6v1.6h-1.6zM936.5 1060.4h1.8v1.8h-1.8zM1078.4 1060.1h1.8v1.8h-1.8zM805.6 1063.3h1.7v1.7h-1.7zM807.8 1064.3h1.6v1.6h-1.6zM880.3 1064.9h2.1v2.1h-2.1zM885.1 1065.7h1.9v1.9h-1.9zM895.9 1065.7h2.3v2.3h-2.3zM932.9 1064.8h1.8v1.8h-1.8zM946.0 1064.6h1.9v1.9h-1.9zM1070.3 1064.5h1.8v1.8h-1.8zM1113.9 1063.7h2.0v2.0h-2.0zM872.1 1068.9h1.9v1.9h-1.9zM896.8 1068.0h2.4v2.4h-2.4zM898.4 1066.5h2.1v2.1h-2.1zM906.3 1069.0h1.6v1.6h-1.6zM915.3 1067.8h2.0v2.0h-2.0zM913.9 1066.3h1.8v1.8h-1.8zM931.8 1068.0h2.2v2.2h-2.2zM822.9 1071.1h2.2v2.2h-2.2zM828.8 1070.3h1.8v1.8h-1.8zM832.7 1070.5h2.3v2.3h-2.3zM857.5 1069.6h2.0v2.0h-2.0zM859.8 1069.3h1.8v1.8h-1.8zM863.2 1070.1h2.8v2.8h-2.8zM862.9 1072.4h2.5v2.5h-2.5zM881.5 1069.4h2.4v2.4h-2.4zM934.9 1070.9h2.7v2.7h-2.7zM936.3 1072.9h2.4v2.4h-2.4zM949.5 1070.0h1.7v1.7h-1.7zM956.3 1071.8h1.9v1.9h-1.9zM954.6 1073.1h1.7v1.7h-1.7zM1066.1 1070.3h2.1v2.1h-2.1zM1066.4 1072.6h1.9v1.9h-1.9zM1072.7 1069.6h2.9v2.9h-2.9zM1084.3 1069.6h1.9v1.9h-1.9zM1085.9 1071.3h1.7v1.7h-1.7zM1116.6 1069.3h2.5v2.5h-2.5zM1118.5 1070.7h2.3v2.3h-2.3zM800.3 1074.9h1.6v1.6h-1.6zM798.2 1074.5h1.4v1.4h-1.4zM834.8 1072.6h2.8v2.8h-2.8zM838.9 1073.4h2.9v2.9h-2.9zM842.4 1074.2h2.8v2.8h-2.8zM840.9 1072.8h2.5v2.5h-2.5zM849.3 1072.7h2.0v2.0h-2.0zM851.2 1073.2h1.7v1.7h-1.7zM858.0 1074.3h1.9v1.9h-1.9zM872.3 1074.5h2.6v2.6h-2.6zM871.7 1072.6h2.4v2.4h-2.4zM889.4 1074.5h2.7v2.7h-2.7zM898.2 1072.0h2.5v2.5h-2.5zM911.0 1073.5h3.0v3.0h-3.0zM921.1 1072.0h2.8v2.8h-2.8zM926.2 1073.5h2.5v2.5h-2.5zM929.2 1075.0h1.7v1.7h-1.7zM935.7 1074.0h2.4v2.4h-2.4zM994.7 1073.3h2.0v2.0h-2.0zM1064.2 1074.8h2.0v2.0h-2.0zM1088.8 1072.1h2.2v2.2h-2.2zM1100.5 1073.6h2.7v2.7h-2.7zM1121.4 1074.4h2.0v2.0h-2.0zM1121.4 1076.7h1.8v1.8h-1.8zM1181.7 1073.1h2.2v2.2h-2.2zM813.5 1076.2h1.7v1.7h-1.7zM829.7 1075.7h2.2v2.2h-2.2zM848.7 1078.1h1.7v1.7h-1.7zM850.4 1076.7h1.5v1.5h-1.5zM865.9 1075.2h2.2v2.2h-2.2zM875.6 1076.7h2.4v2.4h-2.4zM877.5 1078.1h2.1v2.1h-2.1zM911.9 1077.7h2.0v2.0h-2.0zM911.1 1079.8h1.8v1.8h-1.8zM920.4 1075.9h2.6v2.6h-2.6zM992.2 1077.4h2.9v2.9h-2.9zM992.4 1079.7h2.6v2.6h-2.6zM1079.9 1075.2h2.3v2.3h-2.3zM1100.2 1075.9h1.9v1.9h-1.9zM1114.3 1075.7h2.4v2.4h-2.4zM1143.6 1075.7h2.6v2.6h-2.6zM1172.7 1076.4h2.0v2.0h-2.0zM810.8 1078.3h2.7v2.7h-2.7zM854.2 1078.9h1.8v1.8h-1.8zM864.6 1078.9h2.3v2.3h-2.3zM865.0 1076.8h2.0v2.0h-2.0zM883.1 1079.2h1.7v1.7h-1.7zM885.1 1078.4h1.6v1.6h-1.6zM889.7 1079.1h2.8v2.8h-2.8zM893.3 1079.9h2.5v2.5h-2.5zM897.7 1079.4h2.9v2.9h-2.9zM924.1 1078.7h2.2v2.2h-2.2zM931.9 1078.8h2.9v2.9h-2.9zM936.9 1080.5h2.2v2.2h-2.2zM1083.7 1079.3h2.6v2.6h-2.6zM1086.0 1078.9h2.3v2.3h-2.3zM867.4 1083.5h2.1v2.1h-2.1zM872.0 1081.9h2.5v2.5h-2.5zM874.0 1080.9h2.3v2.3h-2.3zM903.3 1081.7h2.3v2.3h-2.3zM906.6 1082.2h2.6v2.6h-2.6zM933.8 1084.1h1.6v1.6h-1.6zM823.0 1085.0h2.9v2.9h-2.9zM833.1 1084.6h2.8v2.8h-2.8zM868.7 1085.8h2.6v2.6h-2.6zM896.5 1085.1h2.8v2.8h-2.8zM911.5 1084.8h2.4v2.4h-2.4zM919.0 1084.5h2.9v2.9h-2.9zM929.4 1085.1h2.6v2.6h-2.6zM930.1 1087.4h2.4v2.4h-2.4zM1037.7 1086.2h1.8v1.8h-1.8zM1040.0 1086.4h1.6v1.6h-1.6zM1118.2 1085.2h1.7v1.7h-1.7zM824.1 1089.2h2.7v2.7h-2.7zM826.4 1089.1h2.5v2.5h-2.5zM843.6 1088.5h1.9v1.9h-1.9zM845.9 1088.9h1.7v1.7h-1.7zM849.8 1087.6h2.0v2.0h-2.0zM865.3 1087.6h2.7v2.7h-2.7zM867.4 1088.2h2.6v2.6h-2.6zM1079.3 1088.5h2.3v2.3h-2.3zM818.6 1091.0h1.9v1.9h-1.9zM820.7 1092.0h1.7v1.7h-1.7zM833.6 1090.1h2.3v2.3h-2.3zM882.6 1091.9h2.2v2.2h-2.2zM880.6 1092.4h2.0v2.0h-2.0zM913.6 1091.5h1.7v1.7h-1.7zM911.6 1090.8h1.6v1.6h-1.6zM936.3 1092.3h2.4v2.4h-2.4zM962.8 1091.5h2.0v2.0h-2.0zM1175.0 1092.1h2.5v2.5h-2.5zM804.7 1094.7h1.8v1.8h-1.8zM806.9 1095.3h1.6v1.6h-1.6zM811.2 1094.6h2.4v2.4h-2.4zM836.0 1093.5h2.1v2.1h-2.1zM837.7 1092.1h1.9v1.9h-1.9zM847.1 1095.5h1.7v1.7h-1.7zM852.0 1093.6h2.1v2.1h-2.1zM868.6 1095.3h2.8v2.8h-2.8zM890.5 1094.5h1.9v1.9h-1.9zM913.7 1093.5h1.6v1.6h-1.6zM912.4 1092.0h1.5v1.5h-1.5zM943.2 1094.2h2.2v2.2h-2.2zM878.7 1098.1h3.0v3.0h-3.0zM882.3 1098.5h2.7v2.7h-2.7zM893.5 1095.8h2.6v2.6h-2.6zM906.2 1098.2h3.0v3.0h-3.0zM949.2 1098.3h2.9v2.9h-2.9zM947.1 1098.7h2.6v2.6h-2.6zM821.0 1100.5h2.1v2.1h-2.1zM834.6 1101.7h2.6v2.6h-2.6zM836.6 1100.8h2.3v2.3h-2.3zM847.7 1100.8h2.8v2.8h-2.8zM888.1 1101.1h2.8v2.8h-2.8zM890.5 1101.4h2.6v2.6h-2.6zM824.1 1103.9h1.8v1.8h-1.8zM893.2 1103.5h3.0v3.0h-3.0zM891.2 1103.6h2.7v2.7h-2.7zM924.0 1103.5h2.2v2.2h-2.2zM931.4 1103.8h1.6v1.6h-1.6zM939.4 1103.5h1.8v1.8h-1.8zM1104.8 1103.0h1.8v1.8h-1.8zM821.4 1105.4h2.1v2.1h-2.1zM832.0 1107.0h1.6v1.6h-1.6zM865.3 1105.8h1.7v1.7h-1.7zM863.2 1105.8h1.5v1.5h-1.5zM889.0 1105.2h2.2v2.2h-2.2zM900.6 1107.0h1.9v1.9h-1.9zM1105.7 1105.4h2.4v2.4h-2.4zM1113.0 1106.1h2.4v2.4h-2.4zM809.1 1110.9h1.8v1.8h-1.8zM832.6 1110.3h2.9v2.9h-2.9zM853.0 1110.0h2.3v2.3h-2.3zM851.3 1111.4h2.0v2.0h-2.0zM862.1 1110.0h2.6v2.6h-2.6zM871.1 1109.5h2.6v2.6h-2.6zM869.3 1110.6h2.3v2.3h-2.3zM909.3 1110.4h2.1v2.1h-2.1zM908.1 1108.8h1.9v1.9h-1.9zM915.2 1108.7h1.9v1.9h-1.9zM875.7 1111.7h2.1v2.1h-2.1zM874.8 1113.7h1.9v1.9h-1.9zM887.4 1112.4h2.8v2.8h-2.8zM885.3 1112.3h2.5v2.5h-2.5zM903.5 1112.3h2.1v2.1h-2.1zM962.3 1112.8h2.3v2.3h-2.3zM972.6 1111.6h1.7v1.7h-1.7zM974.1 1110.1h1.5v1.5h-1.5zM1124.8 1113.8h2.2v2.2h-2.2zM1124.8 1116.2h2.0v2.0h-2.0zM1145.6 1113.0h2.5v2.5h-2.5zM1145.1 1111.1h2.3v2.3h-2.3zM809.6 1115.4h1.7v1.7h-1.7zM817.3 1115.1h2.6v2.6h-2.6zM836.2 1115.4h1.8v1.8h-1.8zM870.9 1115.1h2.2v2.2h-2.2zM869.1 1114.1h2.0v2.0h-2.0zM883.0 1116.6h1.8v1.8h-1.8zM944.8 1116.6h2.6v2.6h-2.6zM947.7 1114.7h2.8v2.8h-2.8zM956.5 1115.0h1.9v1.9h-1.9zM961.4 1114.6h2.9v2.9h-2.9zM1038.6 1115.1h2.7v2.7h-2.7zM1174.6 1115.2h2.7v2.7h-2.7zM801.0 1118.5h2.5v2.5h-2.5zM828.9 1118.1h2.1v2.1h-2.1zM829.7 1120.3h1.9v1.9h-1.9zM874.2 1119.2h1.7v1.7h-1.7zM872.1 1119.3h1.5v1.5h-1.5zM890.7 1117.2h2.6v2.6h-2.6zM902.2 1119.6h1.7v1.7h-1.7zM917.6 1119.7h2.1v2.1h-2.1zM951.7 1120.0h1.7v1.7h-1.7zM806.2 1121.4h2.2v2.2h-2.2zM821.6 1120.4h1.6v1.6h-1.6zM834.8 1123.2h1.6v1.6h-1.6zM847.0 1121.9h2.4v2.4h-2.4zM906.2 1121.7h2.2v2.2h-2.2zM932.7 1120.5h2.9v2.9h-2.9zM951.5 1120.1h2.0v2.0h-2.0zM1131.2 1122.2h2.6v2.6h-2.6zM823.4 1124.1h2.6v2.6h-2.6zM827.6 1123.7h2.7v2.7h-2.7zM838.8 1123.8h2.4v2.4h-2.4zM837.0 1125.0h2.1v2.1h-2.1zM857.1 1125.4h2.6v2.6h-2.6zM906.0 1123.1h2.4v2.4h-2.4zM924.7 1124.9h2.0v2.0h-2.0zM937.6 1123.9h2.3v2.3h-2.3zM939.9 1123.6h2.0v2.0h-2.0zM940.7 1124.9h2.8v2.8h-2.8zM1172.2 1124.0h1.8v1.8h-1.8zM832.2 1128.4h2.6v2.6h-2.6zM836.0 1125.9h2.5v2.5h-2.5zM842.6 1128.1h1.7v1.7h-1.7zM841.0 1126.8h1.5v1.5h-1.5zM846.4 1126.2h2.3v2.3h-2.3zM873.7 1128.6h2.2v2.2h-2.2zM872.3 1130.4h2.0v2.0h-2.0zM907.3 1126.9h2.0v2.0h-2.0zM909.4 1127.9h1.8v1.8h-1.8zM913.6 1127.7h2.1v2.1h-2.1zM918.5 1128.5h2.9v2.9h-2.9zM944.0 1127.5h2.0v2.0h-2.0zM972.9 1128.0h2.7v2.7h-2.7zM973.3 1130.3h2.5v2.5h-2.5zM1026.1 1126.1h2.1v2.1h-2.1zM1037.4 1126.0h2.8v2.8h-2.8zM1181.0 1126.4h2.9v2.9h-2.9zM808.2 1131.0h2.5v2.5h-2.5zM850.7 1128.7h2.7v2.7h-2.7zM858.6 1131.6h1.8v1.8h-1.8zM873.4 1129.9h2.6v2.6h-2.6zM872.8 1132.1h2.3v2.3h-2.3zM890.4 1131.5h1.9v1.9h-1.9zM936.6 1131.0h2.8v2.8h-2.8zM941.1 1131.3h2.1v2.1h-2.1zM971.5 1130.0h1.7v1.7h-1.7zM979.8 1130.6h2.7v2.7h-2.7zM1055.3 1131.1h1.8v1.8h-1.8zM1086.4 1131.3h2.6v2.6h-2.6zM1096.7 1130.7h1.6v1.6h-1.6zM813.4 1133.8h2.1v2.1h-2.1zM835.0 1133.1h2.8v2.8h-2.8zM832.9 1133.1h2.5v2.5h-2.5zM852.3 1132.4h2.0v2.0h-2.0zM861.7 1133.8h1.7v1.7h-1.7zM872.6 1134.5h2.8v2.8h-2.8zM886.7 1132.4h2.5v2.5h-2.5zM904.3 1132.7h2.8v2.8h-2.8zM902.3 1133.1h2.5v2.5h-2.5zM951.7 1133.6h2.9v2.9h-2.9zM953.0 1132.8h2.7v2.7h-2.7zM984.8 1133.2h2.1v2.1h-2.1zM986.2 1133.5h2.8v2.8h-2.8zM991.4 1134.1h1.8v1.8h-1.8zM993.4 1133.2h1.6v1.6h-1.6zM1089.3 1133.0h2.4v2.4h-2.4zM835.9 1136.8h2.3v2.3h-2.3zM863.6 1137.1h2.5v2.5h-2.5zM877.3 1137.2h2.3v2.3h-2.3zM883.5 1135.7h2.5v2.5h-2.5zM897.6 1137.0h2.7v2.7h-2.7zM918.2 1136.5h2.4v2.4h-2.4zM917.3 1134.6h2.1v2.1h-2.1zM921.3 1135.7h1.6v1.6h-1.6zM930.4 1135.5h2.9v2.9h-2.9zM942.0 1135.7h1.9v1.9h-1.9zM955.4 1135.9h2.1v2.1h-2.1zM977.9 1136.3h2.4v2.4h-2.4zM980.7 1135.9h2.5v2.5h-2.5zM979.0 1134.8h2.2v2.2h-2.2zM984.3 1135.7h1.7v1.7h-1.7zM996.9 1136.7h2.0v2.0h-2.0zM1057.2 1137.2h3.0v3.0h-3.0zM1196.2 1135.1h2.2v2.2h-2.2zM1197.5 1133.4h1.9v1.9h-1.9zM801.2 1139.7h2.2v2.2h-2.2zM865.1 1140.1h2.3v2.3h-2.3zM907.4 1138.8h1.9v1.9h-1.9zM908.1 1139.4h2.5v2.5h-2.5zM913.8 1140.0h1.9v1.9h-1.9zM919.7 1138.4h2.5v2.5h-2.5zM928.5 1138.6h1.8v1.8h-1.8zM990.3 1140.2h2.6v2.6h-2.6zM994.0 1138.0h2.7v2.7h-2.7zM995.1 1140.1h2.5v2.5h-2.5zM1041.5 1140.0h2.9v2.9h-2.9zM1067.0 1140.6h2.1v2.1h-2.1zM1069.0 1139.5h1.9v1.9h-1.9zM1136.8 1140.0h2.9v2.9h-2.9zM1135.5 1141.8h2.6v2.6h-2.6zM1160.0 1138.4h2.7v2.7h-2.7zM1170.5 1140.2h2.5v2.5h-2.5zM844.9 1142.2h2.2v2.2h-2.2zM884.2 1143.5h2.3v2.3h-2.3zM920.8 1141.8h2.8v2.8h-2.8zM923.7 1142.9h2.6v2.6h-2.6zM925.5 1141.5h2.4v2.4h-2.4zM926.6 1141.6h2.7v2.7h-2.7zM933.6 1142.0h2.0v2.0h-2.0zM940.0 1141.6h2.8v2.8h-2.8zM955.1 1141.9h2.8v2.8h-2.8zM971.2 1142.1h2.8v2.8h-2.8zM979.4 1143.2h2.0v2.0h-2.0zM993.2 1141.4h2.7v2.7h-2.7zM1002.6 1142.9h2.0v2.0h-2.0zM1011.3 1141.6h2.9v2.9h-2.9zM1052.0 1142.4h2.3v2.3h-2.3zM1098.6 1141.5h2.6v2.6h-2.6zM1137.3 1141.9h2.5v2.5h-2.5zM1179.2 1142.7h2.3v2.3h-2.3zM1181.2 1143.8h2.1v2.1h-2.1zM876.4 1144.6h1.9v1.9h-1.9zM892.1 1144.9h2.1v2.1h-2.1zM899.4 1145.0h1.7v1.7h-1.7zM911.5 1145.6h2.3v2.3h-2.3zM919.6 1146.0h2.2v2.2h-2.2zM936.3 1144.0h2.8v2.8h-2.8zM937.9 1146.6h2.7v2.7h-2.7zM981.7 1144.0h2.4v2.4h-2.4zM985.9 1145.0h3.0v3.0h-3.0zM990.9 1146.0h2.6v2.6h-2.6zM1005.5 1145.5h2.2v2.2h-2.2zM1010.6 1147.0h1.9v1.9h-1.9zM1027.0 1143.9h2.9v2.9h-2.9zM1050.4 1143.9h2.5v2.5h-2.5zM1056.5 1143.6h2.9v2.9h-2.9zM1112.7 1146.9h2.0v2.0h-2.0zM1121.4 1145.8h2.5v2.5h-2.5zM1123.5 1147.0h2.3v2.3h-2.3zM1146.1 1146.5h2.6v2.6h-2.6zM1193.8 1146.2h2.2v2.2h-2.2zM873.0 1148.7h2.3v2.3h-2.3zM883.5 1147.3h1.7v1.7h-1.7zM892.8 1148.6h2.7v2.7h-2.7zM891.1 1147.4h2.4v2.4h-2.4zM899.7 1149.9h1.9v1.9h-1.9zM939.7 1150.1h1.7v1.7h-1.7zM945.0 1148.3h1.6v1.6h-1.6zM963.3 1148.3h1.7v1.7h-1.7zM979.6 1147.9h2.3v2.3h-2.3zM995.4 1147.1h2.2v2.2h-2.2zM1006.4 1147.5h2.7v2.7h-2.7zM1004.4 1147.7h2.4v2.4h-2.4zM1022.5 1149.5h2.9v2.9h-2.9zM1044.3 1149.3h1.6v1.6h-1.6zM1071.0 1149.3h2.3v2.3h-2.3zM1073.2 1150.1h2.1v2.1h-2.1zM1093.4 1149.1h2.8v2.8h-2.8zM1100.6 1149.1h2.6v2.6h-2.6zM1137.7 1147.3h3.0v3.0h-3.0zM1164.3 1149.0h2.0v2.0h-2.0zM820.9 1151.7h2.3v2.3h-2.3zM869.3 1152.1h2.2v2.2h-2.2zM892.1 1151.9h2.2v2.2h-2.2zM925.8 1150.4h2.8v2.8h-2.8zM925.1 1148.5h2.5v2.5h-2.5zM945.0 1149.9h2.7v2.7h-2.7zM944.5 1147.9h2.5v2.5h-2.5zM952.1 1151.4h2.8v2.8h-2.8zM973.4 1151.2h2.9v2.9h-2.9zM978.0 1152.7h2.5v2.5h-2.5zM980.7 1150.3h2.9v2.9h-2.9zM1027.2 1150.3h1.9v1.9h-1.9zM1051.6 1151.4h2.8v2.8h-2.8zM1086.1 1152.1h2.7v2.7h-2.7zM1112.5 1150.9h2.0v2.0h-2.0zM1133.1 1152.4h2.2v2.2h-2.2zM1131.1 1152.2h2.0v2.0h-2.0zM1160.3 1152.6h2.7v2.7h-2.7zM1158.9 1154.3h2.5v2.5h-2.5zM1170.0 1150.7h2.1v2.1h-2.1zM1191.6 1152.4h2.9v2.9h-2.9zM838.5 1153.9h2.9v2.9h-2.9zM884.6 1153.4h2.6v2.6h-2.6zM885.3 1155.7h2.3v2.3h-2.3zM888.1 1155.9h2.1v2.1h-2.1zM896.3 1154.6h1.7v1.7h-1.7zM909.7 1154.5h2.3v2.3h-2.3zM913.7 1155.3h2.2v2.2h-2.2zM921.5 1153.2h2.5v2.5h-2.5zM920.8 1151.3h2.2v2.2h-2.2zM936.2 1154.8h1.8v1.8h-1.8zM950.4 1154.0h2.5v2.5h-2.5zM978.9 1154.6h2.7v2.7h-2.7zM980.7 1155.9h1.6v1.6h-1.6zM981.2 1158.1h1.5v1.5h-1.5zM982.7 1153.9h2.9v2.9h-2.9zM1011.8 1153.3h1.7v1.7h-1.7zM1009.7 1153.4h1.5v1.5h-1.5zM1012.9 1154.5h2.9v2.9h-2.9zM1016.3 1155.3h1.9v1.9h-1.9zM1014.3 1154.7h1.7v1.7h-1.7zM1032.8 1153.3h2.1v2.1h-2.1zM1052.5 1155.0h2.6v2.6h-2.6zM1050.9 1156.5h2.4v2.4h-2.4zM1062.3 1155.6h2.7v2.7h-2.7zM1081.0 1154.3h1.6v1.6h-1.6zM1098.2 1154.8h2.7v2.7h-2.7zM1096.2 1155.7h2.5v2.5h-2.5zM1102.7 1153.7h2.7v2.7h-2.7zM1117.4 1155.0h1.9v1.9h-1.9zM1126.4 1152.8h2.8v2.8h-2.8zM1145.9 1154.3h2.5v2.5h-2.5zM1148.0 1155.3h2.2v2.2h-2.2zM1149.8 1156.0h2.0v2.0h-2.0zM1151.7 1154.9h1.8v1.8h-1.8zM1156.2 1155.2h2.9v2.9h-2.9zM1197.8 1153.5h2.3v2.3h-2.3zM945.8 1157.6h2.1v2.1h-2.1zM947.7 1157.2h2.4v2.4h-2.4zM959.0 1156.4h2.1v2.1h-2.1zM1000.5 1158.1h2.8v2.8h-2.8zM1002.1 1159.9h2.6v2.6h-2.6zM1031.8 1158.9h1.9v1.9h-1.9zM1040.2 1158.7h2.0v2.0h-2.0zM1045.8 1158.5h2.7v2.7h-2.7zM1065.7 1156.2h2.7v2.7h-2.7zM1067.2 1157.8h2.8v2.8h-2.8zM1077.2 1158.9h1.9v1.9h-1.9zM1075.5 1157.7h1.7v1.7h-1.7zM1132.2 1156.8h2.1v2.1h-2.1zM1140.8 1157.5h1.7v1.7h-1.7zM1142.6 1159.0h1.6v1.6h-1.6zM1189.4 1157.4h2.3v2.3h-2.3zM905.8 1160.0h3.0v3.0h-3.0zM924.8 1161.1h2.4v2.4h-2.4zM923.8 1163.1h2.2v2.2h-2.2zM927.1 1159.2h2.5v2.5h-2.5zM926.4 1161.4h2.3v2.3h-2.3zM956.2 1160.8h1.8v1.8h-1.8zM987.8 1160.9h2.7v2.7h-2.7zM987.3 1158.9h2.5v2.5h-2.5zM1010.9 1160.3h1.7v1.7h-1.7zM1074.2 1161.6h2.2v2.2h-2.2zM1079.1 1159.4h1.9v1.9h-1.9zM1125.5 1159.7h2.6v2.6h-2.6zM1124.6 1161.8h2.4v2.4h-2.4zM1161.5 1159.1h3.0v3.0h-3.0zM1164.8 1159.7h2.2v2.2h-2.2zM1173.1 1161.4h2.0v2.0h-2.0zM1176.4 1160.3h1.9v1.9h-1.9zM1174.5 1159.4h1.7v1.7h-1.7zM1183.1 1161.0h2.1v2.1h-2.1zM891.8 1164.2h1.7v1.7h-1.7zM909.5 1161.9h2.7v2.7h-2.7zM918.6 1163.8h2.0v2.0h-2.0zM928.1 1164.8h2.3v2.3h-2.3zM928.8 1162.8h2.0v2.0h-2.0zM969.2 1163.4h2.4v2.4h-2.4zM992.5 1162.2h2.0v2.0h-2.0zM1040.7 1163.6h2.5v2.5h-2.5zM1038.7 1164.1h2.3v2.3h-2.3zM1043.6 1162.1h2.7v2.7h-2.7zM1076.4 1162.2h1.8v1.8h-1.8zM1084.8 1163.7h2.2v2.2h-2.2zM1083.0 1164.9h2.0v2.0h-2.0zM1118.8 1163.8h2.7v2.7h-2.7zM1123.8 1164.6h2.3v2.3h-2.3zM1126.1 1164.9h2.1v2.1h-2.1zM1124.7 1161.8h2.7v2.7h-2.7zM1126.8 1162.9h2.5v2.5h-2.5zM1130.6 1163.8h2.9v2.9h-2.9zM1168.0 1163.7h3.0v3.0h-3.0zM1166.0 1164.2h2.7v2.7h-2.7zM1170.4 1164.5h2.9v2.9h-2.9zM1176.6 1163.3h2.1v2.1h-2.1zM1183.8 1162.8h1.7v1.7h-1.7zM1185.8 1163.8h1.5v1.5h-1.5zM1189.4 1162.2h2.6v2.6h-2.6zM1198.1 1164.1h2.2v2.2h-2.2zM828.9 1165.5h2.0v2.0h-2.0zM874.2 1167.4h2.2v2.2h-2.2zM905.4 1167.8h1.6v1.6h-1.6zM943.9 1165.9h2.8v2.8h-2.8zM955.1 1165.4h2.0v2.0h-2.0zM955.9 1167.6h1.8v1.8h-1.8zM974.7 1167.3h2.3v2.3h-2.3zM984.5 1165.2h2.2v2.2h-2.2zM996.5 1166.6h2.5v2.5h-2.5zM995.7 1168.7h2.2v2.2h-2.2zM1002.8 1166.8h1.8v1.8h-1.8zM1002.6 1164.8h1.6v1.6h-1.6zM1026.7 1166.0h2.6v2.6h-2.6zM1030.6 1167.4h1.7v1.7h-1.7zM1036.0 1168.0h1.8v1.8h-1.8zM1058.8 1166.8h2.5v2.5h-2.5zM1056.7 1166.8h2.2v2.2h-2.2zM1126.8 1165.2h1.8v1.8h-1.8zM1139.3 1166.9h2.2v2.2h-2.2zM1140.6 1168.8h2.0v2.0h-2.0zM1157.8 1166.1h2.8v2.8h-2.8zM1180.8 1167.5h1.6v1.6h-1.6zM1196.3 1166.2h2.2v2.2h-2.2zM1197.7 1168.1h2.0v2.0h-2.0zM909.8 1169.0h2.3v2.3h-2.3zM922.7 1170.1h1.8v1.8h-1.8zM924.3 1169.0h2.7v2.7h-2.7zM951.6 1170.8h1.6v1.6h-1.6zM955.5 1169.6h1.9v1.9h-1.9zM954.7 1171.7h1.7v1.7h-1.7zM969.2 1169.1h2.8v2.8h-2.8zM967.5 1170.4h2.5v2.5h-2.5zM975.6 1168.1h2.7v2.7h-2.7zM975.2 1170.4h2.5v2.5h-2.5zM982.5 1169.4h2.8v2.8h-2.8zM1001.5 1169.2h2.6v2.6h-2.6zM1016.6 1168.1h2.8v2.8h-2.8zM1023.9 1170.3h1.7v1.7h-1.7zM1025.7 1169.6h1.6v1.6h-1.6zM1027.9 1169.2h1.4v1.4h-1.4zM1065.1 1170.1h2.9v2.9h-2.9zM1075.1 1170.9h2.1v2.1h-2.1zM1073.0 1170.8h1.9v1.9h-1.9zM1094.4 1169.4h2.8v2.8h-2.8zM1094.7 1167.3h2.5v2.5h-2.5zM1113.7 1169.4h2.7v2.7h-2.7zM1113.5 1167.4h2.5v2.5h-2.5zM1153.7 1168.3h2.6v2.6h-2.6zM1151.8 1167.7h2.3v2.3h-2.3zM1184.6 1168.8h2.7v2.7h-2.7zM1193.7 1168.9h2.9v2.9h-2.9zM861.0 1171.4h1.9v1.9h-1.9zM860.2 1169.5h1.7v1.7h-1.7zM917.3 1172.9h2.8v2.8h-2.8zM936.2 1171.4h1.9v1.9h-1.9zM955.4 1171.9h2.5v2.5h-2.5zM953.4 1172.2h2.2v2.2h-2.2zM984.6 1172.8h1.7v1.7h-1.7zM998.7 1173.4h1.8v1.8h-1.8zM1002.8 1172.4h2.7v2.7h-2.7zM1018.2 1171.4h2.0v2.0h-2.0zM1020.5 1171.6h1.8v1.8h-1.8zM1040.4 1172.4h2.7v2.7h-2.7zM1061.1 1171.1h2.9v2.9h-2.9zM1081.7 1173.0h2.2v2.2h-2.2zM1141.7 1173.3h1.7v1.7h-1.7zM1158.7 1171.9h1.7v1.7h-1.7zM1161.7 1173.8h2.3v2.3h-2.3zM1193.2 1172.5h2.9v2.9h-2.9zM1191.1 1172.8h2.7v2.7h-2.7zM805.2 1176.8h2.3v2.3h-2.3zM928.5 1174.7h2.7v2.7h-2.7zM929.3 1175.6h2.2v2.2h-2.2zM931.6 1175.3h2.0v2.0h-2.0zM933.9 1175.7h2.2v2.2h-2.2zM941.5 1174.8h2.1v2.1h-2.1zM943.8 1174.5h1.9v1.9h-1.9zM951.7 1175.2h2.5v2.5h-2.5zM962.0 1174.0h2.8v2.8h-2.8zM963.3 1172.2h2.5v2.5h-2.5zM973.9 1175.6h2.8v2.8h-2.8zM993.9 1174.5h2.4v2.4h-2.4zM992.5 1176.3h2.1v2.1h-2.1zM1013.8 1174.6h2.7v2.7h-2.7zM1013.7 1172.6h2.4v2.4h-2.4zM1026.6 1174.2h2.4v2.4h-2.4zM1041.9 1174.1h2.0v2.0h-2.0zM1039.9 1174.8h1.8v1.8h-1.8zM1084.3 1175.5h2.0v2.0h-2.0zM1085.9 1176.5h2.1v2.1h-2.1zM1153.7 1174.6h2.9v2.9h-2.9zM1169.8 1174.8h2.5v2.5h-2.5zM910.9 1177.6h2.5v2.5h-2.5zM913.0 1176.6h2.3v2.3h-2.3zM923.9 1178.8h3.0v3.0h-3.0zM933.4 1179.3h2.0v2.0h-2.0zM935.1 1177.8h1.8v1.8h-1.8zM936.8 1179.2h2.7v2.7h-2.7zM939.1 1179.3h2.4v2.4h-2.4zM1024.2 1178.0h1.9v1.9h-1.9zM1030.5 1177.5h1.9v1.9h-1.9zM1047.2 1177.4h2.5v2.5h-2.5zM1059.2 1179.6h2.6v2.6h-2.6zM1096.8 1178.4h2.4v2.4h-2.4zM1123.5 1178.7h1.9v1.9h-1.9zM1125.4 1180.1h1.7v1.7h-1.7zM1124.5 1178.6h1.6v1.6h-1.6zM1131.0 1178.0h1.9v1.9h-1.9zM1138.1 1179.5h2.3v2.3h-2.3zM1154.4 1177.9h3.0v3.0h-3.0zM1158.6 1179.4h1.7v1.7h-1.7zM900.2 1181.9h1.9v1.9h-1.9zM902.5 1182.0h1.7v1.7h-1.7zM920.2 1181.0h2.1v2.1h-2.1zM919.1 1179.2h1.8v1.8h-1.8zM943.8 1181.3h2.2v2.2h-2.2zM968.3 1182.8h1.7v1.7h-1.7zM978.5 1183.1h1.7v1.7h-1.7zM1005.8 1180.2h1.8v1.8h-1.8zM1011.1 1181.0h2.1v2.1h-2.1zM1021.0 1182.5h2.5v2.5h-2.5zM1030.8 1182.4h1.8v1.8h-1.8zM1080.2 1180.9h2.4v2.4h-2.4zM1090.5 1182.6h2.2v2.2h-2.2zM1118.3 1180.9h2.9v2.9h-2.9zM1120.6 1180.4h2.6v2.6h-2.6zM1139.7 1180.3h2.8v2.8h-2.8zM1174.1 1179.7h2.7v2.7h-2.7zM1178.4 1181.8h2.4v2.4h-2.4zM817.0 1183.1h2.9v2.9h-2.9zM829.8 1184.6h2.9v2.9h-2.9zM828.7 1186.5h2.6v2.6h-2.6zM916.8 1182.9h3.0v3.0h-3.0zM972.7 1185.3h2.4v2.4h-2.4zM972.5 1183.2h2.2v2.2h-2.2zM1018.7 1183.3h2.2v2.2h-2.2zM1016.7 1182.9h2.0v2.0h-2.0zM1038.2 1184.8h2.4v2.4h-2.4zM1051.4 1185.6h1.7v1.7h-1.7zM1077.9 1183.6h1.8v1.8h-1.8zM1100.5 1183.1h2.8v2.8h-2.8zM1105.5 1183.9h2.9v2.9h-2.9zM1105.2 1186.2h2.6v2.6h-2.6zM1108.8 1183.7h2.9v2.9h-2.9zM1150.6 1186.0h1.8v1.8h-1.8zM847.6 1186.5h2.8v2.8h-2.8zM942.1 1186.4h2.0v2.0h-2.0zM944.6 1188.3h2.7v2.7h-2.7zM952.3 1188.1h3.0v3.0h-3.0zM961.7 1186.8h1.6v1.6h-1.6zM963.9 1186.4h1.4v1.4h-1.4zM964.7 1186.9h2.5v2.5h-2.5zM962.6 1186.5h2.3v2.3h-2.3zM971.1 1188.1h2.7v2.7h-2.7zM1011.4 1185.8h2.9v2.9h-2.9zM1014.8 1188.1h2.0v2.0h-2.0zM1062.0 1187.0h2.0v2.0h-2.0zM1078.4 1188.1h2.0v2.0h-2.0zM1080.2 1186.8h1.8v1.8h-1.8zM1098.7 1187.5h1.9v1.9h-1.9zM1098.9 1185.4h1.8v1.8h-1.8zM1107.2 1188.7h2.0v2.0h-2.0zM1108.6 1190.5h1.8v1.8h-1.8zM1113.2 1188.7h1.7v1.7h-1.7zM1119.7 1188.8h2.1v2.1h-2.1zM1120.2 1191.1h1.9v1.9h-1.9zM1139.0 1187.3h1.8v1.8h-1.8zM1140.4 1188.8h2.0v2.0h-2.0zM1156.2 1186.0h2.5v2.5h-2.5zM1156.8 1184.0h2.3v2.3h-2.3zM1179.8 1186.1h2.7v2.7h-2.7zM1197.9 1187.6h2.4v2.4h-2.4zM1196.9 1189.6h2.2v2.2h-2.2zM916.9 1191.5h1.7v1.7h-1.7zM938.5 1190.8h2.4v2.4h-2.4zM954.0 1190.0h2.1v2.1h-2.1zM954.2 1192.3h1.9v1.9h-1.9zM957.6 1189.6h2.3v2.3h-2.3zM959.2 1188.1h2.1v2.1h-2.1zM992.6 1189.4h2.7v2.7h-2.7zM1024.8 1191.7h2.5v2.5h-2.5zM1044.7 1190.2h1.7v1.7h-1.7zM1051.8 1190.9h2.4v2.4h-2.4zM1078.5 1189.8h2.3v2.3h-2.3zM1085.2 1191.5h2.0v2.0h-2.0zM1120.5 1190.7h1.8v1.8h-1.8zM1148.6 1189.6h2.7v2.7h-2.7zM1193.2 1191.0h2.9v2.9h-2.9zM1191.4 1192.3h2.6v2.6h-2.6zM913.1 1194.2h2.3v2.3h-2.3zM916.9 1194.5h1.7v1.7h-1.7zM955.0 1193.1h2.9v2.9h-2.9zM965.7 1193.3h2.5v2.5h-2.5zM980.6 1192.1h1.9v1.9h-1.9zM985.8 1194.7h1.8v1.8h-1.8zM1007.7 1195.1h1.6v1.6h-1.6zM1027.0 1193.3h2.1v2.1h-2.1zM1070.7 1194.6h2.5v2.5h-2.5zM1121.6 1192.1h2.1v2.1h-2.1zM1129.6 1192.8h2.9v2.9h-2.9zM1135.1 1194.0h1.8v1.8h-1.8zM1152.3 1192.5h2.3v2.3h-2.3zM859.7 1195.9h1.6v1.6h-1.6zM916.5 1196.5h2.4v2.4h-2.4zM920.3 1197.2h2.8v2.8h-2.8zM937.7 1197.7h2.2v2.2h-2.2zM962.9 1196.9h2.8v2.8h-2.8zM969.5 1195.1h2.9v2.9h-2.9zM987.1 1196.6h2.9v2.9h-2.9zM989.4 1196.5h2.6v2.6h-2.6zM993.7 1197.3h1.9v1.9h-1.9zM1018.6 1195.8h2.9v2.9h-2.9zM1024.7 1197.2h2.2v2.2h-2.2zM1026.2 1197.5h1.8v1.8h-1.8zM1030.2 1196.9h2.5v2.5h-2.5zM1044.0 1196.5h2.8v2.8h-2.8zM1042.3 1195.5h2.5v2.5h-2.5zM1052.0 1197.3h1.8v1.8h-1.8zM1053.1 1199.4h1.6v1.6h-1.6zM1055.9 1194.7h2.9v2.9h-2.9zM1064.2 1196.6h3.0v3.0h-3.0zM1081.5 1196.1h2.7v2.7h-2.7zM1093.6 1196.2h1.8v1.8h-1.8zM1108.5 1195.8h2.3v2.3h-2.3zM1108.8 1193.7h2.1v2.1h-2.1zM1125.5 1195.7h2.5v2.5h-2.5zM1132.6 1194.9h2.7v2.7h-2.7zM1132.3 1197.2h2.4v2.4h-2.4zM1136.5 1196.4h2.0v2.0h-2.0zM1149.7 1196.6h2.8v2.8h-2.8zM1151.7 1195.7h2.6v2.6h-2.6zM1160.3 1197.3h2.3v2.3h-2.3zM1190.5 1196.7h2.8v2.8h-2.8zM914.8 1200.7h1.8v1.8h-1.8zM919.7 1198.6h1.7v1.7h-1.7zM935.6 1198.7h2.1v2.1h-2.1zM943.5 1199.8h2.3v2.3h-2.3zM944.3 1200.6h2.1v2.1h-2.1zM946.4 1199.7h1.9v1.9h-1.9zM1004.9 1198.2h2.7v2.7h-2.7zM1004.9 1196.2h2.4v2.4h-2.4zM1030.6 1199.2h1.9v1.9h-1.9zM1065.1 1198.6h2.4v2.4h-2.4zM1075.4 1200.6h2.3v2.3h-2.3zM1081.4 1199.2h2.8v2.8h-2.8zM1119.7 1200.1h2.1v2.1h-2.1zM1122.1 1199.0h1.9v1.9h-1.9zM1131.6 1198.4h2.1v2.1h-2.1zM1139.0 1200.6h1.6v1.6h-1.6zM1146.4 1198.1h2.2v2.2h-2.2zM1163.6 1198.8h1.9v1.9h-1.9zM1181.1 1198.5h1.8v1.8h-1.8zM1186.2 1200.5h2.0v2.0h-2.0zM1197.3 1198.4h2.9v2.9h-2.9zM1198.0 1200.7h2.6v2.6h-2.6zM851.5 1203.4h2.7v2.7h-2.7zM884.6 1203.5h1.8v1.8h-1.8zM907.4 1200.8h2.6v2.6h-2.6zM906.5 1199.0h2.3v2.3h-2.3zM950.7 1201.6h2.5v2.5h-2.5zM949.3 1200.2h2.3v2.3h-2.3zM954.4 1203.4h2.1v2.1h-2.1zM977.7 1201.2h1.9v1.9h-1.9zM1013.6 1203.3h2.8v2.8h-2.8zM1020.1 1203.6h2.6v2.6h-2.6zM1019.2 1205.7h2.3v2.3h-2.3zM1041.9 1202.6h2.4v2.4h-2.4zM1110.2 1201.8h1.6v1.6h-1.6zM1115.9 1201.8h2.2v2.2h-2.2zM1121.1 1201.4h2.3v2.3h-2.3zM1139.4 1201.8h2.3v2.3h-2.3zM1142.7 1203.3h2.8v2.8h-2.8zM1140.7 1203.5h2.6v2.6h-2.6zM1163.7 1202.7h1.6v1.6h-1.6zM1179.2 1202.3h2.7v2.7h-2.7zM1179.0 1204.6h2.4v2.4h-2.4zM1184.6 1202.0h2.8v2.8h-2.8zM837.2 1206.7h2.0v2.0h-2.0zM850.4 1206.1h2.7v2.7h-2.7zM860.0 1206.8h2.1v2.1h-2.1zM923.9 1205.8h2.1v2.1h-2.1zM923.0 1207.8h1.9v1.9h-1.9zM998.2 1206.5h2.2v2.2h-2.2zM1002.2 1204.9h2.8v2.8h-2.8zM1061.2 1204.4h3.0v3.0h-3.0zM1074.5 1206.3h2.2v2.2h-2.2zM1073.8 1204.3h2.0v2.0h-2.0zM1077.4 1206.3h2.5v2.5h-2.5zM1076.3 1208.3h2.3v2.3h-2.3zM1089.3 1205.1h1.9v1.9h-1.9zM1091.0 1203.7h1.7v1.7h-1.7zM1103.6 1206.6h2.3v2.3h-2.3zM1105.9 1207.0h2.1v2.1h-2.1zM1111.0 1204.0h3.0v3.0h-3.0zM1112.7 1206.0h2.0v2.0h-2.0zM1116.0 1204.7h1.7v1.7h-1.7zM1114.3 1206.1h1.5v1.5h-1.5zM1128.1 1205.6h1.7v1.7h-1.7zM1126.0 1206.2h1.6v1.6h-1.6zM1131.1 1205.1h1.7v1.7h-1.7zM1147.2 1205.1h2.4v2.4h-2.4zM1149.6 1206.7h2.0v2.0h-2.0zM1169.3 1206.8h1.8v1.8h-1.8zM1169.2 1209.1h1.7v1.7h-1.7zM1184.0 1204.2h2.3v2.3h-2.3zM1182.4 1205.7h2.1v2.1h-2.1zM1191.0 1205.4h2.7v2.7h-2.7zM876.1 1208.1h1.8v1.8h-1.8zM874.2 1207.4h1.6v1.6h-1.6zM898.2 1209.1h2.1v2.1h-2.1zM954.6 1208.6h1.9v1.9h-1.9zM963.1 1208.3h1.8v1.8h-1.8zM988.4 1209.6h1.7v1.7h-1.7zM991.0 1208.0h2.6v2.6h-2.6zM993.2 1207.4h2.4v2.4h-2.4zM1005.7 1209.9h2.0v2.0h-2.0zM1016.6 1207.5h2.1v2.1h-2.1zM1028.6 1207.9h2.5v2.5h-2.5zM1035.6 1207.1h2.0v2.0h-2.0zM1051.1 1207.3h2.1v2.1h-2.1zM1050.4 1205.3h1.9v1.9h-1.9zM1072.3 1209.1h3.0v3.0h-3.0zM1100.4 1207.3h1.9v1.9h-1.9zM1102.4 1208.5h1.7v1.7h-1.7zM1107.3 1209.2h2.1v2.1h-2.1zM1140.5 1208.1h2.2v2.2h-2.2zM1151.2 1207.0h2.2v2.2h-2.2zM1149.9 1205.5h2.0v2.0h-2.0zM850.8 1212.2h1.8v1.8h-1.8zM853.0 1211.6h1.6v1.6h-1.6zM854.8 1212.5h1.7v1.7h-1.7zM866.4 1213.1h1.6v1.6h-1.6zM913.3 1212.8h2.4v2.4h-2.4zM914.3 1214.9h2.2v2.2h-2.2zM918.6 1212.2h1.7v1.7h-1.7zM943.7 1210.8h2.4v2.4h-2.4zM957.4 1210.3h2.0v2.0h-2.0zM958.8 1211.9h2.3v2.3h-2.3zM997.4 1211.4h2.3v2.3h-2.3zM1000.3 1212.6h1.7v1.7h-1.7zM1032.4 1212.1h2.6v2.6h-2.6zM1034.3 1210.2h2.6v2.6h-2.6zM1049.6 1211.4h1.9v1.9h-1.9zM1054.1 1209.9h2.7v2.7h-2.7zM1056.2 1209.0h2.5v2.5h-2.5zM1057.6 1212.2h2.0v2.0h-2.0zM1059.6 1211.9h2.8v2.8h-2.8zM1126.3 1212.6h2.7v2.7h-2.7zM1130.0 1211.8h2.9v2.9h-2.9zM1166.4 1211.3h2.0v2.0h-2.0zM1164.4 1212.2h1.8v1.8h-1.8zM1176.0 1212.6h2.6v2.6h-2.6zM962.6 1213.5h1.9v1.9h-1.9zM961.9 1211.5h1.7v1.7h-1.7zM1015.0 1215.0h1.7v1.7h-1.7zM1014.2 1213.1h1.6v1.6h-1.6zM1071.8 1214.1h2.5v2.5h-2.5zM1071.0 1216.3h2.3v2.3h-2.3zM1082.0 1213.9h1.8v1.8h-1.8zM1085.6 1213.3h2.3v2.3h-2.3zM1099.5 1216.1h1.7v1.7h-1.7zM1114.7 1212.7h2.7v2.7h-2.7zM1124.0 1213.6h2.2v2.2h-2.2zM1125.6 1215.4h2.0v2.0h-2.0zM1147.9 1215.6h2.4v2.4h-2.4zM812.8 1218.5h2.6v2.6h-2.6zM812.9 1220.8h2.3v2.3h-2.3zM921.5 1218.2h2.9v2.9h-2.9zM980.2 1218.6h2.2v2.2h-2.2zM980.3 1220.9h2.0v2.0h-2.0zM1000.0 1218.2h1.9v1.9h-1.9zM1024.4 1218.9h1.7v1.7h-1.7zM1029.1 1218.0h2.2v2.2h-2.2zM1031.2 1217.2h2.6v2.6h-2.6zM1044.6 1216.6h2.7v2.7h-2.7zM1157.4 1217.5h1.6v1.6h-1.6zM1174.3 1216.3h3.0v3.0h-3.0zM1174.7 1217.9h3.0v3.0h-3.0zM913.7 1219.8h2.4v2.4h-2.4zM912.1 1218.5h2.2v2.2h-2.2zM915.7 1221.3h2.3v2.3h-2.3zM990.0 1221.3h2.1v2.1h-2.1zM991.0 1223.3h1.9v1.9h-1.9zM995.5 1219.5h2.2v2.2h-2.2zM997.6 1220.6h2.8v2.8h-2.8zM1005.9 1220.4h2.8v2.8h-2.8zM1008.3 1221.1h2.8v2.8h-2.8zM1030.6 1221.7h2.6v2.6h-2.6zM1057.9 1221.3h2.3v2.3h-2.3zM1059.3 1220.3h2.4v2.4h-2.4zM1063.1 1219.6h2.5v2.5h-2.5zM1108.3 1220.3h2.6v2.6h-2.6zM1109.8 1222.2h2.3v2.3h-2.3zM1114.8 1220.5h2.8v2.8h-2.8zM1121.4 1220.8h2.1v2.1h-2.1zM1145.5 1220.4h2.0v2.0h-2.0zM1189.0 1220.2h1.9v1.9h-1.9zM840.4 1221.8h2.8v2.8h-2.8zM844.9 1223.5h2.7v2.7h-2.7zM894.2 1223.3h1.7v1.7h-1.7zM906.4 1223.1h1.9v1.9h-1.9zM914.5 1222.9h2.8v2.8h-2.8zM912.6 1222.5h2.5v2.5h-2.5zM925.4 1222.5h1.8v1.8h-1.8zM928.8 1224.4h3.0v3.0h-3.0zM952.8 1223.3h2.0v2.0h-2.0zM1007.8 1224.6h2.6v2.6h-2.6zM1006.1 1223.6h2.3v2.3h-2.3zM1029.4 1224.5h2.5v2.5h-2.5zM1031.4 1225.8h2.3v2.3h-2.3zM1031.1 1221.9h2.4v2.4h-2.4zM1029.4 1223.2h2.1v2.1h-2.1zM1045.6 1225.0h2.0v2.0h-2.0zM1076.1 1223.1h2.1v2.1h-2.1zM1104.2 1224.2h2.1v2.1h-2.1zM1109.1 1222.5h2.2v2.2h-2.2zM1121.4 1222.4h2.8v2.8h-2.8zM1168.3 1223.8h2.0v2.0h-2.0zM1167.0 1222.2h1.8v1.8h-1.8zM885.2 1224.8h2.7v2.7h-2.7zM908.5 1225.1h2.6v2.6h-2.6zM917.7 1225.1h2.9v2.9h-2.9zM915.8 1224.3h2.6v2.6h-2.6zM934.0 1227.3h2.4v2.4h-2.4zM955.6 1226.3h1.8v1.8h-1.8zM957.0 1227.4h2.5v2.5h-2.5zM1002.9 1226.1h2.5v2.5h-2.5zM1005.2 1226.4h2.2v2.2h-2.2zM1014.1 1227.4h1.9v1.9h-1.9zM1022.2 1227.4h2.9v2.9h-2.9zM1030.2 1226.3h1.8v1.8h-1.8zM1053.7 1227.2h1.8v1.8h-1.8zM1053.0 1225.2h1.6v1.6h-1.6zM1064.0 1226.1h2.3v2.3h-2.3zM1073.9 1226.7h2.7v2.7h-2.7zM1090.6 1227.6h1.7v1.7h-1.7zM1093.0 1227.0h1.8v1.8h-1.8zM1120.0 1226.5h2.2v2.2h-2.2zM1123.2 1225.5h2.5v2.5h-2.5zM1128.1 1225.6h2.9v2.9h-2.9zM1132.1 1225.7h1.6v1.6h-1.6zM1133.2 1226.7h2.5v2.5h-2.5zM1140.5 1226.8h2.4v2.4h-2.4zM1138.9 1225.6h2.1v2.1h-2.1zM1167.9 1226.7h2.4v2.4h-2.4zM1167.1 1228.8h2.2v2.2h-2.2zM1180.0 1227.3h1.6v1.6h-1.6zM1192.1 1227.7h2.1v2.1h-2.1zM1193.4 1229.7h1.9v1.9h-1.9zM1197.5 1225.1h2.1v2.1h-2.1zM948.0 1229.9h2.7v2.7h-2.7zM965.4 1230.0h2.1v2.1h-2.1zM969.9 1229.0h2.8v2.8h-2.8zM982.5 1229.5h2.1v2.1h-2.1zM984.3 1231.0h1.9v1.9h-1.9zM992.5 1227.8h3.0v3.0h-3.0zM990.7 1226.9h2.7v2.7h-2.7zM1011.1 1229.7h2.9v2.9h-2.9zM1015.6 1228.2h2.2v2.2h-2.2zM1017.5 1228.8h2.2v2.2h-2.2zM1025.6 1231.0h1.7v1.7h-1.7zM1032.0 1228.4h1.6v1.6h-1.6zM1065.3 1228.4h2.9v2.9h-2.9zM1077.9 1230.6h2.2v2.2h-2.2zM1086.1 1227.9h2.4v2.4h-2.4zM1104.6 1228.0h2.3v2.3h-2.3zM1152.0 1229.9h1.9v1.9h-1.9zM1170.6 1228.3h2.7v2.7h-2.7zM1190.0 1230.7h2.0v2.0h-2.0zM1187.9 1231.2h1.8v1.8h-1.8zM1196.1 1230.0h2.7v2.7h-2.7zM903.4 1232.8h2.4v2.4h-2.4zM905.7 1233.3h2.1v2.1h-2.1zM910.0 1231.7h2.8v2.8h-2.8zM913.0 1234.0h1.7v1.7h-1.7zM911.7 1232.4h1.6v1.6h-1.6zM964.6 1233.2h2.0v2.0h-2.0zM966.7 1232.4h1.8v1.8h-1.8zM975.8 1232.3h2.7v2.7h-2.7zM1058.3 1233.9h2.0v2.0h-2.0zM1138.8 1233.4h2.1v2.1h-2.1zM1158.8 1231.1h2.8v2.8h-2.8zM1170.6 1231.6h2.1v2.1h-2.1zM1177.2 1231.9h2.5v2.5h-2.5zM896.2 1234.7h1.9v1.9h-1.9zM910.0 1236.7h2.3v2.3h-2.3zM919.7 1235.8h1.7v1.7h-1.7zM922.5 1236.0h2.8v2.8h-2.8zM931.5 1235.1h2.9v2.9h-2.9zM929.6 1235.8h2.6v2.6h-2.6zM1054.9 1235.5h1.6v1.6h-1.6zM1066.9 1234.3h2.7v2.7h-2.7zM1115.4 1235.3h1.8v1.8h-1.8zM1116.0 1233.3h1.7v1.7h-1.7zM1133.5 1236.2h1.9v1.9h-1.9zM1158.4 1235.6h2.0v2.0h-2.0zM1178.9 1235.2h1.8v1.8h-1.8zM1181.8 1234.2h1.7v1.7h-1.7zM842.5 1239.0h2.9v2.9h-2.9zM904.2 1239.1h2.0v2.0h-2.0zM912.9 1239.3h2.4v2.4h-2.4zM934.5 1237.4h2.0v2.0h-2.0zM950.3 1236.8h2.7v2.7h-2.7zM948.4 1236.1h2.4v2.4h-2.4zM962.5 1237.8h2.7v2.7h-2.7zM984.2 1237.6h1.9v1.9h-1.9zM1001.6 1238.8h2.2v2.2h-2.2zM1018.1 1237.3h2.3v2.3h-2.3zM1017.0 1235.6h2.1v2.1h-2.1zM1029.6 1237.2h2.0v2.0h-2.0zM1037.8 1239.9h2.0v2.0h-2.0zM1043.9 1239.6h2.7v2.7h-2.7zM1042.5 1238.1h2.4v2.4h-2.4zM1056.4 1238.7h2.0v2.0h-2.0zM1064.6 1238.9h2.9v2.9h-2.9zM1081.0 1238.9h2.0v2.0h-2.0zM1108.8 1239.7h2.5v2.5h-2.5zM1128.2 1239.0h2.6v2.6h-2.6zM1145.9 1240.0h1.9v1.9h-1.9zM1147.2 1238.3h1.7v1.7h-1.7zM884.5 1242.4h2.8v2.8h-2.8zM914.8 1241.1h2.1v2.1h-2.1zM920.9 1241.4h2.2v2.2h-2.2zM931.2 1240.4h2.6v2.6h-2.6zM929.2 1240.4h2.3v2.3h-2.3zM947.7 1242.1h2.1v2.1h-2.1zM966.6 1241.6h1.9v1.9h-1.9zM981.0 1241.8h2.8v2.8h-2.8zM998.1 1243.0h1.6v1.6h-1.6zM998.9 1245.1h1.5v1.5h-1.5zM1025.4 1241.1h2.2v2.2h-2.2zM1047.9 1242.2h2.6v2.6h-2.6zM1068.4 1240.8h2.6v2.6h-2.6zM1082.1 1242.3h2.6v2.6h-2.6zM1084.3 1243.3h2.3v2.3h-2.3zM1152.6 1240.1h3.0v3.0h-3.0zM1186.6 1240.1h2.7v2.7h-2.7zM1188.0 1238.4h2.4v2.4h-2.4zM1195.6 1239.8h2.5v2.5h-2.5zM827.1 1243.6h1.9v1.9h-1.9zM826.7 1241.6h1.7v1.7h-1.7zM888.9 1245.0h2.9v2.9h-2.9zM940.8 1244.2h2.3v2.3h-2.3zM961.5 1244.8h2.4v2.4h-2.4zM963.3 1243.4h2.2v2.2h-2.2zM986.9 1244.9h2.6v2.6h-2.6zM995.1 1244.8h2.4v2.4h-2.4zM1009.9 1244.2h1.9v1.9h-1.9zM1036.3 1243.6h2.1v2.1h-2.1zM1037.3 1244.4h2.1v2.1h-2.1zM1056.7 1245.3h2.5v2.5h-2.5zM1067.4 1243.7h2.1v2.1h-2.1zM1065.4 1244.4h1.9v1.9h-1.9zM1074.1 1243.4h1.7v1.7h-1.7zM1112.1 1245.6h2.2v2.2h-2.2zM1110.4 1246.9h2.0v2.0h-2.0zM1146.0 1243.3h3.0v3.0h-3.0zM803.6 1246.7h2.8v2.8h-2.8zM855.2 1247.7h1.6v1.6h-1.6zM853.9 1249.5h1.5v1.5h-1.5zM911.6 1248.0h2.4v2.4h-2.4zM926.8 1248.0h2.5v2.5h-2.5zM951.2 1248.0h1.8v1.8h-1.8zM956.6 1246.6h2.6v2.6h-2.6zM965.5 1247.6h2.1v2.1h-2.1zM970.7 1248.5h2.9v2.9h-2.9zM978.6 1247.1h2.4v2.4h-2.4zM990.4 1246.9h1.6v1.6h-1.6zM988.7 1245.7h1.5v1.5h-1.5zM1001.5 1246.6h1.7v1.7h-1.7zM1033.3 1248.3h2.7v2.7h-2.7zM1160.9 1247.0h2.7v2.7h-2.7zM1170.6 1247.4h2.6v2.6h-2.6zM1172.6 1246.4h2.4v2.4h-2.4zM1176.1 1246.9h2.2v2.2h-2.2zM845.1 1248.7h2.9v2.9h-2.9zM847.2 1247.7h2.6v2.6h-2.6zM891.2 1249.7h2.8v2.8h-2.8zM896.1 1250.3h2.4v2.4h-2.4zM922.5 1249.5h1.9v1.9h-1.9zM932.5 1250.6h3.0v3.0h-3.0zM940.1 1249.5h2.4v2.4h-2.4zM939.9 1251.8h2.2v2.2h-2.2zM965.5 1251.5h2.1v2.1h-2.1zM971.8 1249.6h2.7v2.7h-2.7zM1019.8 1251.0h2.8v2.8h-2.8zM1048.7 1248.6h2.9v2.9h-2.9zM1065.5 1251.0h1.9v1.9h-1.9zM1082.9 1250.9h1.9v1.9h-1.9zM844.9 1254.1h2.2v2.2h-2.2zM847.1 1253.5h2.0v2.0h-2.0zM907.8 1252.1h1.8v1.8h-1.8zM917.1 1252.5h2.6v2.6h-2.6zM928.5 1252.6h2.6v2.6h-2.6zM981.6 1253.8h3.0v3.0h-3.0zM1002.7 1253.1h2.3v2.3h-2.3zM1032.2 1253.4h2.3v2.3h-2.3zM1044.6 1252.6h2.7v2.7h-2.7zM1053.5 1252.3h2.1v2.1h-2.1zM1085.7 1253.7h1.9v1.9h-1.9zM1103.5 1251.8h2.8v2.8h-2.8zM838.0 1255.5h2.9v2.9h-2.9zM880.4 1256.0h2.6v2.6h-2.6zM923.0 1255.5h2.6v2.6h-2.6zM930.6 1256.4h1.9v1.9h-1.9zM949.8 1255.1h1.8v1.8h-1.8zM1003.7 1254.7h2.9v2.9h-2.9zM1004.0 1252.6h2.6v2.6h-2.6zM1029.9 1257.0h2.0v2.0h-2.0zM878.0 1260.5h2.7v2.7h-2.7zM897.0 1259.1h2.1v2.1h-2.1zM898.8 1257.9h1.8v1.8h-1.8zM899.6 1259.9h2.1v2.1h-2.1zM898.1 1261.5h1.9v1.9h-1.9zM934.9 1260.0h2.4v2.4h-2.4zM945.8 1260.9h2.0v2.0h-2.0zM947.9 1259.9h1.8v1.8h-1.8zM958.1 1259.8h2.0v2.0h-2.0zM1017.1 1258.5h2.5v2.5h-2.5zM1017.8 1260.8h2.3v2.3h-2.3zM894.5 1263.0h2.1v2.1h-2.1zM897.3 1261.6h1.9v1.9h-1.9zM895.2 1262.2h1.7v1.7h-1.7zM905.4 1263.3h1.8v1.8h-1.8zM904.2 1261.6h1.6v1.6h-1.6zM927.9 1262.1h2.1v2.1h-2.1zM963.0 1262.4h2.4v2.4h-2.4zM960.9 1262.2h2.1v2.1h-2.1zM1004.1 1262.3h1.9v1.9h-1.9zM1019.3 1261.0h2.4v2.4h-2.4zM1045.2 1262.9h2.1v2.1h-2.1zM1078.3 1261.6h2.4v2.4h-2.4zM1126.4 1260.7h2.8v2.8h-2.8zM1124.5 1260.1h2.5v2.5h-2.5zM852.7 1266.7h2.4v2.4h-2.4zM882.2 1266.5h3.0v3.0h-3.0zM903.1 1266.4h2.6v2.6h-2.6zM947.6 1263.7h2.6v2.6h-2.6zM961.1 1265.2h2.6v2.6h-2.6zM960.9 1267.5h2.3v2.3h-2.3zM993.2 1264.9h2.4v2.4h-2.4zM1026.5 1266.5h2.1v2.1h-2.1zM889.5 1266.8h2.9v2.9h-2.9zM891.3 1268.3h2.6v2.6h-2.6zM899.0 1269.2h1.7v1.7h-1.7zM899.9 1267.2h1.5v1.5h-1.5zM918.5 1267.4h1.6v1.6h-1.6zM927.3 1268.4h2.8v2.8h-2.8zM932.0 1269.8h2.1v2.1h-2.1zM939.0 1267.7h2.0v2.0h-2.0zM956.3 1266.8h2.7v2.7h-2.7zM971.0 1267.8h1.7v1.7h-1.7zM971.7 1268.2h1.8v1.8h-1.8zM999.0 1267.2h1.9v1.9h-1.9zM1001.3 1267.0h1.7v1.7h-1.7zM1003.3 1267.4h2.4v2.4h-2.4zM884.4 1270.0h2.0v2.0h-2.0zM885.3 1268.0h1.8v1.8h-1.8zM909.7 1270.8h2.0v2.0h-2.0zM912.6 1271.2h2.3v2.3h-2.3zM938.1 1271.8h2.0v2.0h-2.0zM1052.3 1270.8h1.8v1.8h-1.8zM900.9 1275.0h3.0v3.0h-3.0zM976.7 1274.2h2.5v2.5h-2.5zM975.9 1272.3h2.2v2.2h-2.2zM985.2 1273.2h2.7v2.7h-2.7zM986.4 1273.8h2.7v2.7h-2.7zM800.9 1277.7h2.4v2.4h-2.4zM803.0 1279.0h2.2v2.2h-2.2zM888.2 1277.8h2.2v2.2h-2.2zM890.5 1278.4h1.9v1.9h-1.9zM918.4 1276.3h2.6v2.6h-2.6zM939.8 1277.4h1.9v1.9h-1.9zM939.0 1279.5h1.7v1.7h-1.7zM964.9 1279.1h1.8v1.8h-1.8zM964.9 1277.1h2.9v2.9h-2.9zM916.5 1280.7h2.4v2.4h-2.4zM963.0 1279.7h2.0v2.0h-2.0zM962.0 1277.9h1.8v1.8h-1.8zM989.0 1280.9h1.9v1.9h-1.9zM888.7 1283.6h2.0v2.0h-2.0zM886.8 1282.8h1.8v1.8h-1.8zM927.4 1282.2h2.2v2.2h-2.2zM928.4 1284.4h2.0v2.0h-2.0zM845.7 1285.9h2.6v2.6h-2.6zM872.2 1286.0h1.7v1.7h-1.7zM889.3 1286.9h1.8v1.8h-1.8zM934.0 1287.2h2.4v2.4h-2.4zM943.0 1287.0h2.1v2.1h-2.1zM958.0 1287.1h1.6v1.6h-1.6zM977.0 1286.8h1.7v1.7h-1.7zM880.7 1288.2h2.4v2.4h-2.4zM884.2 1288.4h2.1v2.1h-2.1zM888.4 1288.4h2.3v2.3h-2.3zM894.4 1290.5h1.9v1.9h-1.9zM896.6 1290.0h1.7v1.7h-1.7zM968.9 1290.0h2.9v2.9h-2.9zM987.9 1289.1h1.9v1.9h-1.9zM987.1 1287.2h1.7v1.7h-1.7zM868.9 1292.5h2.9v2.9h-2.9zM883.5 1293.7h2.3v2.3h-2.3zM901.5 1292.9h3.0v3.0h-3.0zM930.9 1292.0h1.9v1.9h-1.9zM932.9 1293.3h1.7v1.7h-1.7zM946.5 1293.7h2.4v2.4h-2.4zM947.8 1292.9h1.8v1.8h-1.8zM970.6 1293.2h2.9v2.9h-2.9zM975.4 1293.7h1.7v1.7h-1.7zM1007.3 1293.2h2.6v2.6h-2.6zM1081.7 1292.1h1.8v1.8h-1.8zM892.8 1295.3h2.2v2.2h-2.2zM940.2 1296.0h2.5v2.5h-2.5zM941.3 1294.2h2.2v2.2h-2.2zM1185.9 1293.7h3.0v3.0h-3.0zM901.2 1297.7h2.4v2.4h-2.4zM929.8 1299.4h1.8v1.8h-1.8zM958.0 1298.6h2.1v2.1h-2.1zM960.3 1299.0h1.9v1.9h-1.9zM977.8 1297.5h2.9v2.9h-2.9zM911.8 1301.8h1.8v1.8h-1.8zM915.9 1300.7h2.0v2.0h-2.0zM947.1 1299.8h2.6v2.6h-2.6zM970.5 1299.7h2.8v2.8h-2.8zM807.6 1304.2h2.8v2.8h-2.8zM879.8 1305.3h2.8v2.8h-2.8zM881.5 1307.0h2.5v2.5h-2.5zM906.4 1305.3h2.7v2.7h-2.7zM920.8 1303.3h2.2v2.2h-2.2zM943.2 1304.2h1.6v1.6h-1.6zM975.1 1305.2h1.7v1.7h-1.7zM985.8 1305.5h2.0v2.0h-2.0zM865.3 1307.1h1.9v1.9h-1.9zM888.6 1308.6h1.8v1.8h-1.8zM899.7 1306.9h1.8v1.8h-1.8zM922.6 1305.9h3.0v3.0h-3.0zM926.6 1307.4h2.5v2.5h-2.5zM942.3 1306.1h2.6v2.6h-2.6zM965.8 1308.0h2.6v2.6h-2.6zM966.3 1305.9h2.4v2.4h-2.4zM873.9 1310.1h2.2v2.2h-2.2zM872.2 1308.9h2.0v2.0h-2.0zM898.0 1310.8h2.4v2.4h-2.4zM900.5 1311.1h1.8v1.8h-1.8zM899.4 1313.0h1.6v1.6h-1.6zM904.3 1308.8h2.4v2.4h-2.4zM905.1 1311.0h2.2v2.2h-2.2zM938.9 1308.9h2.7v2.7h-2.7zM945.5 1309.1h2.5v2.5h-2.5zM955.7 1309.6h2.9v2.9h-2.9zM1112.4 1311.2h1.6v1.6h-1.6zM868.7 1312.4h2.4v2.4h-2.4zM870.9 1311.9h2.1v2.1h-2.1zM880.5 1314.2h1.9v1.9h-1.9zM910.0 1312.3h2.4v2.4h-2.4zM911.1 1311.9h2.8v2.8h-2.8zM936.6 1313.1h3.0v3.0h-3.0zM961.5 1314.1h1.8v1.8h-1.8zM963.6 1315.2h1.6v1.6h-1.6zM882.9 1316.0h2.3v2.3h-2.3zM885.1 1315.2h2.1v2.1h-2.1zM895.5 1317.3h2.2v2.2h-2.2zM872.6 1320.0h1.6v1.6h-1.6zM874.8 1319.7h1.4v1.4h-1.4zM878.9 1319.7h2.4v2.4h-2.4zM933.5 1317.8h3.0v3.0h-3.0zM951.4 1320.5h2.5v2.5h-2.5zM953.7 1320.3h2.3v2.3h-2.3zM959.7 1318.2h2.3v2.3h-2.3zM961.6 1319.6h2.0v2.0h-2.0zM974.5 1319.0h2.0v2.0h-2.0zM1089.3 1318.7h2.9v2.9h-2.9zM1162.1 1320.0h2.0v2.0h-2.0zM863.2 1322.9h2.1v2.1h-2.1zM865.4 1322.7h1.9v1.9h-1.9zM954.5 1320.7h2.9v2.9h-2.9zM961.8 1321.5h2.4v2.4h-2.4zM1168.7 1323.1h2.6v2.6h-2.6zM903.7 1325.2h2.8v2.8h-2.8zM946.7 1325.6h2.1v2.1h-2.1zM1019.1 1326.4h2.5v2.5h-2.5zM1079.8 1325.7h2.9v2.9h-2.9zM1078.6 1324.2h2.6v2.6h-2.6zM1106.8 1325.4h1.8v1.8h-1.8zM882.8 1327.7h2.4v2.4h-2.4zM883.6 1325.7h2.2v2.2h-2.2zM886.0 1327.9h2.3v2.3h-2.3zM887.8 1327.4h2.3v2.3h-2.3zM890.2 1328.0h2.2v2.2h-2.2zM888.2 1328.6h2.0v2.0h-2.0zM909.6 1327.6h2.2v2.2h-2.2zM930.3 1327.6h2.5v2.5h-2.5zM931.9 1326.0h2.3v2.3h-2.3zM935.6 1329.9h1.7v1.7h-1.7zM957.9 1328.1h1.9v1.9h-1.9zM959.0 1330.2h1.7v1.7h-1.7zM958.7 1328.2h2.8v2.8h-2.8zM966.0 1328.8h1.7v1.7h-1.7zM1038.8 1328.2h2.5v2.5h-2.5zM914.6 1332.3h2.9v2.9h-2.9zM932.9 1332.3h1.9v1.9h-1.9zM935.2 1332.6h1.7v1.7h-1.7zM964.2 1330.4h3.0v3.0h-3.0zM970.5 1332.1h2.3v2.3h-2.3zM1089.2 1332.7h2.4v2.4h-2.4zM1105.5 1330.4h1.8v1.8h-1.8zM890.4 1334.1h2.1v2.1h-2.1zM915.4 1335.0h2.2v2.2h-2.2zM913.6 1334.1h2.0v2.0h-2.0zM942.4 1334.3h1.8v1.8h-1.8zM956.3 1334.6h2.1v2.1h-2.1zM963.0 1335.8h2.1v2.1h-2.1zM993.2 1334.3h2.0v2.0h-2.0z" fill="#20f020"/>
  </g>
  <rect x="1101" y="1314.5" width="89" height="10" fill="#fff"/>
</g>
<rect x="0" y="1336.7" width="1200" height="1.3" fill="#8c8c8c"/>
<rect x="399" y="1037" width="2" height="301" fill="#c8c8c8"/>
<rect x="799" y="1037" width="2" height="301" fill="#c8c8c8"/>

<text transform="translate(11.19,1093.90) scale(1.0105,1)" font-size="69.86" fill="#fff" font-family="Liberation Serif" font-weight="bold">b</text>
<text transform="translate(412.52,1094.01) scale(0.9984,1)" font-size="74.48" fill="#fff" font-family="Liberation Serif" font-weight="bold">c</text>
<text transform="translate(813.83,1093.55) scale(1.0376,1)" font-size="70.36" fill="#fff" font-family="Liberation Serif" font-weight="bold">d</text>
<text transform="translate(432.13,1302.00) scale(1.0459,1)" font-size="51.16" fill="#fff" font-family="Liberation Serif" font-weight="bold">Ni</text>
<text transform="translate(834.46,1301.37) scale(0.9889,1)" font-size="52.58" fill="#fff" font-family="Liberation Serif" font-weight="bold">La</text>
<text transform="translate(277.86,1301.59) scale(1.0419,1)" font-size="35.29" fill="#fff" font-family="Liberation Serif" font-weight="bold">100 µm</text>
<text transform="translate(677.23,1301.35) scale(1.0184,1)" font-size="36.44" fill="#fff" font-family="Liberation Serif" font-weight="bold">100 µm</text>
<text transform="translate(1077.41,1301.35) scale(1.0260,1)" font-size="36.44" fill="#fff" font-family="Liberation Serif" font-weight="bold">100 µm</text>
</svg>
</body></html>
